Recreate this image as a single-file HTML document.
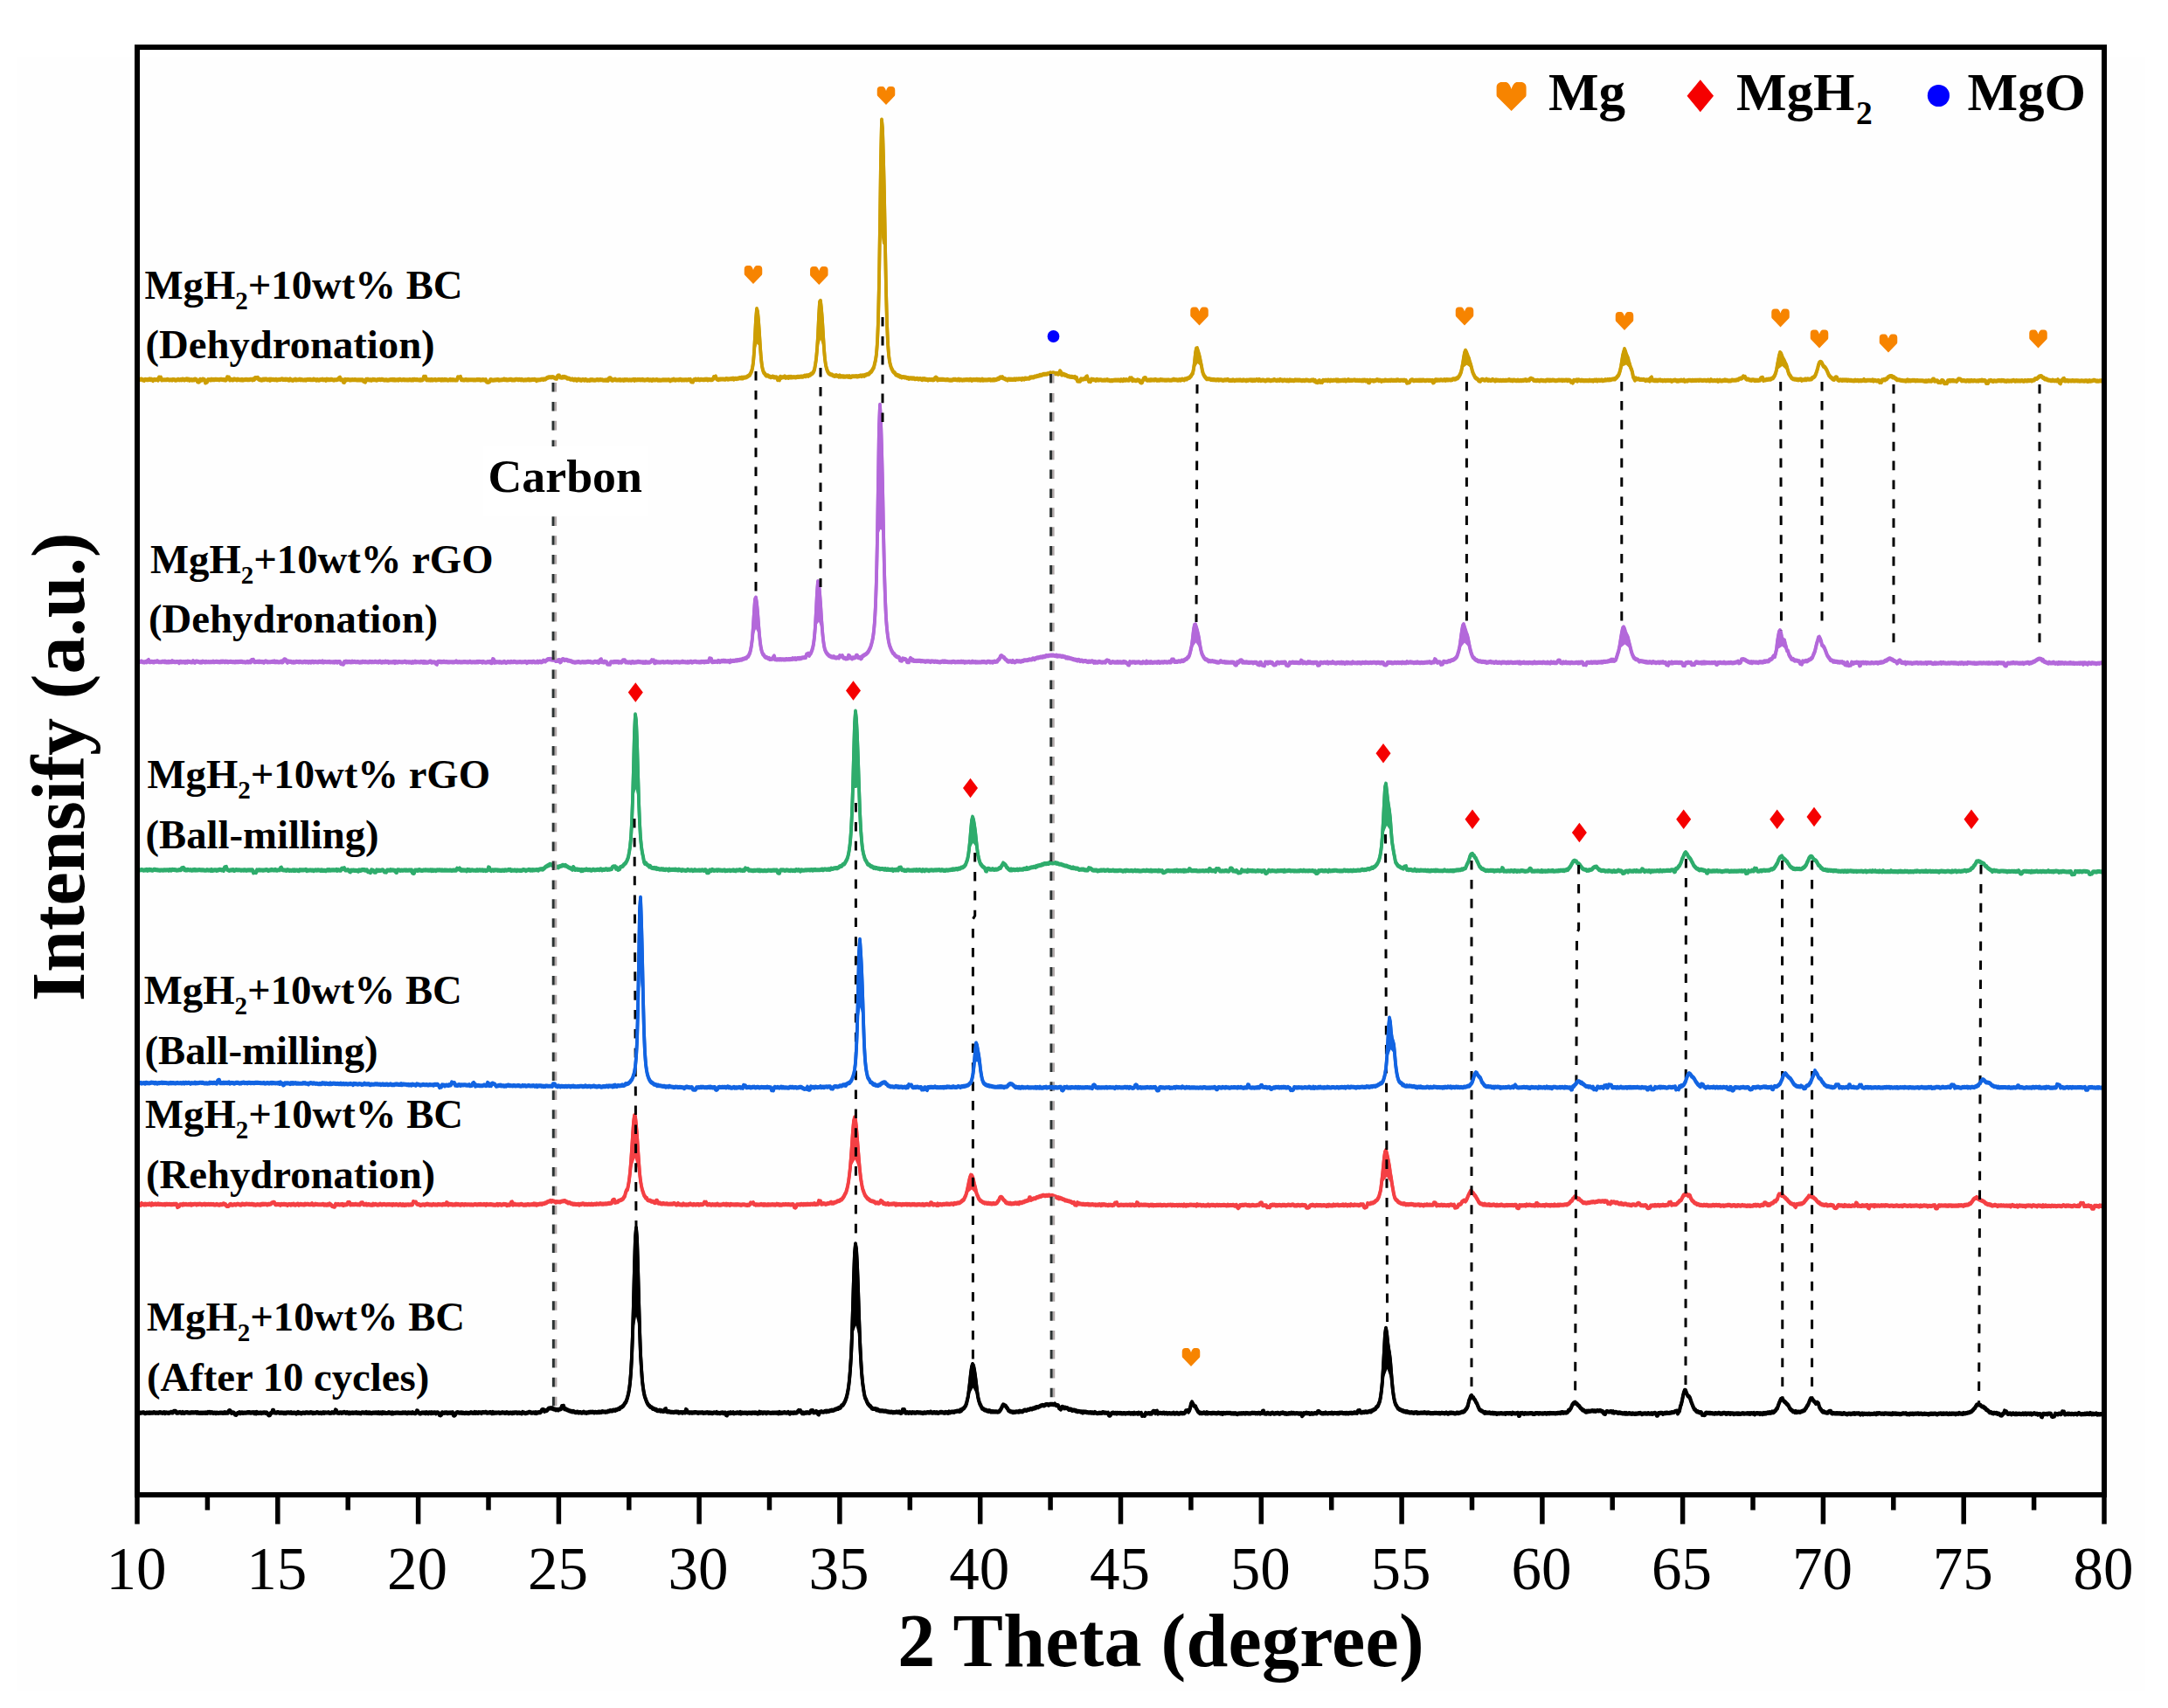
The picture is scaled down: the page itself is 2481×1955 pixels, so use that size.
<!DOCTYPE html>
<html lang="en"><head><meta charset="utf-8"><title>XRD patterns</title>
<style>html,body{margin:0;padding:0;background:#fff}body{width:2481px;height:1955px;overflow:hidden}svg{display:block}text{font-family:"Liberation Serif",serif;fill:#000}.b{font-weight:bold}.lab{font-weight:bold;font-size:46.7px}.tick{font-size:69px;text-anchor:middle}.leg{font-weight:bold;font-size:61px}</style></head><body>
<svg width="2481" height="1955" viewBox="0 0 2481 1955">
<rect x="0" y="0" width="2481" height="1955" fill="#ffffff"/>
<rect x="19" y="65" width="2436" height="1870" fill="#fefefe"/>
<g id="curves">
<path d="M157,433.4l1 .5 1-.5 1 .4 1-.4 1 0 1 .9 1-.2 1 .5 1-.9 1 .1 1 .1 1 0 1 .1 1-.8 1 .8 1-.7 1 .5 1 1.1 1-1.1 1-.1 1 .3 1-.2 1-.3 1 .9 1-3.1 1 .5 1-.4 1 2.8 1-.2 1 .1 1-.1 1 0 1 0 1-.1 1-.3 1 .4 1 .3 1-.2 1-.1 1 .4 1-.7 1 .2 1 .2 1 .5 1-.2 1-.5 1-.4 1 .7 1-.1 1-.5 1 .5 1-.8 1 .2 1 .8 1-.8 1 .3 1-.7 1 1.1 1-.7 1 1.1 1-.6 1-.2 1 .6 1-.3 1 .2 1-1 1 .3 1 .4 1 2.1 1 .3 1-.1 1-2.7 1 .6 1 .3 1-1.2 1 .4 1 .1 1 3.5 1-.4 1-.6 1-2.4 1 .1 1-.1 1 .4 1-.8 1 .6 1-.4 1 .4 1-.5 1-.1 1 .2 1 .1 1 0 1 .4 1-.7 1 .1 1 .1 1 .2 1-.1 1 .1 1 .5 1-.3 1-3 1 .2 1 .1 1 2.9 1-.7 1 .1 1 .6 1-.2 1-.9 1 .4 1 .1 1 .5 1-.9 1 .5 1 .3 1-.1 1 .2 1-.6 1 .8 1-.4 1-.1 1-.1 1-.3 1 .6 1-.2 1 .1 1-.3 1-.1 1 0 1 .6 1-1.1 1 .6 1-1.8 1-.1 1 .4 1-.5 1 1.8 1 .4 1-.3 1 .9 1-.2 1-.8 1 .5 1-.7 1 .3 1-.2 1 .6 1 .1 1-.6 1 1.1 1-1.2 1 .6 1-.4 1 .2 1 .2 1-.1 1-.4 1 .9 1-.3 1-.2 1-.2 1 .1 1-.5 1-.2 1 .8 1-.3 1 .3 1-.6 1 .5 1-.3 1 .8 1 .1 1-1.2 1 .8 1 .3 1 .4 1-.6 1-.1 1-.5 1 .8 1-.2 1 0 1-.3 1-.4 1 .8 1-.4 1 .3 1 .2 1 0 1-.3 1 .4 1-.6 1 0 1-.1 1 .2 1-.3 1 .5 1-.1 1 .1 1-.8 1 .5 1 .2 1 .5 1-.7 1 .4 1 .4 1-.7 1 0 1-.2 1-.3 1 .8 1-.3 1 0 1 .8 1-1.2 1 .5 1-.4 1 .5 1-.1 1-.5 1 .4 1 .2 1 .4 1-.5 1 0 1 0 1-.3 1-.1 1-1.5 1-.7 1 2.7 1-.1 1 .1 1 2.5 1 .2 1-3.1 1 .7 1-.5 1-.1 1 0 1 .5 1-.2 1 .1 1-.3 1 .2 1-.1 1-.1 1 0 1 .3 1 .1 1-.2 1 .1 1 0 1 0 1-.1 1-.1 1 1.6 1 .3 1 .5 1-2.8 1 .6 1-.7 1 .6 1 .2 1-.4 1 .7 1-.7 1-.3 1 .5 1-.3 1 .5 1 .1 1-.6 1 .2 1-.4 1 .3 1 0 1-.4 1 .2 1 .4 1 .4 1-.4 1-.1 1 .5 1 .1 1-.3 1-.2 1-.2 1 .2 1-.5 1 .6 1-.6 1 .8 1-.4 1 .2 1-.3 1 .5 1-.8 1 .1 1 .3 1 .2 1-.3 1-.1 1 .4 1-.2 1 0 1 .3 1-.2 1 .1 1-.4 1 .4 1 .2 1-.8 1 .7 1-.8 1 .4 1 .2 1-.3 1 .1 1 .3 1 .2 1-.6 1 .6 1-.2 1-.5 1-3 1 .1 1-.2 1 3.4 1 .2 1-.3 1 .4 1-.4 1 .5 1-.7 1 .7 1-.4 1 0 1-.4 1 .9 1-.4 1-.1 1-.3 1 .2 1 0 1 .5 1-.8 1 .6 1 .1 1-.6 1 .5 1-.3 1 .4 1 .2 1-.4 1-.5 1 .7 1-.5 1 .5 1-.4 1 .3 1 .2 1-.2 1 .1 1-3.2 1 .5 1-.5 1-.4 1 3.3 1-.3 1 .5 1 .2 1-.4 1-.2 1 .4 1-.2 1 .2 1-.1 1 0 1 0 1-.1 1 .1 1 .2 1-.2 1 .2 1-.2 1-.3 1 0 1 .3 1-.3 1 .6 1-.3 1 .1 1-.4 1 .5 1 .2 1-.5 1 2.4 1 .3 1-.1 1-.4 1-2.1 1-.2 1 .5 1 0 1 .1 1-.3 1 0 1-.2 1-.2 1 0 1 .7 1-.2 1 0 1-.2 1 0 1-.4 1-.4 1 .8 1-.4 1 .6 1-.1 1-.1 1-.3 1-.2 1-.1 1 .8 1-.3 1 .2 1 .1 1-.7 1-.1 1 0 1 .6 1-.5 1 .3 1 .3 1-.6 1 .5 1 .3 1-.1 1-.2 1 .1 1-.2 1-.1 1-.4 1 .8 1-.1 1-.3 1 0 1-.2 1 .2 1-.3 1 .4 1 .9 1-.9 1 .2 1-.2 1 .1 1-.4 1-.3 1 .1 1 .2 1-.5 1 .2 1-.7 1-.9 1-.2 1-.5 1-.1 1 .1 1 .1 1-.3 1 .1 1 .4 1 .7 1 .4 1 .1 1-2.6 1-.8 1 .2 1 1.9 1-.1 1 .4 1-1 1 .7 1-.6 1 .5 1 .1 1 1.1 1 0 1 .1 1 .5 1 .6 1-.1 1-.3 1 .7 1 .4 1-.9 1 .4 1 .8 1-.9 1-.3 1 .9 1-.4 1 .8 1-.5 1-.4 1 .4 1 .4 1-1 1 .5 1 .6 1-.1 1-.1 1 .2 1-.9 1 .5 1-.4 1 .4 1 .2 1-.1 1-.1 1-.5 1 .1 1 .4 1-.2 1-.2 1 .2 1-.1 1 .4 1 .1 1 .1 1-.3 1 .4 1-.8 1 .8 1-2.5 1-.2 1 .5 1 1.9 1 .3 1-.9 1 .1 1-.5 1 .8 1 .2 1-.2 1 .1 1-.5 1 .7 1-.3 1 .2 1-.3 1 .5 1-.8 1 .5 1-.4 1 .1 1 .4 1-.1 1-.2 1 .4 1-.3 1-.1 1-.5 1 1 1-.9 1 .3 1 .2 1-.4 1 .2 1-.2 1 .4 1-.2 1-.4 1 .7 1-.1 1 .3 1-.4 1 0 1-.5 1 .3 1 .6 1-.3 1-.1 1 .6 1-.9 1 .2 1 .3 1 0 1-.5 1 .1 1 .7 1-.2 1 0 1 .1 1-.1 1-.2 1 0 1-.1 1 .2 1-.2 1 .2 1-.1 1-.3 1 .4 1 .8 1-.8 1-.2 1 .2 1-.9 1 .9 1 .2 1-.5 1 0 1 0 1 .3 1-.6 1-.1 1 .8 1-.3 1 .2 1-.2 1 .1 1-.3 1 .4 1-.2 1-.3 1 .1 1-.2 1 2.3 1 .2 1 .2 1-2.3 1-.2 1-.5 1 .6 1-.2 1-.5 1 .8 1 .1 1-.7 1 .2 1 .2 1 0 1 .2 1-.7 1 .4 1-.5 1 .9 1-.6 1 .2 1 .2 1-.1 1 .1 1-.8 1-2.4 1 .4 1-.9 1 2.6 1 .7 1 .4 1-.6 1 .1 1-.3 1 .2 1-.2 1 .2 1 .2 1-.1 1-.7 1 .2 1 .5 1-.3 1-.2 1 .1 1-.4 1 .3 1-.5 1 .9 1-.7 1-.1 1 .4 1-.5 1 .1 1-.7 1 .2 1 .2 1-.8 1 .8 1-.9 1 0 1-.1 1-.3 1-.6 1-.5 1-.7 1-.6 1-2 1-2.1 1-3.6 1-6.4 1-12.1 1-18 1-19.7 1-11.8 1 3.1 1 10.2 1 14.2 1 16.4 1 13 1 8.5 1 4.7 1 2.7 1 1 1 1.7 1 1 1-.4 1 .3 1 .9 1 .2 1 .7 1-.3 1-.5 1 .2 1 .8 1-.1 1-.2 1 .2 1 2.8 1-.5 1 .6 1-3.5 1 1.1 1-.5 1-.1 1 0 1-.9 1 1.4 1-.4 1-.3 1 .7 1-.9 1 .6 1-.7 1 .7 1-.2 1 0 1-.2 1 .3 1 0 1-.4 1-.2 1 .2 1-.3 1 .1 1-.3 1 .1 1 0 1-.4 1-.6 1 .6 1-.9 1 .1 1 .4 1-1.1 1 .1 1-1.3 1-.1 1-.9 1-1.4 1-2.3 1-5.6 1-6.6 1-10.9 1-15.2 1-22.5 1-16.8 1-1.3 1 9.2 1 12.6 1 16.7 1 16.4 1 11.8 1 7 1 4 1 2.8 1 1.8 1 1 1 .7 1 .4 1 0 1 .9 1 .2 1 .5 1-.2 1-.6 1 .7 1 .1 1 .8 1-1.2 1 1.2 1-.4 1-.1 1 .5 1-.3 1 .3 1-.2 1-.1 1 0 1 .5 1-.7 1 .9 1-.1 1-.6 1-.1 1-.1 1 0 1 0 1-.1 1 .4 1-.3 1-.1 1-.3 1-.4 1 .8 1-.8 1 0 1 .4 1-1.1 1 0 1-.5 1-.4 1 0 1-1.1 1-1.1 1-.6 1-1.5 1-1.8 1-1.7 1-4.3 1-4.1 1-7.2 1-13 1-24.7 1-44.7 1-66 1-75 1-44.5 1 10.8 1 34 1 41.6 1 55.8 1 52.6 1 37.6 1 23.3 1 13.4 1 7.6 1 4.4 1 3.1 1 1.9 1 2 1 1.1 1 .8 1 1.5 1 .8 1-.1 1 1 1-.1 1 1.1 1-.2 1 1 1-.5 1 0 1 .5 1-.2 1 .4 1 .5 1-.2 1 .8 1-.5 1 .3 1-.3 1 .5 1-.4 1 .2 1 .6 1-.1 1-.2 1 0 1 .7 1-.3 1-.3 1 .4 1 .8 1-1 1 .5 1-.6 1 .8 1-.2 1 .1 1 .8 1-.7 1 .1 1 0 1 .2 1-.4 1 .6 1-.3 1-1.9 1-.6 1 .6 1 2.3 1-.6 1-.1 1 .1 1-.2 1 .3 1-.3 1 .2 1 .2 1 .1 1 0 1-.4 1 .5 1 .2 1 .1 1 0 1 0 1-.1 1-.6 1 .1 1-.3 1 .4 1 .1 1 .2 1-.8 1 1 1-.5 1 .1 1 .4 1-.1 1-.2 1 .1 1-.3 1 0 1 0 1 .2 1 .2 1-.6 1-.1 1 1.1 1-.6 1-.3 1 .2 1-.2 1 .1 1-.4 1 .8 1-.1 1-.4 1 .8 1-.2 1-1 1 1.1 1-.2 1-.2 1 .2 1-.1 1 .1 1-.5 1 .3 1-.3 1 .7 1-.4 1 .3 1-.7 1 .6 1-.4 1-.1 1-.4 1-.9 1 .4 1-1.3 1-.6 1 .6 1-.7 1 1.2 1 .4 1 .3 1 .7 1 0 1 .8 1-1 1 .1 1 .4 1-.4 1 .4 1-.1 1 0 1-.5 1 .8 1-.8 1 .1 1 0 1-.3 1 .1 1-.1 1 .6 1-.9 1 .3 1 .4 1-1.1 1 .4 1-.2 1 0 1 .1 1 0 1-1.4 1 .2 1-.4 1 .2 1 .1 1-.9 1-.1 1-.1 1-.7 1 .2 1-.3 1-.9 1 .4 1-.3 1-.5 1-.4 1 .1 1-.3 1 0 1-.1 1-.4 1-.1 1-.2 1-.6 1 .3 1 .4 1-.7 1 .3 1 .2 1 .5 1-.3 1 0 1 .7 1-.6 1-2.8 1 1.1 1 3 1 0 1-.8 1 .7 1 .7 1-.2 1 .8 1 .5 1 .1 1 .5 1 .1 1 .1 1-.1 1 .4 1 0 1-.3 1 1.5 1-.6 1 3.7 1 .1 1 0 1 .1 1-2.3 1 .1 1 .3 1-.4 1-.5 1 .3 1-2.4 1-.4 1 3.2 1 2.3 1-.5 1 .8 1-2.5 1 .3 1-.1 1 .4 1 0 1 .6 1-1 1 .1 1 .6 1-.2 1-.1 1-.1 1 .6 1-.1 1 .1 1-.3 1 .1 1-.1 1-.5 1 .7 1 0 1 .5 1 .1 1-.4 1 .4 1-.6 1 0 1-.1 1-.1 1 .2 1-.2 1 .1 1 0 1 .6 1-1 1 .7 1 .3 1-1.3 1 .9 1 0 1-.8 1 .5 1 .1 1 .1 1-2.3 1 .6 1-.6 1 2.7 1-.9 1 .5 1 .2 1 .4 1-.7 1-.3 1 .6 1 .2 1 1.8 1 .5 1-.2 1-2.5 1-2.1 1-.5 1 .2 1 2.1 1 .3 1 .1 1-.6 1 .6 1-.7 1 .5 1-.2 1-.1 1 .4 1-.8 1 .3 1 .7 1-.3 1 0 1 0 1-.6 1 .4 1-.1 1 .2 1 0 1 .2 1-.1 1 .2 1-.2 1-.2 1 .2 1 .1 1 0 1-.1 1-.3 1-.6 1 .7 1-.3 1 .3 1-.1 1 .5 1-.5 1-.2 1 .6 1-.5 1-.7 1 .5 1 .4 1-1 1 0 1 .1 1-1 1-.3 1-.4 1-.9 1-1.1 1-1.8 1-1.4 1-5.1 1-7.3 1-10.4 1-5.3 1-.3 1 3.3 1 3.2 1 4.1 1 5 1 4.7 1 5.8 1 3.3 1 1.8 1 1.5 1 1.3 1 1 1-.1 1 .1 1 0 1 .5 1 .4 1-.4 1 .6 1-.5 1 .5 1 .1 1-.2 1 .2 1-.4 1 .6 1-.3 1 0 1 .1 1 .3 1 .2 1-.4 1-.2 1 .2 1-.2 1-.5 1 .9 1 .2 1-.2 1 .2 1 0 1-.6 1 .6 1 .3 1-.4 1-.2 1 .1 1-.1 1 .1 1-.4 1 .5 1 .1 1 0 1-.5 1 .3 1 0 1 .6 1-.8 1 .5 1-.5 1 0 1-.1 1 .5 1-.6 1 .9 1-.8 1 .6 1-.4 1-.6 1 .4 1 .6 1-1.1 1 .7 1 .5 1-.3 1-.2 1 0 1 .4 1 .5 1-.4 1-.8 1 .4 1-.4 1 .5 1 .5 1-.3 1-.2 1-.1 1-.7 1 .4 1 .4 1 .4 1-.7 1 .2 1 .2 1-1 1 .7 1-.1 1 .8 1-.6 1-.3 1 .4 1 .3 1-.6 1 .7 1 .2 1-1.1 1 .6 1 0 1-.1 1 .4 1-.1 1-.8 1 .5 1-.2 1 0 1 .3 1-.4 1 .2 1 .2 1 .4 1-.6 1 .4 1 .2 1-.7 1 .2 1-.2 1 .3 1 .3 1 .1 1-.3 1-.5 1 .2 1-.4 1 1.3 1-.6 1 1.8 1 .2 1 .1 1-1.7 1-.3 1 1.8 1-.4 1 .5 1-2.1 1 .1 1 0 1-.2 1-.1 1 .6 1-.8 1 .4 1 .6 1-1 1 .5 1 0 1-.3 1 .1 1 0 1-.4 1 1 1-1 1 1 1-.5 1 .4 1-.4 1 .1 1-.5 1 .6 1-.7 1 1.1 1-.2 1-.8 1-.5 1 1.2 1-.4 1 .1 1 0 1-.2 1-.1 1-.2 1 .5 1 0 1-.2 1 .1 1 .4 1-.5 1 .4 1 .3 1-.8 1 .7 1-.8 1 0 1 1 1-.7 1 0 1 2.5 1 0 1-2.6 1 .3 1 .2 1-.4 1 .8 1-.6 1 .1 1-.5 1-.5 1 .4 1 .7 1-.6 1 .3 1 .9 1-.7 1 .1 1 0 1-.7 1 .4 1 0 1 .2 1-.1 1-.2 1 .3 1-.6 1 .4 1-.1 1 .1 1 .1 1-.2 1 .2 1-.7 1 .2 1 .4 1 .2 1-.3 1-.1 1 .1 1 .2 1-.4 1 .5 1-.1 1 2.6 1-.1 1-.2 1-.3 1-1.8 1-.5 1-.5 1 .5 1 .7 1-.3 1-.3 1 .1 1-.2 1 .4 1-.5 1 .6 1-.6 1 .5 1-.6 1 0 1 .6 1 .2 1-.3 1-.3 1 0 1 .4 1-.3 1 .2 1 .4 1-.6 1 2.6 1-.4 1-2.2 1-.7 1 .9 1-.6 1 .4 1-.3 1 .1 1-.4 1 .3 1 .2 1-.2 1-.5 1 .8 1-.5 1-.2 1 .4 1-.3 1 0 1 .2 1 0 1-.4 1-.8 1 0 1 .5 1-.4 1-1 1 .1 1-1.3 1-1.3 1-1.9 1-2.5 1-4.6 1-5.3 1-6.4 1-5.7 1-2.6 1 1.6 1 2.6 1 2.6 1 2.3 1 3.9 1 2.8 1 3.8 1 4.2 1 2.6 1 2 1 2 1 1.1 1 .7 1 .5 1 1.5 1 .6 1 .2 1-1.5 1-.6 1 .3 1 .4 1 .4 1-.3 1-.9 1 .6 1 .8 1-.7 1 .4 1 .3 1-.2 1-.9 1 .6 1 .3 1 .7 1-1.1 1 .6 1-.5 1 .5 1 .1 1-.3 1 .3 1-.1 1-.2 1 .1 1 .2 1-.4 1 .2 1-.2 1 0 1-.7 1 .8 1 .2 1-.4 1 .8 1-.8 1-.1 1 .5 1 .1 1 .1 1-.6 1 .6 1 .1 1-.6 1 .6 1-.4 1 .1 1-.4 1 .1 1-.5 1 .9 1-.4 1-.2 1 .2 1-1.6 1-.4 1 .4 1 .3 1 1.3 1 .3 1 0 1 .2 1-.3 1-.1 1 .4 1 .2 1-.6 1 0 1 .2 1 .1 1 .1 1 0 1 .2 1-.8 1-.1 1 .1 1 .6 1-.7 1 .5 1-.2 1-.2 1 .2 1 0 1 .5 1-.1 1-.3 1-.2 1-.2 1 .3 1-.1 1-.1 1 .5 1-.5 1 .3 1-.2 1-.1 1-.1 1 .7 1-.6 1 .1 1 .4 1 1.7 1-.1 1 .8 1-2.8 1 .2 1 .2 1-.7 1 1.2 1-1.3 1 .2 1 .4 1 .4 1-.7 1 .5 1-.1 1 .4 1-.3 1-.1 1 .2 1-.1 1 .3 1-.8 1 .5 1 .1 1-.3 1 .7 1-.9 1-.1 1 .5 1-.7 1 1 1-.6 1-.2 1 .4 1-.2 1-.4 1 .9 1-.2 1-.3 1-.7 1 .5 1-.2 1-.4 1 .5 1-.6 1 .4 1-.4 1-.3 1-.2 1-.2 1 .2 1-1 1-.7 1-1.3 1-1.1 1-2.2 1-3.5 1-4.3 1-6.4 1-6.3 1-4 1-3.5 1 2.5 1 3.3 1 2.2 1 2.3 1 4.1 1 3.1 1 3.5 1 2.2 1 3.1 1 5.7 1 1.5 1 2 1-2.2 1 1 1 0 1-.3 1 .6 1 .3 1-.1 1 .1 1 0 1-.1 1 .5 1 .7 1-.9 1 .3 1 .4 1-.9 1 1.5 1-3.1 1-.9 1 3.2 1-.1 1 .5 1-.6 1 .7 1-.6 1 .7 1-.7 1 .1 1-.3 1 .7 1-.2 1 .5 1-.3 1-.4 1 .7 1-.4 1-.1 1 .1 1-.1 1 .2 1-.3 1 1.1 1-.6 1-.4 1-.2 1-.2 1 .7 1 .5 1-.7 1 .6 1-.7 1 .3 1-.6 1 .4 1 .2 1-.7 1 1.3 1-.4 1-.2 1 .4 1-.8 1-.1 1 .1 1 .2 1 .2 1-.5 1 .4 1-.2 1 0 1 .1 1-.3 1 .1 1 .2 1-.4 1 .2 1 0 1 .3 1-.2 1-.2 1 .1 1 .2 1 .3 1-.6 1-.2 1 .9 1 0 1-1.3 1 .8 1 .4 1 0 1-.6 1 .6 1 0 1-.6 1 1.1 1-.5 1-.7 1 .6 1 .2 1 0 1-.4 1-.1 1-.6 1 .8 1-.4 1 .4 1 .4 1-.1 1 0 1-.2 1-.6 1 .2 1 0 1-.1 1 .1 1-.2 1-.4 1 .1 1-1.1 1-.3 1-.4 1 .1 1-.8 1-1.5 1 1 1-.4 1 2.1 1 .6 1 0 1 0 1 .8 1 .1 1 .4 1-.6 1 .1 1 0 1 .8 1-.6 1 .4 1-.3 1 .3 1-.3 1 .1 1-2.3 1-.6 1-.2 1 3.3 1-.8 1 .3 1-.3 1-.5 1 .3 1-.5 1 .1 1 .1 1-.6 1-.6 1-.3 1-1.4 1-1.7 1-2.4 1-3.9 1-5.7 1-5.3 1-5.2 1-3.6 1 1 1 2.5 1 2.6 1 1.8 1 1.8 1 2.5 1 1.7 1 2.9 1 4 1 3.2 1 1.7 1 1.4 1 1.7 1 .8 1 .7 1 .1 1 .3 1-.1 1 .4 1-.2 1 .6 1-.7 1 .2 1-.4 1 1.4 1-.7 1 .1 1 0 1-1 1 .9 1-.7 1-.1 1 .3 1 0 1-.3 1 0 1-1.4 1-.4 1-.8 1-.9 1-2.2 1-2.9 1-3.3 1-4.1 1-2.7 1-1 1 .2 1 1.2 1 2.3 1 1.5 1 .6 1 1.1 1 1.7 1 2 1 2.5 1 2.2 1 1.2 1 1.2 1 .5 1 1.2 1 .7 1 .1 1-1.9 1-.7 1 .2 1 2.5 1 .7 1 .2 1-.7 1 .2 1 .6 1-.7 1 .4 1-.3 1 .3 1-.4 1 .8 1-.5 1 .2 1 .2 1-.2 1 .3 1 .1 1 0 1 .2 1-.8 1 .5 1-.1 1-.1 1 .6 1-.5 1 0 1 .4 1-.3 1-.2 1-.9 1 1.1 1 .1 1-.1 1-.4 1 0 1 0 1 .1 1 .2 1 0 1-.7 1 1.2 1-.7 1 .2 1 .3 1 .2 1-.4 1-.1 1 2 1-1.1 1 1 1-2.5 1 .2 1-.8 1 .5 1-.9 1 0 1-1.2 1-1.2 1-.5 1-.4 1 .2 1-.2 1 1.4 1-.4 1 .6 1 1 1 .3 1 1.3 1-.1 1 .1 1 .2 1 .2 1 .3 1 0 1 .2 1 .1 1 .1 1 .3 1-.7 1-.6 1 1 1-.5 1 .5 1-.2 1-.2 1-.1 1 .1 1-.1 1 .5 1-.1 1-.4 1 .3 1 0 1 .1 1 0 1 0 1-.1 1 .2 1 .3 1 .2 1-.6 1 .7 1-.6 1-.3 1 .5 1-.2 1 .4 1-.8 1-1.4 1-.1 1 2.3 1-.2 1-.3 1-.1 1 1.8 1-.1 1-.2 1 .5 1-2.1 1 0 1 .5 1 2.5 1 .1 1-.5 1 .4 1-2.8 1 .5 1-1 1 .8 1-.5 1 .3 1-.6 1 .6 1 .1 1 0 1 .5 1-1.1 1-1.4 1-.1 1 .2 1 .5 1 1.3 1-.3 1-.1 1 .1 1 .4 1 .2 1-.6 1 0 1 .5 1-.6 1 .6 1-.7 1 .5 1 .1 1-.4 1 0 1 .3 1 .2 1-.3 1 .3 1-.6 1 0 1 .2 1-.7 1 .7 1-.1 1-.1 1 .2 1 2.7 1-.2 1 .3 1-2.6 1 .1 1-.6 1 .2 1 .7 1 .2 1-.8 1 .2 1 .3 1 0 1-.5 1-.2 1 .1 1 .2 1 .2 1-.7 1 .5 1-.2 1 .6 1-.2 1 .5 1-.8 1 0 1 .6 1-.3 1 0 1 .2 1-.5 1-.4 1 .3 1 .7 1-.5 1-.2 1 .4 1-.1 1-.1 1 .3 1-.4 1-.1 1 .5 1 .3 1-.9 1 .3 1 .1 1 .1 1-.6 1 .4 1-.2 1-.2 1 .6 1-.5 1-.4 1-.2 1-1.4 1 0 1-.1 1-1 1-.6 1-1.1 1 .1 1-.3 1 .9 1 1 1 .2 1 1.3 1-.1 1 .1 1 .9 1 .2 1 .3 1-.1 1 .6 1-.1 1-.7 1 .6 1 .3 1-.3 1 .2 1 .2 1-1.3 1 1.4 1 2 1 .7 1-3.2 1 .2 1-2.1 1-.3 1 2.6 1-.1 1-.5 1 .2 1 .6 1-.5 1 0 1 .2 1 0 1-.4 1 .5 1-.3 1 .2 1-.3 1 .3 1-.1 1 .2 1 .1 1-.1 1-.1 1 0 1 .2 1 .2 1-.5 1 .1 1-.2 1 .8 1-.1 1-.8 1 .5 1 0 1-.2 1-.3 1-.3 1-.1 1 .6 1 .4 1-.3 1 .3 1-.1 1-.2 1-.1 1 .1 1-.3 1 .7 1 0" fill="none" stroke="#cd9e03" stroke-width="3.7" stroke-linejoin="round"/>
<path d="M157,434.8l1 .5 1-.5 1 .4 1-.4 1 0 1 .9 1-.2 1 .5 1-.9 1 .1 1 .1 1 0 1 .1 1-.8 1 .8 1-.7 1 .5 1 1.1 1-1.1 1-.1 1 .3 1-.2 1-.3 1 .9 1-3.1 1 .5 1-.4 1 2.8 1-.2 1 .1 1-.1 1 0 1 0 1-.1 1-.3 1 .4 1 .3 1-.2 1-.1 1 .4 1-.7 1 .2 1 .2 1 .5 1-.2 1-.5 1-.4 1 .7 1-.1 1-.5 1 .5 1-.8 1 .2 1 .8 1-.8 1 .3 1-.7 1 1.1 1-.7 1 1.1 1-.6 1-.2 1 .6 1-.3 1 .2 1-1 1 .3 1 .4 1 2.1 1 .3 1-.1 1-2.7 1 .6 1 .3 1-1.2 1 .4 1 .1 1 3.5 1-.4 1-.6 1-2.4 1 .1 1-.1 1 .4 1-.8 1 .6 1-.4 1 .4 1-.5 1-.1 1 .2 1 .1 1 0 1 .4 1-.7 1 .1 1 .1 1 .2 1-.1 1 .1 1 .5 1-.3 1-3 1 .2 1 .1 1 2.9 1-.7 1 .1 1 .6 1-.2 1-.9 1 .4 1 .1 1 .5 1-.9 1 .5 1 .3 1-.1 1 .2 1-.6 1 .8 1-.4 1-.1 1-.1 1-.3 1 .6 1-.2 1 .1 1-.3 1-.1 1 0 1 .6 1-1.1 1 .6 1-1.8 1-.1 1 .4 1-.5 1 1.8 1 .4 1-.3 1 .9 1-.2 1-.8 1 .5 1-.7 1 .3 1-.2 1 .6 1 .1 1-.6 1 1.1 1-1.2 1 .6 1-.4 1 .2 1 .2 1-.1 1-.4 1 .9 1-.3 1-.2 1-.2 1 .1 1-.5 1-.2 1 .8 1-.3 1 .3 1-.6 1 .5 1-.3 1 .8 1 .1 1-1.2 1 .8 1 .3 1 .4 1-.6 1-.1 1-.5 1 .8 1-.2 1 0 1-.3 1-.4 1 .8 1-.4 1 .3 1 .2 1 0 1-.3 1 .4 1-.6 1 0 1-.1 1 .2 1-.3 1 .5 1-.1 1 .1 1-.8 1 .5 1 .2 1 .5 1-.7 1 .4 1 .4 1-.7 1 0 1-.2 1-.3 1 .8 1-.3 1 0 1 .8 1-1.2 1 .5 1-.4 1 .5 1-.1 1-.5 1 .4 1 .2 1 .4 1-.5 1 0 1 0 1-.3 1-.1 1-1.5 1-.7 1 2.7 1-.1 1 .1 1 2.5 1 .2 1-3.1 1 .7 1-.5 1-.1 1 0 1 .5 1-.2 1 .1 1-.3 1 .2 1-.1 1-.1 1 0 1 .3 1 .1 1-.2 1 .1 1 0 1 0 1-.1 1-.1 1 1.6 1 .3 1 .5 1-2.8 1 .6 1-.7 1 .6 1 .2 1-.4 1 .7 1-.7 1-.3 1 .5 1-.3 1 .5 1 .1 1-.6 1 .2 1-.4 1 .3 1 0 1-.4 1 .2 1 .4 1 .4 1-.4 1-.1 1 .5 1 .1 1-.3 1-.2 1-.2 1 .2 1-.5 1 .6 1-.6 1 .8 1-.4 1 .2 1-.3 1 .5 1-.8 1 .1 1 .3 1 .2 1-.3 1-.1 1 .4 1-.2 1 0 1 .3 1-.2 1 .1 1-.4 1 .4 1 .2 1-.8 1 .7 1-.8 1 .4 1 .2 1-.3 1 .1 1 .3 1 .2 1-.6 1 .6 1-.2 1-.5 1-3 1 .1 1-.2 1 3.4 1 .2 1-.3 1 .4 1-.4 1 .5 1-.7 1 .7 1-.4 1 0 1-.4 1 .9 1-.4 1-.1 1-.3 1 .2 1 0 1 .5 1-.8 1 .6 1 .1 1-.6 1 .5 1-.3 1 .4 1 .2 1-.4 1-.5 1 .7 1-.5 1 .5 1-.4 1 .3 1 .2 1-.2 1 .1 1-3.2 1 .5 1-.5 1-.4 1 3.3 1-.3 1 .5 1 .2 1-.4 1-.2 1 .4 1-.2 1 .2 1-.1 1 0 1 0 1-.1 1 .1 1 .2 1-.2 1 .2 1-.2 1-.3 1 0 1 .3 1-.3 1 .6 1-.3 1 .1 1-.4 1 .5 1 .2 1-.5 1 2.4 1 .3 1-.1 1-.4 1-2.1 1-.2 1 .5 1 0 1 .1 1-.3 1 0 1-.2 1-.2 1 0 1 .7 1-.2 1 0 1-.2 1 0 1-.4 1-.4 1 .8 1-.4 1 .6 1-.1 1-.1 1-.3 1-.2 1-.1 1 .8 1-.3 1 .2 1 .1 1-.7 1-.1 1 0 1 .6 1-.5 1 .3 1 .3 1-.6 1 .5 1 .3 1-.1 1-.2 1 .1 1-.2 1-.1 1-.4 1 .8 1-.1 1-.3 1 0 1-.2 1 .2 1-.3 1 .4 1 .9 1-.9 1 .2 1-.2 1 .1 1-.4 1-.3 1 .1 1 .2 1-.5 1 .2 1-.7 1-.9 1-.2 1-.5 1-.1 1 .1 1 .1 1-.3 1 .1 1 .4 1 .7 1 .4 1 .1 1-2.6 1-.8 1 .2 1 1.9 1-.1 1 .4 1-1 1 .7 1-.6 1 .5 1 .1 1 1.1 1 0 1 .1 1 .5 1 .6 1-.1 1-.3 1 .7 1 .4 1-.9 1 .4 1 .8 1-.9 1-.3 1 .9 1-.4 1 .8 1-.5 1-.4 1 .4 1 .4 1-1 1 .5 1 .6 1-.1 1-.1 1 .2 1-.9 1 .5 1-.4 1 .4 1 .2 1-.1 1-.1 1-.5 1 .1 1 .4 1-.2 1-.2 1 .2 1-.1 1 .4 1 .1 1 .1 1-.3 1 .4 1-.8 1 .8 1-2.5 1-.2 1 .5 1 1.9 1 .3 1-.9 1 .1 1-.5 1 .8 1 .2 1-.2 1 .1 1-.5 1 .7 1-.3 1 .2 1-.3 1 .5 1-.8 1 .5 1-.4 1 .1 1 .4 1-.1 1-.2 1 .4 1-.3 1-.1 1-.5 1 1 1-.9 1 .3 1 .2 1-.4 1 .2 1-.2 1 .4 1-.2 1-.4 1 .7 1-.1 1 .3 1-.4 1 0 1-.5 1 .3 1 .6 1-.3 1-.1 1 .6 1-.9 1 .2 1 .3 1 0 1-.5 1 .1 1 .7 1-.2 1 0 1 .1 1-.1 1-.2 1 0 1-.1 1 .2 1-.2 1 .2 1-.1 1-.3 1 .4 1 .8 1-.8 1-.2 1 .2 1-.9 1 .9 1 .2 1-.5 1 0 1 0 1 .3 1-.6 1-.1 1 .8 1-.3 1 .2 1-.2 1 .1 1-.3 1 .4 1-.2 1-.3 1 .1 1-.2 1 2.3 1 .2 1 .2 1-2.3 1-.2 1-.5 1 .6 1-.2 1-.5 1 .8 1 .1 1-.7 1 .2 1 .2 1 0 1 .2 1-.7 1 .4 1-.5 1 .9 1-.6 1 .2 1 .2 1-.1 1 .1 1-.8 1-2.4 1 .4 1-.9 1 2.6 1 .7 1 .4 1-.6 1 .1 1-.3 1 .2 1-.2 1 .2 1 .2 1-.1 1-.7 1 .2 1 .5 1-.3 1-.2 1 .1 1-.4 1 .3 1-.5 1 .9 1-.7 1-.1 1 .4 1-.5 1 .1 1-.7 1 .2 1 .2 1-.8 1 .8 1-.9 1 0 1-.1 1-.3 1-.6 1-.5 1-.7 1-.6 1-2 1-2.1 1-3.6 1-6.4 1-12.1 1-18 1-19.7 1-11.8 1 3.1 1 10.2 1 14.2 1 16.4 1 13 1 8.5 1 4.7 1 2.7 1 1 1 1.7 1 1 1-.4 1 .3 1 .9 1 .2 1 .7 1-.3 1-.5 1 .2 1 .8 1-.1 1-.2 1 .2 1 2.8 1-.5 1 .6 1-3.5 1 1.1 1-.5 1-.1 1 0 1-.9 1 1.4 1-.4 1-.3 1 .7 1-.9 1 .6 1-.7 1 .7 1-.2 1 0 1-.2 1 .3 1 0 1-.4 1-.2 1 .2 1-.3 1 .1 1-.3 1 .1 1 0 1-.4 1-.6 1 .6 1-.9 1 .1 1 .4 1-1.1 1 .1 1-1.3 1-.1 1-.9 1-1.4 1-2.3 1-5.6 1-6.6 1-10.9 1-15.2 1-22.5 1-16.8 1-1.3 1 9.2 1 12.6 1 16.7 1 16.4 1 11.8 1 7 1 4 1 2.8 1 1.8 1 1 1 .7 1 .4 1 0 1 .9 1 .2 1 .5 1-.2 1-.6 1 .7 1 .1 1 .8 1-1.2 1 1.2 1-.4 1-.1 1 .5 1-.3 1 .3 1-.2 1-.1 1 0 1 .5 1-.7 1 .9 1-.1 1-.6 1-.1 1-.1 1 0 1 0 1-.1 1 .4 1-.3 1-.1 1-.3 1-.4 1 .8 1-.8 1 0 1 .4 1-1.1 1 0 1-.5 1-.4 1 0 1-1.1 1-1.1 1-.6 1-1.5 1-1.8 1-1.7 1-4.3 1-4.1 1-7.2 1-13 1-24.7 1-44.7 1-66 1-75 1-44.5 1 10.8 1 34 1 41.6 1 55.8 1 52.6 1 37.6 1 23.3 1 13.4 1 7.6 1 4.4 1 3.1 1 1.9 1 2 1 1.1 1 .8 1 1.5 1 .8 1-.1 1 1 1-.1 1 1.1 1-.2 1 1 1-.5 1 0 1 .5 1-.2 1 .4 1 .5 1-.2 1 .8 1-.5 1 .3 1-.3 1 .5 1-.4 1 .2 1 .6 1-.1 1-.2 1 0 1 .7 1-.3 1-.3 1 .4 1 .8 1-1 1 .5 1-.6 1 .8 1-.2 1 .1 1 .8 1-.7 1 .1 1 0 1 .2 1-.4 1 .6 1-.3 1-1.9 1-.6 1 .6 1 2.3 1-.6 1-.1 1 .1 1-.2 1 .3 1-.3 1 .2 1 .2 1 .1 1 0 1-.4 1 .5 1 .2 1 .1 1 0 1 0 1-.1 1-.6 1 .1 1-.3 1 .4 1 .1 1 .2 1-.8 1 1 1-.5 1 .1 1 .4 1-.1 1-.2 1 .1 1-.3 1 0 1 0 1 .2 1 .2 1-.6 1-.1 1 1.1 1-.6 1-.3 1 .2 1-.2 1 .1 1-.4 1 .8 1-.1 1-.4 1 .8 1-.2 1-1 1 1.1 1-.2 1-.2 1 .2 1-.1 1 .1 1-.5 1 .3 1-.3 1 .7 1-.4 1 .3 1-.7 1 .6 1-.4 1-.1 1-.4 1-.9 1 .4 1-1.3 1-.6 1 .6 1-.7 1 1.2 1 .4 1 .3 1 .7 1 0 1 .8 1-1 1 .1 1 .4 1-.4 1 .4 1-.1 1 0 1-.5 1 .8 1-.8 1 .1 1 0 1-.3 1 .1 1-.1 1 .6 1-.9 1 .3 1 .4 1-1.1 1 .4 1-.2 1 0 1 .1 1 0 1-1.4 1 .2 1-.4 1 .2 1 .1 1-.9 1-.1 1-.1 1-.7 1 .2 1-.3 1-.9 1 .4 1-.3 1-.5 1-.4 1 .1 1-.3 1 0 1-.1 1-.4 1-.1 1-.2 1-.6 1 .3 1 .4 1-.7 1 .3 1 .2 1 .5 1-.3 1 0 1 .7 1-.6 1-2.8 1 1.1 1 3 1 0 1-.8 1 .7 1 .7 1-.2 1 .8 1 .5 1 .1 1 .5 1 .1 1 .1 1-.1 1 .4 1 0 1-.3 1 1.5 1-.6 1 3.7 1 .1 1 0 1 .1 1-2.3 1 .1 1 .3 1-.4 1-.5 1 .3 1-2.4 1-.4 1 3.2 1 2.3 1-.5 1 .8 1-2.5 1 .3 1-.1 1 .4 1 0 1 .6 1-1 1 .1 1 .6 1-.2 1-.1 1-.1 1 .6 1-.1 1 .1 1-.3 1 .1 1-.1 1-.5 1 .7 1 0 1 .5 1 .1 1-.4 1 .4 1-.6 1 0 1-.1 1-.1 1 .2 1-.2 1 .1 1 0 1 .6 1-1 1 .7 1 .3 1-1.3 1 .9 1 0 1-.8 1 .5 1 .1 1 .1 1-2.3 1 .6 1-.6 1 2.7 1-.9 1 .5 1 .2 1 .4 1-.7 1-.3 1 .6 1 .2 1 1.8 1 .5 1-.2 1-2.5 1-2.1 1-.5 1 .2 1 2.1 1 .3 1 .1 1-.6 1 .6 1-.7 1 .5 1-.2 1-.1 1 .4 1-.8 1 .3 1 .7 1-.3 1 0 1 0 1-.6 1 .4 1-.1 1 .2 1 0 1 .2 1-.1 1 .2 1-.2 1-.2 1 .2 1 .1 1 0 1-.1 1-.3 1-.6 1 .7 1-.3 1 .3 1-.1 1 .5 1-.5 1-.2 1 .6 1-.5 1-.7 1 .5 1 .4 1-1 1 0 1 .1 1-1 1-.3 1-.4 1-.9 1-1.1 1-1.8 1-1.4 1-5.1 1-7.3 1-10.4 1-5.3 1-.3 1 3.3 1 3.2 1 4.1 1 5 1 4.7 1 5.8 1 3.3 1 1.8 1 1.5 1 1.3 1 1 1-.1 1 .1 1 0 1 .5 1 .4 1-.4 1 .6 1-.5 1 .5 1 .1 1-.2 1 .2 1-.4 1 .6 1-.3 1 0 1 .1 1 .3 1 .2 1-.4 1-.2 1 .2 1-.2 1-.5 1 .9 1 .2 1-.2 1 .2 1 0 1-.6 1 .6 1 .3 1-.4 1-.2 1 .1 1-.1 1 .1 1-.4 1 .5 1 .1 1 0 1-.5 1 .3 1 0 1 .6 1-.8 1 .5 1-.5 1 0 1-.1 1 .5 1-.6 1 .9 1-.8 1 .6 1-.4 1-.6 1 .4 1 .6 1-1.1 1 .7 1 .5 1-.3 1-.2 1 0 1 .4 1 .5 1-.4 1-.8 1 .4 1-.4 1 .5 1 .5 1-.3 1-.2 1-.1 1-.7 1 .4 1 .4 1 .4 1-.7 1 .2 1 .2 1-1 1 .7 1-.1 1 .8 1-.6 1-.3 1 .4 1 .3 1-.6 1 .7 1 .2 1-1.1 1 .6 1 0 1-.1 1 .4 1-.1 1-.8 1 .5 1-.2 1 0 1 .3 1-.4 1 .2 1 .2 1 .4 1-.6 1 .4 1 .2 1-.7 1 .2 1-.2 1 .3 1 .3 1 .1 1-.3 1-.5 1 .2 1-.4 1 1.3 1-.6 1 1.8 1 .2 1 .1 1-1.7 1-.3 1 1.8 1-.4 1 .5 1-2.1 1 .1 1 0 1-.2 1-.1 1 .6 1-.8 1 .4 1 .6 1-1 1 .5 1 0 1-.3 1 .1 1 0 1-.4 1 1 1-1 1 1 1-.5 1 .4 1-.4 1 .1 1-.5 1 .6 1-.7 1 1.1 1-.2 1-.8 1-.5 1 1.2 1-.4 1 .1 1 0 1-.2 1-.1 1-.2 1 .5 1 0 1-.2 1 .1 1 .4 1-.5 1 .4 1 .3 1-.8 1 .7 1-.8 1 0 1 1 1-.7 1 0 1 2.5 1 0 1-2.6 1 .3 1 .2 1-.4 1 .8 1-.6 1 .1 1-.5 1-.5 1 .4 1 .7 1-.6 1 .3 1 .9 1-.7 1 .1 1 0 1-.7 1 .4 1 0 1 .2 1-.1 1-.2 1 .3 1-.6 1 .4 1-.1 1 .1 1 .1 1-.2 1 .2 1-.7 1 .2 1 .4 1 .2 1-.3 1-.1 1 .1 1 .2 1-.4 1 .5 1-.1 1 2.6 1-.1 1-.2 1-.3 1-1.8 1-.5 1-.5 1 .5 1 .7 1-.3 1-.3 1 .1 1-.2 1 .4 1-.5 1 .6 1-.6 1 .5 1-.6 1 0 1 .6 1 .2 1-.3 1-.3 1 0 1 .4 1-.3 1 .2 1 .4 1-.6 1 2.6 1-.4 1-2.2 1-.7 1 .9 1-.6 1 .4 1-.3 1 .1 1-.4 1 .3 1 .2 1-.2 1-.5 1 .8 1-.5 1-.2 1 .4 1-.3 1 0 1 .2 1 0 1-.4 1-.8 1 0 1 .5 1-.4 1-1 1 .1 1-1.3 1-1.3 1-1.9 1-2.5 1-4.6 1-5.3 1-6.4 1-5.7 1-2.6 1 1.6 1 2.6 1 2.6 1 2.3 1 3.9 1 2.8 1 3.8 1 4.2 1 2.6 1 2 1 2 1 1.1 1 .7 1 .5 1 1.5 1 .6 1 .2 1-1.5 1-.6 1 .3 1 .4 1 .4 1-.3 1-.9 1 .6 1 .8 1-.7 1 .4 1 .3 1-.2 1-.9 1 .6 1 .3 1 .7 1-1.1 1 .6 1-.5 1 .5 1 .1 1-.3 1 .3 1-.1 1-.2 1 .1 1 .2 1-.4 1 .2 1-.2 1 0 1-.7 1 .8 1 .2 1-.4 1 .8 1-.8 1-.1 1 .5 1 .1 1 .1 1-.6 1 .6 1 .1 1-.6 1 .6 1-.4 1 .1 1-.4 1 .1 1-.5 1 .9 1-.4 1-.2 1 .2 1-1.6 1-.4 1 .4 1 .3 1 1.3 1 .3 1 0 1 .2 1-.3 1-.1 1 .4 1 .2 1-.6 1 0 1 .2 1 .1 1 .1 1 0 1 .2 1-.8 1-.1 1 .1 1 .6 1-.7 1 .5 1-.2 1-.2 1 .2 1 0 1 .5 1-.1 1-.3 1-.2 1-.2 1 .3 1-.1 1-.1 1 .5 1-.5 1 .3 1-.2 1-.1 1-.1 1 .7 1-.6 1 .1 1 .4 1 1.7 1-.1 1 .8 1-2.8 1 .2 1 .2 1-.7 1 1.2 1-1.3 1 .2 1 .4 1 .4 1-.7 1 .5 1-.1 1 .4 1-.3 1-.1 1 .2 1-.1 1 .3 1-.8 1 .5 1 .1 1-.3 1 .7 1-.9 1-.1 1 .5 1-.7 1 1 1-.6 1-.2 1 .4 1-.2 1-.4 1 .9 1-.2 1-.3 1-.7 1 .5 1-.2 1-.4 1 .5 1-.6 1 .4 1-.4 1-.3 1-.2 1-.2 1 .2 1-1 1-.7 1-1.3 1-1.1 1-2.2 1-3.5 1-4.3 1-6.4 1-6.3 1-4 1-3.5 1 2.5 1 3.3 1 2.2 1 2.3 1 4.1 1 3.1 1 3.5 1 2.2 1 3.1 1 5.7 1 1.5 1 2 1-2.2 1 1 1 0 1-.3 1 .6 1 .3 1-.1 1 .1 1 0 1-.1 1 .5 1 .7 1-.9 1 .3 1 .4 1-.9 1 1.5 1-3.1 1-.9 1 3.2 1-.1 1 .5 1-.6 1 .7 1-.6 1 .7 1-.7 1 .1 1-.3 1 .7 1-.2 1 .5 1-.3 1-.4 1 .7 1-.4 1-.1 1 .1 1-.1 1 .2 1-.3 1 1.1 1-.6 1-.4 1-.2 1-.2 1 .7 1 .5 1-.7 1 .6 1-.7 1 .3 1-.6 1 .4 1 .2 1-.7 1 1.3 1-.4 1-.2 1 .4 1-.8 1-.1 1 .1 1 .2 1 .2 1-.5 1 .4 1-.2 1 0 1 .1 1-.3 1 .1 1 .2 1-.4 1 .2 1 0 1 .3 1-.2 1-.2 1 .1 1 .2 1 .3 1-.6 1-.2 1 .9 1 0 1-1.3 1 .8 1 .4 1 0 1-.6 1 .6 1 0 1-.6 1 1.1 1-.5 1-.7 1 .6 1 .2 1 0 1-.4 1-.1 1-.6 1 .8 1-.4 1 .4 1 .4 1-.1 1 0 1-.2 1-.6 1 .2 1 0 1-.1 1 .1 1-.2 1-.4 1 .1 1-1.1 1-.3 1-.4 1 .1 1-.8 1-1.5 1 1 1-.4 1 2.1 1 .6 1 0 1 0 1 .8 1 .1 1 .4 1-.6 1 .1 1 0 1 .8 1-.6 1 .4 1-.3 1 .3 1-.3 1 .1 1-2.3 1-.6 1-.2 1 3.3 1-.8 1 .3 1-.3 1-.5 1 .3 1-.5 1 .1 1 .1 1-.6 1-.6 1-.3 1-1.4 1-1.7 1-2.4 1-3.9 1-5.7 1-5.3 1-5.2 1-3.6 1 1 1 2.5 1 2.6 1 1.8 1 1.8 1 2.5 1 1.7 1 2.9 1 4 1 3.2 1 1.7 1 1.4 1 1.7 1 .8 1 .7 1 .1 1 .3 1-.1 1 .4 1-.2 1 .6 1-.7 1 .2 1-.4 1 1.4 1-.7 1 .1 1 0 1-1 1 .9 1-.7 1-.1 1 .3 1 0 1-.3 1 0 1-1.4 1-.4 1-.8 1-.9 1-2.2 1-2.9 1-3.3 1-4.1 1-2.7 1-1 1 .2 1 1.2 1 2.3 1 1.5 1 .6 1 1.1 1 1.7 1 2 1 2.5 1 2.2 1 1.2 1 1.2 1 .5 1 1.2 1 .7 1 .1 1-1.9 1-.7 1 .2 1 2.5 1 .7 1 .2 1-.7 1 .2 1 .6 1-.7 1 .4 1-.3 1 .3 1-.4 1 .8 1-.5 1 .2 1 .2 1-.2 1 .3 1 .1 1 0 1 .2 1-.8 1 .5 1-.1 1-.1 1 .6 1-.5 1 0 1 .4 1-.3 1-.2 1-.9 1 1.1 1 .1 1-.1 1-.4 1 0 1 0 1 .1 1 .2 1 0 1-.7 1 1.2 1-.7 1 .2 1 .3 1 .2 1-.4 1-.1 1 2 1-1.1 1 1 1-2.5 1 .2 1-.8 1 .5 1-.9 1 0 1-1.2 1-1.2 1-.5 1-.4 1 .2 1-.2 1 1.4 1-.4 1 .6 1 1 1 .3 1 1.3 1-.1 1 .1 1 .2 1 .2 1 .3 1 0 1 .2 1 .1 1 .1 1 .3 1-.7 1-.6 1 1 1-.5 1 .5 1-.2 1-.2 1-.1 1 .1 1-.1 1 .5 1-.1 1-.4 1 .3 1 0 1 .1 1 0 1 0 1-.1 1 .2 1 .3 1 .2 1-.6 1 .7 1-.6 1-.3 1 .5 1-.2 1 .4 1-.8 1-1.4 1-.1 1 2.3 1-.2 1-.3 1-.1 1 1.8 1-.1 1-.2 1 .5 1-2.1 1 0 1 .5 1 2.5 1 .1 1-.5 1 .4 1-2.8 1 .5 1-1 1 .8 1-.5 1 .3 1-.6 1 .6 1 .1 1 0 1 .5 1-1.1 1-1.4 1-.1 1 .2 1 .5 1 1.3 1-.3 1-.1 1 .1 1 .4 1 .2 1-.6 1 0 1 .5 1-.6 1 .6 1-.7 1 .5 1 .1 1-.4 1 0 1 .3 1 .2 1-.3 1 .3 1-.6 1 0 1 .2 1-.7 1 .7 1-.1 1-.1 1 .2 1 2.7 1-.2 1 .3 1-2.6 1 .1 1-.6 1 .2 1 .7 1 .2 1-.8 1 .2 1 .3 1 0 1-.5 1-.2 1 .1 1 .2 1 .2 1-.7 1 .5 1-.2 1 .6 1-.2 1 .5 1-.8 1 0 1 .6 1-.3 1 0 1 .2 1-.5 1-.4 1 .3 1 .7 1-.5 1-.2 1 .4 1-.1 1-.1 1 .3 1-.4 1-.1 1 .5 1 .3 1-.9 1 .3 1 .1 1 .1 1-.6 1 .4 1-.2 1-.2 1 .6 1-.5 1-.4 1-.2 1-1.4 1 0 1-.1 1-1 1-.6 1-1.1 1 .1 1-.3 1 .9 1 1 1 .2 1 1.3 1-.1 1 .1 1 .9 1 .2 1 .3 1-.1 1 .6 1-.1 1-.7 1 .6 1 .3 1-.3 1 .2 1 .2 1-1.3 1 1.4 1 2 1 .7 1-3.2 1 .2 1-2.1 1-.3 1 2.6 1-.1 1-.5 1 .2 1 .6 1-.5 1 0 1 .2 1 0 1-.4 1 .5 1-.3 1 .2 1-.3 1 .3 1-.1 1 .2 1 .1 1-.1 1-.1 1 0 1 .2 1 .2 1-.5 1 .1 1-.2 1 .8 1-.1 1-.8 1 .5 1 0 1-.2 1-.3 1-.3 1-.1 1 .6 1 .4 1-.3 1 .3 1-.1 1-.2 1-.1 1 .1 1-.3 1 .7 1 0" fill="none" stroke="#cd9e03" stroke-width="3.7" stroke-linejoin="round"/>
<path d="M863.0,403.8 L863.0,402.4 L864.0,384.4 L865.0,364.7 L866.0,352.9 L867.0,356.0 L868.0,366.2 L869.0,380.4 L870.0,396.8 L870.0,398.2 L866.5,393.4 Z" fill="#cd9e03"/>
<path d="M935.0,400.9 L935.0,399.5 L936.0,384.3 L937.0,361.8 L938.0,345.0 L939.0,343.7 L940.0,352.9 L941.0,365.5 L942.0,382.2 L943.0,398.6 L943.0,400.0 L939.0,388.7 Z" fill="#cd9e03"/>
<path d="M1007.0,257.2 L1007.0,255.8 L1008.0,180.8 L1009.0,136.3 L1010.0,147.1 L1011.0,181.1 L1012.0,222.7 L1013.0,278.5 L1013.0,279.9 L1010.0,279.6 Z" fill="#cd9e03"/>
<path d="M1366.0,422.7 L1366.0,421.3 L1367.0,414.0 L1368.0,403.6 L1369.0,398.3 L1370.0,398.0 L1371.0,401.3 L1372.0,404.5 L1373.0,408.6 L1374.0,413.6 L1375.0,418.3 L1375.0,419.7 L1370.5,416.1 Z" fill="#cd9e03"/>
<path d="M1673.0,422.0 L1673.0,420.6 L1674.0,415.3 L1675.0,408.9 L1676.0,403.2 L1677.0,400.6 L1678.0,402.2 L1679.0,404.8 L1680.0,407.4 L1681.0,409.7 L1682.0,413.6 L1683.0,416.4 L1684.0,420.2 L1684.0,421.6 L1678.5,417.8 Z" fill="#cd9e03"/>
<path d="M1855.0,420.5 L1855.0,419.1 L1856.0,412.7 L1857.0,406.4 L1858.0,402.4 L1859.0,398.9 L1860.0,401.4 L1861.0,404.7 L1862.0,406.9 L1863.0,409.2 L1864.0,413.3 L1865.0,416.4 L1866.0,419.9 L1867.0,422.1 L1867.0,423.5 L1861.0,417.4 Z" fill="#cd9e03"/>
<path d="M2033.0,424.0 L2033.0,422.6 L2034.0,416.9 L2035.0,411.6 L2036.0,406.4 L2037.0,402.8 L2038.0,403.8 L2039.0,406.3 L2040.0,408.9 L2041.0,410.7 L2042.0,412.5 L2043.0,415.0 L2044.0,416.7 L2045.0,419.6 L2046.0,423.6 L2046.0,425.0 L2039.5,419.1 Z" fill="#cd9e03"/>
<path d="M157,756.3l1 .6 1 .2 1-.3 1-.2 1-.2 1 .6 1 .1 1 .3 1-.4 1-.4 1 .5 1-1.4 1-.9 1 2.3 1-.1 1-.3 1 0 1 .4 1 .2 1-.8 1 .1 1 .1 1-.7 1 .6 1 .5 1-.1 1 0 1 0 1-.5 1 0 1 .5 1-.6 1 .8 1-.2 1 .3 1-.7 1 .6 1-.3 1 .2 1-1.1 1 .9 1-.2 1 .3 1 .1 1-.3 1 0 1 .1 1 1.1 1-1.3 1-.1 1 .7 1-.4 1 .3 1-.4 1 .8 1-.9 1 .8 1-1.1 1 .4 1 0 1 .3 1 .2 1 0 1-1.3 1 1.2 1 .4 1-1.1 1-.2 1 .2 1 .2 1 .4 1 .3 1-.5 1 .5 1-1 1 .3 1 .3 1 .3 1-.6 1 .4 1 0 1-.2 1 .3 1-.3 1 .1 1-.1 1-.5 1 .8 1-.3 1-.2 1-.1 1 .3 1 0 1 .1 1 .2 1-.8 1 .5 1-.5 1 .1 1 .7 1-.8 1 .5 1-.3 1 .7 1-.5 1 0 1-.2 1 .2 1 .2 1-.1 1 .1 1 .3 1-.6 1 .4 1-.4 1 .4 1-.6 1 .2 1 0 1-.1 1 .5 1-.1 1 .1 1 .4 1-.4 1-.5 1 .7 1 0 1-.9 1 .8 1-2.3 1-.1 1-.2 1 2.4 1 .1 1-.3 1 0 1-.3 1 .5 1-.6 1 .5 1-.2 1 .4 1-.3 1 .8 1-1 1-.4 1 .3 1 .7 1-.2 1 0 1 0 1-.1 1-.2 1-.2 1 .4 1-.8 1 1.1 1-.4 1-.2 1 .5 1 .2 1-.2 1-.1 1-.8 1 1.1 1-.6 1-2.2 1-.5 1 .6 1 2 1 1 1-1.4 1 .4 1 .1 1-.1 1 .6 1 .2 1-.6 1 .6 1-.2 1-.7 1 .3 1 0 1 .4 1-.6 1 .3 1 .1 1 .2 1 0 1-.4 1-.2 1 .6 1-.3 1-.1 1 .6 1-.5 1-.1 1 .7 1-.8 1-.1 1 .7 1-.4 1-.2 1 .3 1 0 1 .3 1-.6 1-.1 1 .3 1 .1 1-.7 1 1.2 1-.4 1-.4 1 .2 1 .1 1-.1 1 .2 1-.4 1 .5 1-.1 1 0 1 .2 1-.5 1 .6 1-.7 1 .2 1 .5 1-.6 1 0 1 0 1 2.1 1 .2 1 .2 1 .2 1-2.7 1 .6 1-1 1 .8 1-.5 1 .4 1-.5 1 .4 1 .3 1-.9 1 .5 1-.1 1-.1 1 .4 1 0 1-.2 1 0 1 .4 1 .2 1-.5 1 .3 1-.8 1 .3 1 .2 1-.3 1 .3 1 .1 1 .2 1-.1 1-.6 1 .2 1 .4 1-.4 1 .3 1-.1 1-.3 1-.1 1 .5 1-.1 1 .2 1-.6 1-.2 1 .9 1 .3 1-.8 1 .3 1 .1 1-.9 1 .8 1-.3 1-.1 1 .9 1-.6 1 .2 1 .1 1-.2 1 .2 1-.7 1 1.3 1-1.2 1 .4 1 .3 1-.6 1 0 1 .2 1 .1 1 .1 1 0 1-.3 1-.3 1 .1 1 .7 1-.4 1 0 1 .4 1-.4 1 .2 1 .5 1-.9 1 .8 1-.4 1-.7 1 .8 1-.2 1-.1 1 0 1 .2 1 .1 1-.6 1 .2 1 .7 1-1 1 1.1 1-.7 1 .7 1-.3 1 0 1-.4 1-.6 1 0 1 1.1 1-.2 1-.1 1-.2 1 .6 1 1.4 1 .6 1-2.8 1-.3 1 .4 1-.3 1 .6 1-.3 1 .1 1-.5 1 .5 1 0 1-.2 1 .4 1-.1 1 .1 1-.1 1 0 1-.1 1 .3 1-.2 1 .1 1-.3 1-.7 1 .9 1 .1 1-.2 1-.1 1 .4 1-.1 1 0 1-.1 1-.2 1 .2 1-.2 1 .3 1 0 1 0 1-.2 1-.5 1 .7 1 .2 1-.3 1-.1 1 .2 1-.1 1 .1 1-.5 1 .6 1-.6 1 .1 1 0 1 0 1 .7 1-.9 1 .4 1 .3 1 .2 1-.2 1-.4 1-.1 1 .5 1-.7 1 1.3 1 0 1-4 1 .4 1 3.3 1-.9 1 .5 1-.1 1 0 1 .3 1-.6 1 .5 1 .4 1-.4 1 0 1-.7 1 .7 1 .5 1-.4 1-.5 1 0 1 .3 1 .1 1-.6 1 .4 1 0 1-.5 1 .2 1 .1 1 .4 1 0 1-.3 1 0 1-.1 1 .2 1 .2 1-.2 1 0 1-.1 1-.4 1 .4 1 .9 1-.8 1-.3 1 .1 1 .2 1-.2 1 .4 1-.6 1 0 1 .6 1 0 1-.1 1-.8 1 1 1-.4 1-.6 1 .8 1-.1 1-.8 1-.9 1 .7 1 .2 1-1.1 1-.3 1-1 1 0 1 0 1-.3 1 .8 1-.5 1 .8 1-.4 1 .4 1 1 1-.2 1 .2 1-.6 1-.3 1 2.4 1-.5 1-2.2 1-.6 1 .2 1 .9 1-.5 1 0 1 .3 1 .6 1 0 1 .3 1 .3 1 .1 1 .8 1 .1 1 .2 1 .4 1-.3 1-.1 1-.3 1-.1 1 .3 1 .4 1-.2 1-.3 1-.1 1 .4 1-.2 1 .2 1-.4 1 .1 1-.5 1 .4 1-.2 1 .6 1-.1 1 .3 1 0 1-.7 1-.2 1 .3 1 .3 1-.7 1 1.3 1-.5 1-2.9 1-.3 1 3 1-.1 1 .4 1-.9 1 .7 1-.1 1 2.3 1 .2 1-.2 1 .2 1-2.5 1 0 1 0 1 .1 1-.5 1 .4 1-.5 1 .5 1-.5 1 1 1-.2 1-.4 1 .4 1-.6 1-1.8 1 .2 1-.1 1 2.1 1-.1 1 .1 1 .3 1-.2 1-.1 1 .8 1-.9 1-.3 1 .8 1-.2 1 0 1-.3 1 .1 1-.7 1 .5 1-.2 1 .3 1 .2 1-.2 1 .6 1-.5 1 .5 1-.9 1 .6 1 .1 1-.1 1 .1 1-.3 1-.6 1-1.6 1 .6 1-.4 1 2.7 1 0 1-1.4 1 .8 1 0 1-.1 1 .2 1-.1 1-.3 1 0 1-.1 1 .5 1-.2 1-.2 1 .1 1-.4 1 .6 1 0 1-.2 1 .1 1 .5 1-.4 1-.4 1 .2 1 .1 1-.3 1 .2 1 .1 1 0 1 .3 1-.4 1 0 1-.7 1 .7 1-.2 1 .3 1 0 1 .2 1-.6 1 .6 1-.2 1-.7 1 .1 1 .9 1-.5 1-.3 1-.2 1 0 1 .5 1 .1 1 0 1 .1 1-.2 1 .2 1-.6 1 .4 1-.4 1 .6 1-.6 1 .3 1-.4 1 .3 1-.1 1-3.5 1 .1 1 .2 1 3.6 1-.1 1-.4 1 .1 1-.2 1 0 1 .4 1-1.2 1 .3 1 .9 1-.8 1-.5 1 .6 1-.7 1 .8 1-.7 1 .6 1 .1 1-.4 1 .2 1 .9 1-1.6 1 .8 1-.3 1-.4 1 .3 1-.2 1-.6 1 .4 1-.6 1 .3 1-.3 1-.4 1 .1 1-.2 1-.7 1 0 1-.6 1-.2 1-.2 1-1.3 1-.5 1-1.7 1-2.1 1-3.6 1-5.7 1-8 1-14.1 1-16.4 1-13.8 1-2 1 6.1 1 10.6 1 13.4 1 12.4 1 9.5 1 6.4 1 3.8 1 2.4 1 1.1 1 1.4 1 1 1 .3 1 .4 1 .7 1-.2 1 1.1 1-.1 1-.2 1 0 1-2 1-1.2 1 3.8 1-.1 1 .2 1 0 1-.3 1 .4 1-.5 1 .5 1-.3 1 0 1 .2 1 .1 1-.1 1-.4 1 .2 1 .1 1-.3 1 .2 1-.3 1 .2 1-.9 1 .5 1 0 1-.6 1 .9 1-.6 1-.4 1 .4 1-.6 1 .5 1-.5 1-.3 1-.2 1-.1 1-.3 1 .1 1-3.4 1 0 1-1 1 2.2 1-1.5 1-1.4 1-2.5 1-3 1-4.8 1-8.1 1-12.3 1-18.4 1-20.1 1-12.7 1 3.7 1 8.8 1 13.1 1 16.3 1 14 1 10.5 1 7.2 1 4.5 1 2.2 1 1.7 1 1.3 1 1 1 1 1 .2 1 .6 1 .5 1 .2 1-.7 1 1 1 .1 1 .4 1-.4 1-.2 1 .5 1-2.3 1 .5 1 0 1-.5 1 2.2 1 .4 1 .1 1 .5 1-.1 1-.1 1-3.3 1 .3 1 2.3 1-.3 1 1.2 1-1.1 1 .3 1-.3 1-.4 1-2 1 0 1 2.2 1 0 1-.2 1 1.4 1-.4 1-2.4 1-.4 1-.9 1-.4 1-.7 1-.8 1-1 1-1.5 1-2.1 1-1.8 1-3.1 1-3.9 1-4.5 1-7.8 1-11.4 1-18.8 1-30.2 1-47 1-63.5 1-63.4 1-24.5 1 18.2 1 31.5 1 41.7 1 52.9 1 45.2 1 32.4 1 22.4 1 12.5 1 8.4 1 6 1 4.3 1 2.5 1 2.7 1 1.8 1 1.8 1 .7 1 1.5 1 .8 1 .9 1 .4 1 .3 1 .4 1 3.1 1 .4 1 .2 1-2.4 1 .2 1 .4 1 .1 1 .6 1 2.5 1 0 1 .1 1-2.6 1-1.7 1 .9 1 1.6 1-.7 1 1.2 1 0 1-.2 1 .3 1-.3 1 .1 1-.1 1 .1 1 .5 1-.4 1 .2 1 0 1 .3 1 .4 1-.5 1 .1 1-.3 1 .3 1 .1 1 .5 1-.7 1 .1 1 0 1 .5 1-.4 1 .2 1 .1 1 0 1 .4 1-.1 1 .3 1-.5 1-.3 1-.3 1 .7 1-.7 1 .6 1-.1 1 .1 1 .2 1 .1 1 0 1-.1 1 .2 1-.5 1-.2 1 .2 1 .5 1-.1 1 0 1-.2 1-.1 1 .3 1 0 1-.7 1 .7 1-.5 1 .2 1 .8 1-.7 1 .3 1-.2 1-.1 1-.2 1 .7 1-.2 1 .1 1-.8 1 .6 1 .1 1-.3 1 .6 1-.4 1 .3 1-.2 1 .1 1 0 1-.1 1-.4 1 .2 1-.3 1 .3 1 .3 1 .2 1-1 1 .1 1-.1 1 .8 1-.1 1-.3 1 .5 1-.6 1-.5 1 .5 1-.2 1-.1 1-1.5 1-.8 1-1.3 1-2.6 1-.5 1 .9 1 .7 1 .5 1 1.3 1 1 1 .8 1 1.2 1 .4 1-.5 1-.1 1 .5 1 .4 1-1.1 1 .9 1 .5 1-.2 1-.9 1-.3 1 .5 1-.1 1 0 1 .4 1-.5 1-.2 1-.1 1-.7 1 0 1-.1 1 0 1-.1 1-.3 1-.4 1 .1 1 0 1-.3 1-1 1 .4 1 .5 1-1.1 1-.1 1-.5 1 .1 1-.4 1-.2 1-.4 1 0 1 .3 1-.8 1 .3 1-.3 1-1 1 .4 1-.3 1 .1 1-.5 1 0 1-.2 1 .3 1-.3 1 .3 1 .2 1 .2 1-.5 1 .9 1-.5 1 .4 1-.2 1 .3 1 .4 1-.4 1 .4 1 .2 1 .3 1 1 1-.5 1 .8 1-.2 1 .2 1 .4 1 .1 1 .4 1 .3 1 .4 1 .1 1 .4 1-.1 1 .8 1-.8 1 .2 1 1.1 1-.4 1-.2 1 .7 1 .3 1-.5 1 0 1 .3 1 .5 1 .3 1-.6 1 .4 1-.2 1-.1 1-.4 1 .7 1 .9 1-1 1 1 1-.6 1 .6 1-.7 1-.3 1 .5 1 .2 1 .1 1 0 1-.2 1-.2 1 .4 1-1.7 1-.5 1 .3 1 .2 1 1.9 1 .2 1-.3 1-.6 1 .2 1 .2 1 .3 1-.3 1 .2 1-.7 1 .6 1 .1 1-.5 1 .7 1-.3 1 .2 1-.9 1 .7 1-.4 1 .9 1 .7 1 1.5 1 .2 1-3.3 1 .5 1 .1 1-.5 1 .2 1-.1 1 .6 1-.4 1 0 1-.1 1-.2 1 .2 1 .8 1-.2 1 .2 1-1.1 1 .4 1 .1 1 .5 1-1.6 1 1.3 1-.2 1-.3 1 .5 1-.9 1 .7 1 .3 1-.2 1-.2 1-.1 1 0 1 .4 1-.6 1-.3 1 1 1-.2 1-.4 1-.2 1 .6 1-.5 1-.2 1 .3 1 0 1 .3 1-.4 1-.4 1 .7 1-.2 1-2.9 1 0 1 .1 1 2.4 1 0 1-.2 1 .2 1-.4 1-.3 1 .2 1 .1 1-.8 1-.3 1 .6 1-.4 1-1.2 1-.5 1-.4 1-1.4 1-.5 1-2 1-3.5 1-4 1-5.1 1-8.1 1-9.2 1-5 1-.4 1 3.2 1 3.3 1 4.2 1 4.7 1 6.8 1 5.6 1 4.3 1 2.5 1 1.9 1 1.5 1 1.4 1 .5 1 .2 1 .8 1 1 1-.5 1 .4 1 .2 1-.3 1 .2 1 .4 1-.1 1 .3 1 .5 1-.1 1 .5 1-.3 1-.4 1-1 1 .7 1 .4 1 0 1-.1 1 .6 1-.4 1 .5 1-.3 1 .2 1 0 1 .1 1-.3 1 0 1 .4 1-.2 1 2.2 1 .7 1-.2 1-3.1 1 .8 1-.7 1-1.7 1-.4 1 .2 1 2.2 1-.7 1 .8 1 0 1-.5 1 .2 1 .4 1 0 1 0 1-.2 1 0 1 .1 1 .6 1-.6 1 .1 1 0 1 0 1 1.8 1 .2 1 .4 1-2.6 1 .1 1 2.6 1 .4 1 .2 1 .3 1-3.8 1 .9 1-.8 1 1.1 1-1.1 1 .3 1-.4 1 .7 1-.1 1 1.7 1 .7 1-.1 1-.3 1-2 1-.5 1 .4 1 .6 1-.7 1-.2 1 .5 1-.5 1 .5 1-.7 1 .3 1 2.8 1 0 1 .7 1-.7 1-2.7 1 .4 1-.3 1-.5 1 .4 1 0 1 .1 1-.2 1 0 1 .4 1-.2 1 .2 1-.1 1-2.5 1 .7 1 2.1 1-.6 1-.2 1 .6 1 .3 1-.3 1-1.1 1 1 1-.8 1 .7 1 .3 1-.4 1 .6 1-.7 1 .3 1-.4 1 .1 1 2.9 1-.1 1-.1 1-2.8 1 .1 1 .4 1 .1 1-.6 1 0 1 .4 1 .2 1-.9 1 1.2 1-.6 1 0 1 .1 1 0 1-.9 1 .8 1 .1 1 .4 1 .1 1-.5 1 0 1-.2 1 .5 1 .1 1-.9 1 1 1-.7 1 .5 1 .5 1-.6 1-.6 1 .8 1-.6 1 .3 1 .2 1-.1 1 .4 1-1.3 1 .5 1 .3 1 0 1 .1 1 .1 1-.6 1 .5 1-.4 1 .7 1-.1 1-.7 1 .2 1 0 1 .3 1-.8 1 .5 1 0 1 .3 1-.1 1-.4 1 .2 1 .2 1-.4 1 0 1-.1 1 .2 1 .5 1-.5 1-.1 1 .1 1 .5 1 .1 1-.7 1 .7 1-.3 1 1.9 1 .3 1 .1 1-.5 1-2.3 1 .2 1 0 1 .1 1-.1 1 .6 1-.1 1-.1 1-.6 1 .4 1 .2 1-.3 1-.3 1 .6 1-.2 1-.2 1 .5 1-.9 1 .5 1 .2 1-.2 1 .2 1-1.1 1 .6 1 .2 1-.3 1-.3 1 .5 1-.2 1 .3 1 .4 1-.2 1-.4 1 .4 1-.7 1 .5 1 .2 1 0 1 0 1-.3 1 .4 1-.2 1 0 1-.3 1 0 1-.1 1 0 1-.2 1-.3 1 .9 1 .1 1-.5 1-.4 1 .3 1-3.4 1 .8 1 1.8 1 1.1 1-.4 1 0 1 .1 1 2.4 1-.3 1-.1 1-2.8 1 .1 1 .4 1 0 1 0 1-.5 1-.6 1 .3 1-.5 1-.6 1-.2 1-.3 1-.6 1-.8 1-.9 1-1.1 1-2.6 1-3.3 1-3.6 1-5.9 1-7.9 1-7.1 1-5.5 1-1.3 1 3.4 1 3.2 1 3.3 1 2.4 1 3.8 1 5.4 1 4.9 1 4.2 1 3.4 1 2.4 1 1.6 1 .6 1 1.3 1 .8 1 .2 1 .9 1 .4 1-.2 1 .1 1 .5 1 .3 1-.4 1 .2 1 .3 1-.2 1 .9 1-.2 1-.1 1-.4 1-.1 1-.3 1 .8 1-.2 1 .2 1 .4 1-.4 1-.5 1 .8 1-.1 1 .2 1-.5 1 .5 1 .5 1-.9 1-.1 1 .1 1 .2 1 .1 1 .4 1-.5 1-.3 1 .6 1-.4 1-.2 1 .3 1 .3 1-.1 1 0 1-.3 1 .2 1-.3 1-.1 1 .8 1-.9 1 1.2 1-.6 1 .1 1-.2 1-.4 1 .8 1 0 1-.2 1-.1 1 .4 1-.5 1 .1 1 .1 1 .1 1 .3 1-.7 1-.5 1 1 1-.2 1 .2 1-.6 1 .2 1-.1 1 .2 1-.1 1 .3 1-.7 1 .3 1 .3 1 .1 1 0 1-.7 1 .6 1 .1 1 .4 1-1.2 1 .6 1 0 1-.5 1 .6 1 0 1 .2 1-.8 1-1.7 1-.2 1 .2 1 2.2 1 .3 1 .2 1-1.1 1 .7 1-.1 1-.7 1 1 1-.1 1-.3 1 .3 1 .3 1-.7 1 .1 1 .3 1 0 1 .1 1-.2 1-.3 1-.1 1 .8 1-.8 1 .6 1-.7 1-.1 1 .2 1 2.4 1-.4 1 .4 1 .3 1-2.5 1-.1 1 0 1 .2 1-.3 1-.4 1 .8 1-.4 1-.3 1 .4 1-.4 1 .5 1 0 1-.6 1 .4 1-.4 1 .4 1-.6 1 .6 1-.8 1 0 1 .1 1-.3 1 .1 1-.5 1 .1 1-.8 1 .3 1-1.2 1 1.1 1-1.1 1 1.3 1-.6 1-.7 1-2.8 1-3.3 1-3.2 1-3.9 1-5.7 1-6.5 1-6 1-4.8 1-1.1 1 1.9 1 3.5 1 2.4 1 2 1 2.2 1 4.6 1 3.7 1 4 1 4.1 1 2.8 1 2.3 1 1.8 1 .5 1 1 1 .1 1 .3 1 .9 1 1.1 1-.3 1-.2 1 .3 1 .1 1 .4 1 0 1 .5 1-.4 1 .7 1-.2 1 .3 1-.7 1 .3 1 .7 1-.9 1-.1 1 .5 1 .1 1 .5 1-.3 1-.3 1 0 1 .6 1-.6 1 0 1 .2 1-.6 1 .7 1 .2 1-.2 1 2.2 1 .1 1 .6 1-2.9 1 .6 1 0 1-1 1 1 1-.4 1-.2 1 0 1-.1 1 .1 1-.2 1 .6 1-.6 1 .5 1-.3 1 .5 1 2.6 1-.7 1 .7 1-2.8 1-.2 1 .2 1-.6 1 .3 1 .3 1-.3 1 2.3 1-.1 1-.4 1 .4 1-1.9 1-.8 1 .6 1-.4 1 .7 1 0 1-.4 1 .8 1-1.1 1 .9 1-1 1 1 1-.8 1 .6 1-.4 1 .2 1-.1 1 .3 1 0 1-.4 1 .3 1-.2 1-.2 1 0 1 2 1 .2 1-2 1 .4 1-.6 1-.1 1 .6 1-.1 1-.1 1-.6 1 .9 1 0 1-.1 1 0 1-.2 1-.1 1 .1 1-.3 1 .5 1 .2 1-.5 1 .1 1-.3 1-.3 1-.3 1-.5 1 1.6 1-.3 1-.4 1-3.3 1-.1 1-.1 1 .5 1 .2 1 .7 1 .6 1 .4 1 .7 1 .1 1 .6 1-.7 1 1 1-1 1 .3 1 0 1 .1 1-.1 1 .3 1 .3 1-.6 1-.4 1 .4 1-.3 1 .5 1-.4 1-.9 1 .5 1-.6 1 .1 1 0 1-.1 1-1.7 1 .1 1-.9 1-.5 1-1.9 1-1.2 1 .9 1-4.1 1-4.2 1-9.1 1-6 1-5.2 1-1.3 1 2.1 1 5.8 1 2.2 1 2.1 1-1.1 1 4.6 1 3.4 1 3.9 1 .2 1 3.8 1 2.1 1 1.3 1 2.1 1 .6 1-.5 1 1.2 1 .7 1-.3 1 .2 1 .1 1 .6 1 .1 1 2.5 1 .2 1 .5 1-3.2 1 .4 1-.2 1-.5 1-.3 1 .6 1-.8 1-.8 1-.3 1-.5 1-1.2 1-.5 1-2.8 1-2.2 1-2.6 1-4.4 1-4.3 1-3.1 1-3.8 1-.4 1 2 1 2.6 1 4.6 1 .7 1 1.1 1 1.9 1 2.5 1 2.7 1 2.7 1 1.5 1 1.4 1 1.3 1 1.5 1 .1 1 .4 1 1.1 1-.4 1 .6 1-.2 1 0 1 .7 1-.3 1 .5 1-.3 1 0 1-.3 1 1.1 1-.4 1 2 1 .5 1 .3 1-2.8 1 3.1 1 .3 1-.4 1-.1 1-3 1 .3 1 .9 1-.9 1 .2 1-.4 1-.2 1 .5 1-.2 1 3.4 1-.3 1-3.1 1 .4 1-.6 1 .8 1-.4 1-.4 1 1 1-.7 1 .2 1 .2 1 .2 1-.2 1-.6 1 .4 1 .2 1-.2 1-.1 1-.2 1 .2 1 .6 1-.6 1-.4 1 .3 1-.6 1 .3 1-.4 1-.4 1-.8 1-.6 1 .2 1-1.2 1-.4 1-.9 1 .1 1 .5 1 .9 1-.1 1 1.1 1 .3 1 .5 1 .5 1 1.5 1-.7 1-1.9 1-.5 1 .8 1 1.8 1-.3 1 .5 1-.3 1-.3 1 1.7 1-1 1-.3 1 .2 1 .3 1-.1 1 0 1 .6 1-.3 1-.4 1 .2 1-.2 1-.2 1-.1 1 .8 1-.4 1 .1 1-.4 1 .6 1-.2 1 0 1 .2 1-.4 1-.2 1 1 1-1 1 0 1 .1 1-.1 1 0 1 .7 1 .3 1-.1 1-.6 1 .6 1-.4 1 .2 1-.1 1-.2 1 0 1-.6 1 .9 1-.6 1-.3 1 .7 1-.2 1 .4 1-.1 1-.1 1-.3 1 .5 1-.2 1-.5 1 .3 1-.2 1 .5 1-.5 1 .5 1-.1 1 .2 1 .3 1-.6 1-.1 1 .5 1-.8 1 .4 1 .6 1-.6 1 .3 1-.3 1 .5 1-1.1 1 .2 1 .1 1 .1 1 .2 1 0 1 .2 1-.4 1 .7 1-.4 1 .4 1-.4 1 .2 1-.6 1 .2 1-.2 1 .6 1-.2 1-.4 1 .3 1 0 1 .1 1-.4 1 .7 1-.8 1 .6 1-.1 1-.2 1-.2 1 .6 1 0 1-.3 1 .2 1-.6 1 .9 1-1 1 .3 1 0 1 .2 1-.3 1 .6 1-.5 1 2.5 1 .7 1-.1 1-2.5 1-.4 1 .2 1 .1 1-.3 1-.2 1 .1 1-.5 1 .4 1 .3 1-.3 1 0 1 .2 1 .1 1 .3 1-.4 1 .1 1 0 1-.4 1 1 1-.8 1-.2 1 .1 1-.6 1 .1 1 1.1 1-.9 1 .4 1-.5 1-.1 1-1 1-.1 1-.6 1-.7 1-.6 1-.7 1-.4 1-.1 1 .1 1 .2 1 1.5 1-.5 1 1.7 1 .4 1 .4 1 .5 1 .3 1 .5 1-1.1 1 .8 1 0 1-.2 1 .2 1-.8 1 1 1 .3 1-.5 1-.2 1 .9 1-1.1 1 .8 1-.8 1 .7 1-.6 1 .4 1 .4 1-.6 1 0 1 .5 1-.1 1-.2 1 .1 1-.6 1 .8 1-.3 1 .4 1-.5 1 .7 1-.4 1 .1 1 .1 1-.1 1-.2 1 .4 1-.6 1 .4 1-.5 1 1.5 1-1.4 1-.1 1 .6 1-.2 1 1 1-1.5 1 .1 1 .4 1 .3 1-.8 1 .3 1 .1 1 .1 1 .1 1 .5 1-.4 1-.3 1 .3 1-.1 1-.6 1 .1 1 .3 1 .3 1-.2" fill="none" stroke="#b368da" stroke-width="3.7" stroke-linejoin="round"/>
<path d="M157,757.7l1 .6 1 .2 1-.3 1-.2 1-.2 1 .6 1 .1 1 .3 1-.4 1-.4 1 .5 1-1.4 1-.9 1 2.3 1-.1 1-.3 1 0 1 .4 1 .2 1-.8 1 .1 1 .1 1-.7 1 .6 1 .5 1-.1 1 0 1 0 1-.5 1 0 1 .5 1-.6 1 .8 1-.2 1 .3 1-.7 1 .6 1-.3 1 .2 1-1.1 1 .9 1-.2 1 .3 1 .1 1-.3 1 0 1 .1 1 1.1 1-1.3 1-.1 1 .7 1-.4 1 .3 1-.4 1 .8 1-.9 1 .8 1-1.1 1 .4 1 0 1 .3 1 .2 1 0 1-1.3 1 1.2 1 .4 1-1.1 1-.2 1 .2 1 .2 1 .4 1 .3 1-.5 1 .5 1-1 1 .3 1 .3 1 .3 1-.6 1 .4 1 0 1-.2 1 .3 1-.3 1 .1 1-.1 1-.5 1 .8 1-.3 1-.2 1-.1 1 .3 1 0 1 .1 1 .2 1-.8 1 .5 1-.5 1 .1 1 .7 1-.8 1 .5 1-.3 1 .7 1-.5 1 0 1-.2 1 .2 1 .2 1-.1 1 .1 1 .3 1-.6 1 .4 1-.4 1 .4 1-.6 1 .2 1 0 1-.1 1 .5 1-.1 1 .1 1 .4 1-.4 1-.5 1 .7 1 0 1-.9 1 .8 1-2.3 1-.1 1-.2 1 2.4 1 .1 1-.3 1 0 1-.3 1 .5 1-.6 1 .5 1-.2 1 .4 1-.3 1 .8 1-1 1-.4 1 .3 1 .7 1-.2 1 0 1 0 1-.1 1-.2 1-.2 1 .4 1-.8 1 1.1 1-.4 1-.2 1 .5 1 .2 1-.2 1-.1 1-.8 1 1.1 1-.6 1-2.2 1-.5 1 .6 1 2 1 1 1-1.4 1 .4 1 .1 1-.1 1 .6 1 .2 1-.6 1 .6 1-.2 1-.7 1 .3 1 0 1 .4 1-.6 1 .3 1 .1 1 .2 1 0 1-.4 1-.2 1 .6 1-.3 1-.1 1 .6 1-.5 1-.1 1 .7 1-.8 1-.1 1 .7 1-.4 1-.2 1 .3 1 0 1 .3 1-.6 1-.1 1 .3 1 .1 1-.7 1 1.2 1-.4 1-.4 1 .2 1 .1 1-.1 1 .2 1-.4 1 .5 1-.1 1 0 1 .2 1-.5 1 .6 1-.7 1 .2 1 .5 1-.6 1 0 1 0 1 2.1 1 .2 1 .2 1 .2 1-2.7 1 .6 1-1 1 .8 1-.5 1 .4 1-.5 1 .4 1 .3 1-.9 1 .5 1-.1 1-.1 1 .4 1 0 1-.2 1 0 1 .4 1 .2 1-.5 1 .3 1-.8 1 .3 1 .2 1-.3 1 .3 1 .1 1 .2 1-.1 1-.6 1 .2 1 .4 1-.4 1 .3 1-.1 1-.3 1-.1 1 .5 1-.1 1 .2 1-.6 1-.2 1 .9 1 .3 1-.8 1 .3 1 .1 1-.9 1 .8 1-.3 1-.1 1 .9 1-.6 1 .2 1 .1 1-.2 1 .2 1-.7 1 1.3 1-1.2 1 .4 1 .3 1-.6 1 0 1 .2 1 .1 1 .1 1 0 1-.3 1-.3 1 .1 1 .7 1-.4 1 0 1 .4 1-.4 1 .2 1 .5 1-.9 1 .8 1-.4 1-.7 1 .8 1-.2 1-.1 1 0 1 .2 1 .1 1-.6 1 .2 1 .7 1-1 1 1.1 1-.7 1 .7 1-.3 1 0 1-.4 1-.6 1 0 1 1.1 1-.2 1-.1 1-.2 1 .6 1 1.4 1 .6 1-2.8 1-.3 1 .4 1-.3 1 .6 1-.3 1 .1 1-.5 1 .5 1 0 1-.2 1 .4 1-.1 1 .1 1-.1 1 0 1-.1 1 .3 1-.2 1 .1 1-.3 1-.7 1 .9 1 .1 1-.2 1-.1 1 .4 1-.1 1 0 1-.1 1-.2 1 .2 1-.2 1 .3 1 0 1 0 1-.2 1-.5 1 .7 1 .2 1-.3 1-.1 1 .2 1-.1 1 .1 1-.5 1 .6 1-.6 1 .1 1 0 1 0 1 .7 1-.9 1 .4 1 .3 1 .2 1-.2 1-.4 1-.1 1 .5 1-.7 1 1.3 1 0 1-4 1 .4 1 3.3 1-.9 1 .5 1-.1 1 0 1 .3 1-.6 1 .5 1 .4 1-.4 1 0 1-.7 1 .7 1 .5 1-.4 1-.5 1 0 1 .3 1 .1 1-.6 1 .4 1 0 1-.5 1 .2 1 .1 1 .4 1 0 1-.3 1 0 1-.1 1 .2 1 .2 1-.2 1 0 1-.1 1-.4 1 .4 1 .9 1-.8 1-.3 1 .1 1 .2 1-.2 1 .4 1-.6 1 0 1 .6 1 0 1-.1 1-.8 1 1 1-.4 1-.6 1 .8 1-.1 1-.8 1-.9 1 .7 1 .2 1-1.1 1-.3 1-1 1 0 1 0 1-.3 1 .8 1-.5 1 .8 1-.4 1 .4 1 1 1-.2 1 .2 1-.6 1-.3 1 2.4 1-.5 1-2.2 1-.6 1 .2 1 .9 1-.5 1 0 1 .3 1 .6 1 0 1 .3 1 .3 1 .1 1 .8 1 .1 1 .2 1 .4 1-.3 1-.1 1-.3 1-.1 1 .3 1 .4 1-.2 1-.3 1-.1 1 .4 1-.2 1 .2 1-.4 1 .1 1-.5 1 .4 1-.2 1 .6 1-.1 1 .3 1 0 1-.7 1-.2 1 .3 1 .3 1-.7 1 1.3 1-.5 1-2.9 1-.3 1 3 1-.1 1 .4 1-.9 1 .7 1-.1 1 2.3 1 .2 1-.2 1 .2 1-2.5 1 0 1 0 1 .1 1-.5 1 .4 1-.5 1 .5 1-.5 1 1 1-.2 1-.4 1 .4 1-.6 1-1.8 1 .2 1-.1 1 2.1 1-.1 1 .1 1 .3 1-.2 1-.1 1 .8 1-.9 1-.3 1 .8 1-.2 1 0 1-.3 1 .1 1-.7 1 .5 1-.2 1 .3 1 .2 1-.2 1 .6 1-.5 1 .5 1-.9 1 .6 1 .1 1-.1 1 .1 1-.3 1-.6 1-1.6 1 .6 1-.4 1 2.7 1 0 1-1.4 1 .8 1 0 1-.1 1 .2 1-.1 1-.3 1 0 1-.1 1 .5 1-.2 1-.2 1 .1 1-.4 1 .6 1 0 1-.2 1 .1 1 .5 1-.4 1-.4 1 .2 1 .1 1-.3 1 .2 1 .1 1 0 1 .3 1-.4 1 0 1-.7 1 .7 1-.2 1 .3 1 0 1 .2 1-.6 1 .6 1-.2 1-.7 1 .1 1 .9 1-.5 1-.3 1-.2 1 0 1 .5 1 .1 1 0 1 .1 1-.2 1 .2 1-.6 1 .4 1-.4 1 .6 1-.6 1 .3 1-.4 1 .3 1-.1 1-3.5 1 .1 1 .2 1 3.6 1-.1 1-.4 1 .1 1-.2 1 0 1 .4 1-1.2 1 .3 1 .9 1-.8 1-.5 1 .6 1-.7 1 .8 1-.7 1 .6 1 .1 1-.4 1 .2 1 .9 1-1.6 1 .8 1-.3 1-.4 1 .3 1-.2 1-.6 1 .4 1-.6 1 .3 1-.3 1-.4 1 .1 1-.2 1-.7 1 0 1-.6 1-.2 1-.2 1-1.3 1-.5 1-1.7 1-2.1 1-3.6 1-5.7 1-8 1-14.1 1-16.4 1-13.8 1-2 1 6.1 1 10.6 1 13.4 1 12.4 1 9.5 1 6.4 1 3.8 1 2.4 1 1.1 1 1.4 1 1 1 .3 1 .4 1 .7 1-.2 1 1.1 1-.1 1-.2 1 0 1-2 1-1.2 1 3.8 1-.1 1 .2 1 0 1-.3 1 .4 1-.5 1 .5 1-.3 1 0 1 .2 1 .1 1-.1 1-.4 1 .2 1 .1 1-.3 1 .2 1-.3 1 .2 1-.9 1 .5 1 0 1-.6 1 .9 1-.6 1-.4 1 .4 1-.6 1 .5 1-.5 1-.3 1-.2 1-.1 1-.3 1 .1 1-3.4 1 0 1-1 1 2.2 1-1.5 1-1.4 1-2.5 1-3 1-4.8 1-8.1 1-12.3 1-18.4 1-20.1 1-12.7 1 3.7 1 8.8 1 13.1 1 16.3 1 14 1 10.5 1 7.2 1 4.5 1 2.2 1 1.7 1 1.3 1 1 1 1 1 .2 1 .6 1 .5 1 .2 1-.7 1 1 1 .1 1 .4 1-.4 1-.2 1 .5 1-2.3 1 .5 1 0 1-.5 1 2.2 1 .4 1 .1 1 .5 1-.1 1-.1 1-3.3 1 .3 1 2.3 1-.3 1 1.2 1-1.1 1 .3 1-.3 1-.4 1-2 1 0 1 2.2 1 0 1-.2 1 1.4 1-.4 1-2.4 1-.4 1-.9 1-.4 1-.7 1-.8 1-1 1-1.5 1-2.1 1-1.8 1-3.1 1-3.9 1-4.5 1-7.8 1-11.4 1-18.8 1-30.2 1-47 1-63.5 1-63.4 1-24.5 1 18.2 1 31.5 1 41.7 1 52.9 1 45.2 1 32.4 1 22.4 1 12.5 1 8.4 1 6 1 4.3 1 2.5 1 2.7 1 1.8 1 1.8 1 .7 1 1.5 1 .8 1 .9 1 .4 1 .3 1 .4 1 3.1 1 .4 1 .2 1-2.4 1 .2 1 .4 1 .1 1 .6 1 2.5 1 0 1 .1 1-2.6 1-1.7 1 .9 1 1.6 1-.7 1 1.2 1 0 1-.2 1 .3 1-.3 1 .1 1-.1 1 .1 1 .5 1-.4 1 .2 1 0 1 .3 1 .4 1-.5 1 .1 1-.3 1 .3 1 .1 1 .5 1-.7 1 .1 1 0 1 .5 1-.4 1 .2 1 .1 1 0 1 .4 1-.1 1 .3 1-.5 1-.3 1-.3 1 .7 1-.7 1 .6 1-.1 1 .1 1 .2 1 .1 1 0 1-.1 1 .2 1-.5 1-.2 1 .2 1 .5 1-.1 1 0 1-.2 1-.1 1 .3 1 0 1-.7 1 .7 1-.5 1 .2 1 .8 1-.7 1 .3 1-.2 1-.1 1-.2 1 .7 1-.2 1 .1 1-.8 1 .6 1 .1 1-.3 1 .6 1-.4 1 .3 1-.2 1 .1 1 0 1-.1 1-.4 1 .2 1-.3 1 .3 1 .3 1 .2 1-1 1 .1 1-.1 1 .8 1-.1 1-.3 1 .5 1-.6 1-.5 1 .5 1-.2 1-.1 1-1.5 1-.8 1-1.3 1-2.6 1-.5 1 .9 1 .7 1 .5 1 1.3 1 1 1 .8 1 1.2 1 .4 1-.5 1-.1 1 .5 1 .4 1-1.1 1 .9 1 .5 1-.2 1-.9 1-.3 1 .5 1-.1 1 0 1 .4 1-.5 1-.2 1-.1 1-.7 1 0 1-.1 1 0 1-.1 1-.3 1-.4 1 .1 1 0 1-.3 1-1 1 .4 1 .5 1-1.1 1-.1 1-.5 1 .1 1-.4 1-.2 1-.4 1 0 1 .3 1-.8 1 .3 1-.3 1-1 1 .4 1-.3 1 .1 1-.5 1 0 1-.2 1 .3 1-.3 1 .3 1 .2 1 .2 1-.5 1 .9 1-.5 1 .4 1-.2 1 .3 1 .4 1-.4 1 .4 1 .2 1 .3 1 1 1-.5 1 .8 1-.2 1 .2 1 .4 1 .1 1 .4 1 .3 1 .4 1 .1 1 .4 1-.1 1 .8 1-.8 1 .2 1 1.1 1-.4 1-.2 1 .7 1 .3 1-.5 1 0 1 .3 1 .5 1 .3 1-.6 1 .4 1-.2 1-.1 1-.4 1 .7 1 .9 1-1 1 1 1-.6 1 .6 1-.7 1-.3 1 .5 1 .2 1 .1 1 0 1-.2 1-.2 1 .4 1-1.7 1-.5 1 .3 1 .2 1 1.9 1 .2 1-.3 1-.6 1 .2 1 .2 1 .3 1-.3 1 .2 1-.7 1 .6 1 .1 1-.5 1 .7 1-.3 1 .2 1-.9 1 .7 1-.4 1 .9 1 .7 1 1.5 1 .2 1-3.3 1 .5 1 .1 1-.5 1 .2 1-.1 1 .6 1-.4 1 0 1-.1 1-.2 1 .2 1 .8 1-.2 1 .2 1-1.1 1 .4 1 .1 1 .5 1-1.6 1 1.3 1-.2 1-.3 1 .5 1-.9 1 .7 1 .3 1-.2 1-.2 1-.1 1 0 1 .4 1-.6 1-.3 1 1 1-.2 1-.4 1-.2 1 .6 1-.5 1-.2 1 .3 1 0 1 .3 1-.4 1-.4 1 .7 1-.2 1-2.9 1 0 1 .1 1 2.4 1 0 1-.2 1 .2 1-.4 1-.3 1 .2 1 .1 1-.8 1-.3 1 .6 1-.4 1-1.2 1-.5 1-.4 1-1.4 1-.5 1-2 1-3.5 1-4 1-5.1 1-8.1 1-9.2 1-5 1-.4 1 3.2 1 3.3 1 4.2 1 4.7 1 6.8 1 5.6 1 4.3 1 2.5 1 1.9 1 1.5 1 1.4 1 .5 1 .2 1 .8 1 1 1-.5 1 .4 1 .2 1-.3 1 .2 1 .4 1-.1 1 .3 1 .5 1-.1 1 .5 1-.3 1-.4 1-1 1 .7 1 .4 1 0 1-.1 1 .6 1-.4 1 .5 1-.3 1 .2 1 0 1 .1 1-.3 1 0 1 .4 1-.2 1 2.2 1 .7 1-.2 1-3.1 1 .8 1-.7 1-1.7 1-.4 1 .2 1 2.2 1-.7 1 .8 1 0 1-.5 1 .2 1 .4 1 0 1 0 1-.2 1 0 1 .1 1 .6 1-.6 1 .1 1 0 1 0 1 1.8 1 .2 1 .4 1-2.6 1 .1 1 2.6 1 .4 1 .2 1 .3 1-3.8 1 .9 1-.8 1 1.1 1-1.1 1 .3 1-.4 1 .7 1-.1 1 1.7 1 .7 1-.1 1-.3 1-2 1-.5 1 .4 1 .6 1-.7 1-.2 1 .5 1-.5 1 .5 1-.7 1 .3 1 2.8 1 0 1 .7 1-.7 1-2.7 1 .4 1-.3 1-.5 1 .4 1 0 1 .1 1-.2 1 0 1 .4 1-.2 1 .2 1-.1 1-2.5 1 .7 1 2.1 1-.6 1-.2 1 .6 1 .3 1-.3 1-1.1 1 1 1-.8 1 .7 1 .3 1-.4 1 .6 1-.7 1 .3 1-.4 1 .1 1 2.9 1-.1 1-.1 1-2.8 1 .1 1 .4 1 .1 1-.6 1 0 1 .4 1 .2 1-.9 1 1.2 1-.6 1 0 1 .1 1 0 1-.9 1 .8 1 .1 1 .4 1 .1 1-.5 1 0 1-.2 1 .5 1 .1 1-.9 1 1 1-.7 1 .5 1 .5 1-.6 1-.6 1 .8 1-.6 1 .3 1 .2 1-.1 1 .4 1-1.3 1 .5 1 .3 1 0 1 .1 1 .1 1-.6 1 .5 1-.4 1 .7 1-.1 1-.7 1 .2 1 0 1 .3 1-.8 1 .5 1 0 1 .3 1-.1 1-.4 1 .2 1 .2 1-.4 1 0 1-.1 1 .2 1 .5 1-.5 1-.1 1 .1 1 .5 1 .1 1-.7 1 .7 1-.3 1 1.9 1 .3 1 .1 1-.5 1-2.3 1 .2 1 0 1 .1 1-.1 1 .6 1-.1 1-.1 1-.6 1 .4 1 .2 1-.3 1-.3 1 .6 1-.2 1-.2 1 .5 1-.9 1 .5 1 .2 1-.2 1 .2 1-1.1 1 .6 1 .2 1-.3 1-.3 1 .5 1-.2 1 .3 1 .4 1-.2 1-.4 1 .4 1-.7 1 .5 1 .2 1 0 1 0 1-.3 1 .4 1-.2 1 0 1-.3 1 0 1-.1 1 0 1-.2 1-.3 1 .9 1 .1 1-.5 1-.4 1 .3 1-3.4 1 .8 1 1.8 1 1.1 1-.4 1 0 1 .1 1 2.4 1-.3 1-.1 1-2.8 1 .1 1 .4 1 0 1 0 1-.5 1-.6 1 .3 1-.5 1-.6 1-.2 1-.3 1-.6 1-.8 1-.9 1-1.1 1-2.6 1-3.3 1-3.6 1-5.9 1-7.9 1-7.1 1-5.5 1-1.3 1 3.4 1 3.2 1 3.3 1 2.4 1 3.8 1 5.4 1 4.9 1 4.2 1 3.4 1 2.4 1 1.6 1 .6 1 1.3 1 .8 1 .2 1 .9 1 .4 1-.2 1 .1 1 .5 1 .3 1-.4 1 .2 1 .3 1-.2 1 .9 1-.2 1-.1 1-.4 1-.1 1-.3 1 .8 1-.2 1 .2 1 .4 1-.4 1-.5 1 .8 1-.1 1 .2 1-.5 1 .5 1 .5 1-.9 1-.1 1 .1 1 .2 1 .1 1 .4 1-.5 1-.3 1 .6 1-.4 1-.2 1 .3 1 .3 1-.1 1 0 1-.3 1 .2 1-.3 1-.1 1 .8 1-.9 1 1.2 1-.6 1 .1 1-.2 1-.4 1 .8 1 0 1-.2 1-.1 1 .4 1-.5 1 .1 1 .1 1 .1 1 .3 1-.7 1-.5 1 1 1-.2 1 .2 1-.6 1 .2 1-.1 1 .2 1-.1 1 .3 1-.7 1 .3 1 .3 1 .1 1 0 1-.7 1 .6 1 .1 1 .4 1-1.2 1 .6 1 0 1-.5 1 .6 1 0 1 .2 1-.8 1-1.7 1-.2 1 .2 1 2.2 1 .3 1 .2 1-1.1 1 .7 1-.1 1-.7 1 1 1-.1 1-.3 1 .3 1 .3 1-.7 1 .1 1 .3 1 0 1 .1 1-.2 1-.3 1-.1 1 .8 1-.8 1 .6 1-.7 1-.1 1 .2 1 2.4 1-.4 1 .4 1 .3 1-2.5 1-.1 1 0 1 .2 1-.3 1-.4 1 .8 1-.4 1-.3 1 .4 1-.4 1 .5 1 0 1-.6 1 .4 1-.4 1 .4 1-.6 1 .6 1-.8 1 0 1 .1 1-.3 1 .1 1-.5 1 .1 1-.8 1 .3 1-1.2 1 1.1 1-1.1 1 1.3 1-.6 1-.7 1-2.8 1-3.3 1-3.2 1-3.9 1-5.7 1-6.5 1-6 1-4.8 1-1.1 1 1.9 1 3.5 1 2.4 1 2 1 2.2 1 4.6 1 3.7 1 4 1 4.1 1 2.8 1 2.3 1 1.8 1 .5 1 1 1 .1 1 .3 1 .9 1 1.1 1-.3 1-.2 1 .3 1 .1 1 .4 1 0 1 .5 1-.4 1 .7 1-.2 1 .3 1-.7 1 .3 1 .7 1-.9 1-.1 1 .5 1 .1 1 .5 1-.3 1-.3 1 0 1 .6 1-.6 1 0 1 .2 1-.6 1 .7 1 .2 1-.2 1 2.2 1 .1 1 .6 1-2.9 1 .6 1 0 1-1 1 1 1-.4 1-.2 1 0 1-.1 1 .1 1-.2 1 .6 1-.6 1 .5 1-.3 1 .5 1 2.6 1-.7 1 .7 1-2.8 1-.2 1 .2 1-.6 1 .3 1 .3 1-.3 1 2.3 1-.1 1-.4 1 .4 1-1.9 1-.8 1 .6 1-.4 1 .7 1 0 1-.4 1 .8 1-1.1 1 .9 1-1 1 1 1-.8 1 .6 1-.4 1 .2 1-.1 1 .3 1 0 1-.4 1 .3 1-.2 1-.2 1 0 1 2 1 .2 1-2 1 .4 1-.6 1-.1 1 .6 1-.1 1-.1 1-.6 1 .9 1 0 1-.1 1 0 1-.2 1-.1 1 .1 1-.3 1 .5 1 .2 1-.5 1 .1 1-.3 1-.3 1-.3 1-.5 1 1.6 1-.3 1-.4 1-3.3 1-.1 1-.1 1 .5 1 .2 1 .7 1 .6 1 .4 1 .7 1 .1 1 .6 1-.7 1 1 1-1 1 .3 1 0 1 .1 1-.1 1 .3 1 .3 1-.6 1-.4 1 .4 1-.3 1 .5 1-.4 1-.9 1 .5 1-.6 1 .1 1 0 1-.1 1-1.7 1 .1 1-.9 1-.5 1-1.9 1-1.2 1 .9 1-4.1 1-4.2 1-9.1 1-6 1-5.2 1-1.3 1 2.1 1 5.8 1 2.2 1 2.1 1-1.1 1 4.6 1 3.4 1 3.9 1 .2 1 3.8 1 2.1 1 1.3 1 2.1 1 .6 1-.5 1 1.2 1 .7 1-.3 1 .2 1 .1 1 .6 1 .1 1 2.5 1 .2 1 .5 1-3.2 1 .4 1-.2 1-.5 1-.3 1 .6 1-.8 1-.8 1-.3 1-.5 1-1.2 1-.5 1-2.8 1-2.2 1-2.6 1-4.4 1-4.3 1-3.1 1-3.8 1-.4 1 2 1 2.6 1 4.6 1 .7 1 1.1 1 1.9 1 2.5 1 2.7 1 2.7 1 1.5 1 1.4 1 1.3 1 1.5 1 .1 1 .4 1 1.1 1-.4 1 .6 1-.2 1 0 1 .7 1-.3 1 .5 1-.3 1 0 1-.3 1 1.1 1-.4 1 2 1 .5 1 .3 1-2.8 1 3.1 1 .3 1-.4 1-.1 1-3 1 .3 1 .9 1-.9 1 .2 1-.4 1-.2 1 .5 1-.2 1 3.4 1-.3 1-3.1 1 .4 1-.6 1 .8 1-.4 1-.4 1 1 1-.7 1 .2 1 .2 1 .2 1-.2 1-.6 1 .4 1 .2 1-.2 1-.1 1-.2 1 .2 1 .6 1-.6 1-.4 1 .3 1-.6 1 .3 1-.4 1-.4 1-.8 1-.6 1 .2 1-1.2 1-.4 1-.9 1 .1 1 .5 1 .9 1-.1 1 1.1 1 .3 1 .5 1 .5 1 1.5 1-.7 1-1.9 1-.5 1 .8 1 1.8 1-.3 1 .5 1-.3 1-.3 1 1.7 1-1 1-.3 1 .2 1 .3 1-.1 1 0 1 .6 1-.3 1-.4 1 .2 1-.2 1-.2 1-.1 1 .8 1-.4 1 .1 1-.4 1 .6 1-.2 1 0 1 .2 1-.4 1-.2 1 1 1-1 1 0 1 .1 1-.1 1 0 1 .7 1 .3 1-.1 1-.6 1 .6 1-.4 1 .2 1-.1 1-.2 1 0 1-.6 1 .9 1-.6 1-.3 1 .7 1-.2 1 .4 1-.1 1-.1 1-.3 1 .5 1-.2 1-.5 1 .3 1-.2 1 .5 1-.5 1 .5 1-.1 1 .2 1 .3 1-.6 1-.1 1 .5 1-.8 1 .4 1 .6 1-.6 1 .3 1-.3 1 .5 1-1.1 1 .2 1 .1 1 .1 1 .2 1 0 1 .2 1-.4 1 .7 1-.4 1 .4 1-.4 1 .2 1-.6 1 .2 1-.2 1 .6 1-.2 1-.4 1 .3 1 0 1 .1 1-.4 1 .7 1-.8 1 .6 1-.1 1-.2 1-.2 1 .6 1 0 1-.3 1 .2 1-.6 1 .9 1-1 1 .3 1 0 1 .2 1-.3 1 .6 1-.5 1 2.5 1 .7 1-.1 1-2.5 1-.4 1 .2 1 .1 1-.3 1-.2 1 .1 1-.5 1 .4 1 .3 1-.3 1 0 1 .2 1 .1 1 .3 1-.4 1 .1 1 0 1-.4 1 1 1-.8 1-.2 1 .1 1-.6 1 .1 1 1.1 1-.9 1 .4 1-.5 1-.1 1-1 1-.1 1-.6 1-.7 1-.6 1-.7 1-.4 1-.1 1 .1 1 .2 1 1.5 1-.5 1 1.7 1 .4 1 .4 1 .5 1 .3 1 .5 1-1.1 1 .8 1 0 1-.2 1 .2 1-.8 1 1 1 .3 1-.5 1-.2 1 .9 1-1.1 1 .8 1-.8 1 .7 1-.6 1 .4 1 .4 1-.6 1 0 1 .5 1-.1 1-.2 1 .1 1-.6 1 .8 1-.3 1 .4 1-.5 1 .7 1-.4 1 .1 1 .1 1-.1 1-.2 1 .4 1-.6 1 .4 1-.5 1 1.5 1-1.4 1-.1 1 .6 1-.2 1 1 1-1.5 1 .1 1 .4 1 .3 1-.8 1 .3 1 .1 1 .1 1 .1 1 .5 1-.4 1-.3 1 .3 1-.1 1-.6 1 .1 1 .3 1 .3 1-.2" fill="none" stroke="#b368da" stroke-width="3.7" stroke-linejoin="round"/>
<path d="M861.0,731.1 L861.0,729.7 L862.0,715.6 L863.0,699.2 L864.0,685.4 L865.0,683.4 L866.0,689.5 L867.0,700.1 L868.0,713.5 L869.0,725.9 L869.0,727.3 L865.0,720.1 Z" fill="#b368da"/>
<path d="M933.0,717.4 L933.0,716.0 L934.0,697.6 L935.0,677.5 L936.0,664.8 L937.0,668.5 L938.0,677.3 L939.0,690.4 L940.0,706.7 L941.0,720.7 L941.0,722.1 L937.0,711.8 Z" fill="#b368da"/>
<path d="M1004.0,615.4 L1004.0,614.0 L1005.0,550.5 L1006.0,487.1 L1007.0,462.6 L1008.0,480.8 L1009.0,512.3 L1010.0,554.0 L1011.0,606.9 L1011.0,608.3 L1007.5,605.8 Z" fill="#b368da"/>
<path d="M1363.0,743.4 L1363.0,742.0 L1364.0,736.9 L1365.0,728.8 L1366.0,719.6 L1367.0,714.6 L1368.0,714.2 L1369.0,717.4 L1370.0,720.7 L1371.0,724.9 L1372.0,729.6 L1373.0,736.4 L1374.0,742.0 L1374.0,743.4 L1368.5,735.5 Z" fill="#b368da"/>
<path d="M1670.0,743.1 L1670.0,741.7 L1671.0,735.8 L1672.0,727.9 L1673.0,720.8 L1674.0,715.3 L1675.0,714.0 L1676.0,717.4 L1677.0,720.6 L1678.0,723.9 L1679.0,726.3 L1680.0,730.1 L1681.0,735.5 L1682.0,740.4 L1682.0,741.8 L1676.0,735.8 Z" fill="#b368da"/>
<path d="M1853.0,742.7 L1853.0,741.3 L1854.0,735.6 L1855.0,729.1 L1856.0,723.1 L1857.0,718.3 L1858.0,717.2 L1859.0,719.1 L1860.0,722.6 L1861.0,725.0 L1862.0,727.0 L1863.0,729.2 L1864.0,733.8 L1865.0,737.5 L1866.0,741.5 L1866.0,742.9 L1859.5,737.5 Z" fill="#b368da"/>
<path d="M2033.0,744.0 L2033.0,742.6 L2034.0,733.5 L2035.0,727.5 L2036.0,722.3 L2037.0,721.0 L2038.0,723.1 L2039.0,728.9 L2040.0,731.1 L2041.0,733.2 L2042.0,732.1 L2043.0,736.7 L2044.0,740.1 L2045.0,744.0 L2046.0,744.2 L2046.0,745.6 L2039.5,739.7 Z" fill="#b368da"/>
<path d="M157,995.1l1 .5 1-.4 1 .1 1-.2 1-.2 1 .1 1 .4 1 0 1-.3 1 .2 1-.7 1 1 1-.7 1-.3 1 .6 1-.3 1 .5 1 0 1-.8 1 0 1 .3 1 0 1 .3 1-.1 1 .4 1-.1 1 0 1-.2 1 .2 1 0 1-.4 1 .3 1-.1 1-.2 1 0 1 .6 1-.8 1 0 1 .7 1-.8 1 .1 1 0 1 .1 1 .1 1 .4 1-.1 1 0 1-.5 1 .2 1 .1 1-2.1 1 .2 1-.6 1 2.3 1-.5 1 1 1-.2 1-.6 1 .4 1 .2 1-.3 1 .5 1 0 1-.5 1 .4 1-.6 1 .7 1-.4 1 .2 1-.2 1-.1 1 .2 1 .1 1 0 1 0 1-.2 1 .6 1-.1 1-.1 1-.5 1 .4 1 .1 1-.2 1 .5 1-.9 1 1 1-.2 1-.4 1-.1 1 .1 1 .5 1-.6 1 .1 1-.6 1 .1 1 .3 1 .3 1-.6 1 1 1-3.4 1-.4 1-.2 1 3.1 1 .2 1 .7 1-.2 1-.3 1 0 1 0 1-.4 1 1 1-.4 1-.5 1 0 1 .3 1-.2 1 .1 1 .2 1 .3 1-.3 1 0 1 .2 1-.5 1 .3 1 .4 1-.4 1-.1 1 .1 1-.2 1 .3 1-.3 1 .1 1 3 1-.7 1 .1 1 .4 1-2.8 1 .3 1-.3 1-.1 1 .3 1-.2 1 .2 1-.1 1 .1 1-.2 1-.1 1-.2 1 .1 1 .8 1-.3 1-.4 1 .2 1-.6 1 .3 1 .3 1-.1 1-.6 1 .7 1 .3 1-.4 1-.3 1 .3 1-2.2 1-.5 1 2.5 1 0 1 .3 1 0 1 .2 1 .2 1-.8 1 .4 1 .5 1-.4 1 .3 1-.2 1-.3 1 .6 1-.7 1 .7 1-.5 1 0 1 .6 1 .2 1-1.3 1 .5 1-.2 1 .1 1 .1 1-.2 1 0 1-.4 1 1.3 1-.7 1 .2 1 0 1-.4 1 .4 1-.1 1 0 1 .6 1-.5 1-.4 1 .3 1 0 1-.4 1 .2 1 .2 1 .4 1-.7 1 .7 1-.1 1-.1 1 .1 1 .4 1-.7 1-.6 1 .7 1-.6 1 .6 1-.2 1-.3 1 .2 1-.1 1 .2 1 0 1-.6 1 1 1-.8 1 .5 1 .2 1-.1 1-2 1-.1 1 .4 1-.8 1 2.2 1 .1 1 0 1-.4 1 .5 1 1.4 1 .3 1-1.8 1 .5 1-.5 1 .4 1-.2 1 .1 1 .4 1-.4 1 .9 1-1.4 1 .5 1 .2 1-.9 1 .2 1-.3 1 0 1 .8 1-.2 1-.3 1 2 1-.2 1 .5 1 .5 1-2.8 1 .3 1 .1 1 1.6 1 .5 1-.1 1-2.3 1 .2 1 .5 1-.5 1 .4 1-.2 1-.3 1-.3 1 .7 1 1.5 1-.2 1 .4 1-2 1-.1 1 .2 1 0 1-.7 1 .6 1-.2 1 .1 1 .4 1-.2 1 2 1 .3 1-2.7 1-.1 1 .2 1 .5 1-.1 1-.2 1 .3 1-.3 1-.2 1 .3 1-.3 1 .3 1 .1 1-.2 1-.2 1 .7 1-.8 1 3.2 1 .5 1-.3 1-3.1 1 .1 1-.2 1 .5 1-.8 1-.2 1 .7 1 0 1 .3 1-.2 1-.4 1 .2 1-.4 1 .4 1-.2 1 .3 1-.2 1 .1 1-.4 1 .9 1-.8 1 .6 1-.2 1-.2 1 .6 1-.8 1 .2 1-.1 1-.2 1 .4 1 .2 1-.5 1 .4 1 .1 1-.4 1 .4 1-.2 1 .2 1-.1 1 .1 1-.2 1 .2 1 .1 1-.1 1-.3 1 .1 1 0 1 .1 1-2 1 .4 1 .3 1-1 1 2 1 .5 1-.7 1 .6 1-.5 1 .4 1-.2 1 .8 1-1.3 1 .7 1-.5 1 .8 1-.2 1-.5 1 .3 1 .2 1 0 1-.1 1 .2 1-.7 1 .7 1-.4 1-.3 1 .4 1 0 1-.3 1 .6 1-.2 1-.1 1 .5 1-.2 1-.3 1-3.2 1 .3 1 2.7 1 .7 1-.6 1-.1 1 .5 1-.5 1 0 1 .1 1-.1 1 .5 1-.4 1 .5 1-.3 1 .3 1-.4 1 0 1 .4 1-.7 1 .3 1 .1 1-.4 1-.4 1 .4 1-.5 1 1.2 1-.4 1 .1 1 .1 1-.4 1 .3 1 .5 1-.7 1 .2 1 .1 1 .1 1-.1 1 .1 1-.5 1-.4 1 .2 1 .3 1 .6 1-.7 1-.2 1-.3 1 .1 1 .7 1-.5 1 .5 1-.7 1 .5 1-.2 1 0 1-.2 1 0 1 .5 1-.9 1-.3 1 .1 1-.4 1 .5 1-.5 1-1 1-.9 1-.9 1-.2 1-1.1 1 .1 1-1.3 1 .1 1 .6 1 .2 1 .7 1 .2 1 .1 1 .8 1 .5 1-.4 1 .8 1-1.2 1-.1 1-.3 1-.3 1-.8 1 .4 1 .3 1-.5 1 .9 1 .4 1 .7 1 .7 1 .2 1 .7 1 .3 1 1 1-2.8 1 1.2 1 1.8 1-.4 1-.2 1 .5 1 0 1 0 1 .2 1 1.1 1-1.2 1 1 1-1 1 .3 1 0 1-.9 1 .9 1-.2 1 .1 1-.4 1 .9 1-.1 1-.6 1-.3 1 .5 1 .2 1-.3 1-.1 1-.2 1 .2 1 .2 1-1 1 .3 1 .9 1-.6 1 .2 1-.1 1-.5 1 0 1 .5 1-.2 1-.1 1 0 1-.3 1-.3 1-2.2 1-.4 1 .1 1-.1 1 2.3 1-1 1 2.2 1-.2 1-.5 1-2.3 1-.3 1-.4 1-.7 1-1.3 1-.9 1-1.1 1-1.6 1-2.1 1-2.9 1-5.4 1-6.3 1-10.2 1-17.6 1-27.1 1-35.9 1-39.8 1-21.1 1 6.9 1 24 1 34.5 1 33.1 1 25.2 1 17.6 1 10.1 1 7 1 4.4 1 5.9 1 2 1-.6 1 1.5 1 .9 1 .4 1 1.4 1-.6 1 1.3 1 .7 1 .1 1 .3 1-.4 1 .7 1-.6 1 1.1 1-.2 1 .3 1 .4 1-.1 1-.4 1 .7 1-.5 1 .6 1 .2 1-.5 1 .1 1 .1 1 .8 1-1.3 1 .8 1-.1 1-.1 1 .1 1-.2 1 .3 1-.5 1 .5 1 0 1 .4 1-.8 1 .6 1 .1 1 .6 1-.9 1 .3 1 .2 1 .1 1 .3 1-.2 1-.9 1 .4 1 .4 1 .1 1-.6 1 .3 1 .6 1-.3 1-.7 1 .6 1 0 1 0 1 .1 1-.3 1 .4 1-.3 1 0 1-.3 1 .4 1 .3 1-.9 1 .3 1 2.9 1-.1 1-.1 1-2.6 1 0 1 .6 1-1.2 1 .5 1 .5 1-.2 1 0 1-.4 1 .6 1-.6 1 .1 1 .3 1-.1 1 .3 1-.2 1 0 1-.4 1 1 1-.4 1 .2 1-.4 1 0 1-.1 1 .6 1-.4 1-.1 1-.3 1 .6 1-.3 1 .6 1-.9 1 .2 1-.1 1-.1 1-.4 1 .9 1-.3 1 .4 1-.7 1 .5 1-2.5 1 1 1-.1 1-.1 1 1.6 1-.2 1 .3 1 .1 1-.1 1 .5 1-.7 1 .4 1-.2 1-.1 1-.3 1 .8 1-.9 1 1.1 1-.7 1 .3 1 .2 1 0 1-.5 1 .5 1 0 1-.2 1-.4 1 .2 1 0 1 .1 1 0 1-.1 1-.2 1-.1 1 .1 1 .3 1-.4 1 2.7 1 .6 1-.1 1-3.2 1-.1 1 .1 1-.1 1 .1 1 .5 1-.2 1-.4 1 .1 1 .3 1 .1 1 .2 1-.6 1 .2 1 .4 1-.4 1 .3 1 .2 1-1.2 1 .4 1 .3 1-.6 1 .6 1 .9 1-1.3 1 .3 1 .2 1-.1 1-.2 1-.2 1 .2 1-.2 1-.1 1 0 1 .3 1-.4 1 0 1 .5 1-.5 1 .2 1-.4 1 .4 1-.1 1 .1 1-.1 1 0 1-.2 1-.3 1-.2 1 .8 1-.6 1-.3 1 .2 1 .3 1-.1 1-.5 1 .6 1-.1 1-1.3 1 .4 1 .1 1-.5 1-.2 1 0 1-.3 1 .4 1-.7 1-.3 1-1.2 1-.2 1 0 1-1.3 1-1 1-.2 1-1.2 1-1.9 1-1.8 1-2.5 1-3.9 1-5.9 1-8.3 1-12.9 1-20.5 1-28.8 1-37.7 1-35.2 1-14.3 1 9.2 1 19.4 1 26.7 1 30.7 1 28.1 1 20.2 1 13.5 1 9.6 1 5.3 1 3.8 1 3.2 1 1.4 1 1.9 1 2.1 1 .3 1 .7 1 .9 1 .9 1-.1 1 .9 1 .6 1-.4 1 .6 1-.1 1 .4 1 .3 1-.2 1 .9 1-.4 1 0 1 0 1 .4 1 .3 1-.7 1 .7 1 .3 1-.6 1 .6 1 0 1-.1 1 .3 1-.5 1 1.3 1-1 1 0 1 .5 1-.8 1 .5 1 .3 1-2.8 1 0 1-.2 1 2.6 1 .1 1 0 1 .8 1-.2 1 .4 1-.8 1-.1 1 .1 1 .3 1 0 1 0 1-.1 1 .3 1-.7 1 .2 1 .3 1-.7 1 .6 1 0 1-.6 1 .3 1 .6 1 .4 1-1.2 1 .6 1 .6 1-1.1 1 .1 1 .1 1 .3 1 .5 1-.7 1 0 1-.1 1 .1 1 .2 1-.2 1-.1 1-.2 1 .3 1-.2 1-.1 1-.1 1 .5 1 0 1-.5 1 .3 1 .5 1-.2 1 .2 1-.5 1 .1 1 .2 1-.4 1-.1 1-.2 1-.3 1 .3 1-.7 1 .4 1-.2 1-.5 1 .1 1 .4 1-.9 1 .2 1-.3 1-.9 1-.1 1-.3 1-.8 1-1 1-1.2 1-2.9 1-2.6 1-4.6 1-7.7 1-9.1 1-12.3 1-11.2 1-4.1 1 3 1 6 1 6.9 1 9.6 1 9.1 1 7.6 1 4.7 1 4.1 1 2.4 1 1.3 1 1.4 1 .9 1 .6 1 1 1 2.9 1 .3 1-2.5 1-.3 1 .3 1 .6 1 .1 1-.1 1-.5 1 .7 1 .2 1-.5 1 .1 1 .1 1-.4 1-.6 1-1 1 .2 1-1.9 1-1.7 1-1.8 1 .9 1 .6 1 1.1 1 2 1 .9 1 1.1 1 .8 1 .6 1-1 1 1 1-.6 1-.1 1 .5 1-.2 1-.1 1-.5 1 .8 1-.4 1-.4 1 .2 1 0 1-.1 1 .1 1-.9 1 .2 1 .1 1-1.2 1 1.1 1-.5 1-.1 1-.7 1-.2 1-.2 1 0 1-.6 1 .1 1 .3 1-1.3 1 .4 1-.8 1-.1 1-.2 1-.4 1-.1 1-.9 1 .3 1-.9 1-.1 1 .3 1-.3 1-.3 1 .3 1-1.1 1 .3 1-.1 1 .3 1 .1 1-.5 1 .3 1-.2 1 .8 1-.4 1 .6 1 .4 1 .3 1-.1 1 .5 1 .4 1 .2 1 .4 1 .3 1 .1 1 .2 1 .6 1 .3 1 .1 1 .5 1 .5 1 .4 1-.9 1 1 1-.1 1 .5 1-.1 1-.1 1 .8 1 .6 1-.1 1 0 1-.3 1 .1 1-.1 1 .8 1 .1 1-.1 1 .3 1-.2 1-2.2 1 .6 1-.2 1 .6 1 1.1 1 .4 1-.1 1 .2 1-.2 1-.1 1 1 1-.2 1-.3 1-.1 1-.4 1 .4 1-.3 1-.2 1 .6 1-.1 1-.1 1-.2 1-.3 1 .9 1-.3 1 .1 1 0 1-.2 1-.2 1 .5 1-.1 1 .3 1-.3 1 .3 1-.4 1-.2 1 .1 1 .2 1 .2 1 .6 1-.4 1-.5 1 .7 1-1 1 .3 1 .1 1 .2 1 .1 1-.2 1-.2 1 .5 1 0 1-.3 1-.5 1 .8 1-.3 1-.1 1 .4 1-.2 1 .4 1-.2 1-.1 1-.3 1-.2 1 .4 1 .1 1-.7 1 .2 1 .4 1-.2 1 .5 1-.9 1 1 1-.5 1 .1 1-.1 1-.1 1 .1 1 .1 1 .4 1-.9 1 .8 1-.5 1 .5 1-.3 1 2.1 1-.1 1-.5 1-.3 1-1.2 1-.1 1-.1 1 .3 1 .1 1-.2 1 .1 1 .1 1 0 1-.6 1 .7 1-.7 1-.3 1 1.1 1-.5 1 .3 1-.6 1 .6 1 0 1-.8 1 1.3 1-1.2 1 .9 1-.3 1-.2 1 .2 1-2.2 1 .4 1 1.3 1 .5 1-.3 1 .3 1-.6 1 .6 1-.4 1 .5 1 .2 1-.2 1 0 1-.2 1 .1 1 0 1-.2 1 .4 1-.2 1-.3 1 .1 1-.2 1 .8 1-2.6 1 .2 1 1.8 1 .3 1-.4 1 .1 1-.3 1 1.3 1-3.1 1 .8 1-.7 1 .2 1 2.1 1 .2 1-.1 1-.1 1 .1 1 0 1-.4 1-.2 1 .5 1 .1 1 .1 1-.6 1-2.5 1 0 1 .4 1 2.6 1-.2 1 .2 1 .4 1-.9 1 .9 1 1.5 1-.2 1 .1 1-.3 1-2.8 1 1.3 1-.3 1 .2 1-.2 1 .2 1 .6 1-1.6 1 1.2 1-.7 1 .1 1 .4 1-.6 1 .7 1-.1 1 0 1 .4 1-.3 1-.6 1 .5 1-.2 1 .1 1 0 1 .8 1-.9 1 .1 1-.3 1 2.8 1 .3 1-.7 1-1.4 1-1.3 1 .5 1 .4 1-.3 1-.3 1 .2 1 0 1 .3 1 .1 1 0 1-.6 1 .4 1-.2 1-.1 1 0 1 .2 1-.3 1 .8 1-1.1 1 1 1-.4 1-.1 1-.2 1-.1 1 0 1 .5 1-.1 1 0 1-.1 1 .4 1-.4 1 .2 1 .2 1-.2 1-.1 1 .1 1-.6 1 .3 1 .2 1 .1 1-.8 1 .7 1 .1 1-.1 1-.1 1 .3 1-.4 1 .2 1 0 1-.1 1-.2 1 .4 1 .8 1-.9 1 2.7 1 0 1-.4 1-2.5 1 .5 1-.5 1-.1 1-.2 1 .6 1 0 1 .1 1-.7 1 .4 1 .2 1 .5 1-1.3 1 .6 1 .2 1-.3 1 .1 1-.3 1 0 1-.1 1 0 1 .3 1 .1 1 0 1 .2 1-.1 1 .1 1 0 1-.2 1-.6 1 0 1 .5 1-.1 1-.2 1 .6 1-.3 1 .1 1-.5 1 .7 1-.1 1-.8 1 .5 1 0 1-.1 1-.2 1-.2 1 .3 1-.1 1 0 1-.8 1-.2 1 .4 1 .1 1-.3 1 .2 1-.4 1-.5 1-.1 1 .3 1-.6 1-.2 1-1 1 .3 1-1 1-.2 1-1 1-1.1 1-1.3 1-1.8 1-2.2 1-3.7 1-5 1-8 1-12 1-17 1-20.6 1-17.5 1-3.8 1 8.5 1 9.4 1 7 1 6 1 9.1 1 14.1 1 12.2 1 6.3 1 6.3 1 4.9 1 5.8 1 1.5 1 1.6 1 1.3 1 .4 1 .5 1 .9 1 .2 1 .6 1 .4 1-2 1-.3 1-.3 1 3.8 1-.3 1 .5 1 0 1-.2 1 .2 1 .4 1 .3 1-.1 1-1 1 1.1 1 .3 1-.5 1 .2 1 .1 1 0 1-.4 1 .2 1 0 1 0 1 .2 1-.3 1 .5 1 .2 1-.6 1 .7 1-.2 1 .3 1-.7 1 .3 1-.2 1-.2 1 .6 1-.8 1 .7 1-.5 1 .4 1 .1 1 .1 1 0 1 0 1 .1 1-.3 1-.8 1 .5 1 .4 1 .1 1-.2 1 .3 1-.3 1 0 1-.1 1 .4 1-.6 1 .6 1-.7 1 0 1-.3 1 .1 1-.1 1-.1 1 0 1-.4 1-.5 1 .3 1-.8 1-.3 1-.4 1-2.3 1-2.4 1-1.8 1-2.5 1-3.9 1-2.2 1-.9 1-.4 1 1.7 1 .4 1 2.2 1 1 1 2.4 1 1.9 1 2.2 1 2.3 1 1 1 1.4 1 .7 1 0 1 1.1 1 .2 1 .7 1 .1 1-.4 1 .2 1 .3 1-.4 1 .1 1-.1 1 .3 1-.4 1 1 1-.6 1 0 1 .1 1-.5 1 0 1 .8 1-.2 1-.3 1-2.8 1 .5 1 3 1-.4 1 .4 1-.2 1 .1 1-.3 1 .2 1 .2 1-.6 1-.1 1 .6 1 .3 1-1 1 .6 1-.3 1 .8 1-.7 1 .2 1 .3 1-.5 1-.2 1-.1 1 .2 1 .3 1 .4 1-.2 1-.1 1-.1 1-.2 1-1.7 1-.9 1 .4 1 2.6 1-.3 1 .3 1-.2 1 .1 1-.2 1 .2 1-.4 1 .4 1 .2 1 .1 1-.9 1 1.1 1-.7 1 .4 1-.4 1 .5 1-.3 1 .2 1-.8 1 .4 1 .1 1-.3 1 .3 1-.7 1 1 1 0 1-.2 1-.3 1 .1 1 .1 1-.7 1 .4 1-.5 1 .1 1 .2 1-.4 1 .5 1-.6 1 0 1-.7 1 .3 1-1.3 1-1.1 1-1.2 1-1.8 1-1.9 1-1.8 1-1.1 1-.3 1 .7 1 .2 1 1.8 1 .5 1 .7 1 1.1 1 1.5 1 1.2 1 1.3 1 .7 1 .3 1 .3 1 .2 1 .9 1-.5 1 .4 1-.8 1 .1 1-.4 1-.5 1-1.2 1-.8 1-.5 1 0 1-.2 1 1.4 1 .9 1 1.2 1 0 1 .9 1 .2 1-.4 1 .1 1 .2 1 .5 1 0 1-.2 1 .4 1-.8 1 .3 1 .4 1-.1 1 .6 1-.7 1-.5 1 1 1 0 1-.4 1 0 1-1 1 .6 1 .4 1-.4 1 .6 1 2.2 1-.1 1-.3 1-1.9 1 .1 1-.3 1 1.1 1-1.2 1-.3 1 .4 1 .2 1-.2 1 .4 1-.9 1 .2 1 .6 1-.9 1 .8 1 .1 1-.2 1 .1 1-.1 1-2.2 1 .1 1 1.4 1 1.2 1-.8 1-.1 1 .2 1 .3 1-.6 1 .2 1 1.2 1-1.1 1-.1 1 .5 1-.6 1 .3 1 0 1-.4 1 0 1 .4 1 .1 1-1 1 .8 1 .2 1-.5 1-.1 1 .2 1-.1 1-.2 1-.1 1 .1 1 0 1 .2 1-.5 1-.4 1 .2 1-.2 1 2.1 1-.3 1-3.3 1 .1 1-1 1-1.5 1-1.1 1-1.9 1-2.2 1-3.5 1-1.7 1-2.6 1-2.1 1-1.1 1 1.5 1 1 1 2.2 1 1.1 1 1.2 1 1.4 1 2.1 1 1.7 1 2.3 1 1.3 1 1.2 1 1 1 .6 1 .2 1 1 1 .6 1-.7 1 .1 1 .6 1-.2 1 .6 1 0 1 .4 1 2.3 1 .2 1-3 1 .5 1 .5 1-.2 1 .3 1-.7 1 .5 1-.5 1 .5 1-.4 1-.2 1 .6 1-.1 1-.2 1 .3 1 .3 1 .3 1-.6 1 0 1-.3 1 0 1-.1 1 .1 1 0 1 .7 1-.2 1-.4 1 .4 1-.3 1 .3 1-.4 1 .1 1 .3 1-.4 1 .2 1-.3 1 0 1 .2 1-.5 1 .7 1-.3 1-.3 1-.2 1 3 1-.4 1 .1 1-2.6 1 .7 1-.1 1-.1 1-1 1 .9 1 0 1-2.9 1 .5 1-.2 1 2.4 1 .5 1 0 1-.6 1-.4 1 .7 1-.8 1 0 1-.2 1 .5 1-.2 1-.1 1 .1 1-.2 1 0 1-.7 1-.5 1 .2 1-.9 1-.1 1-1.6 1-1.3 1-1.8 1-1.4 1-2.9 1-2.1 1-1.7 1-.7 1-.6 1 1.7 1 .9 1 .6 1 1 1 1.3 1 .5 1 2 1 1.1 1 1.9 1 1 1 1 1 .3 1 1.1 1-.2 1 .5 1 0 1-.3 1 .1 1 .1 1-.2 1 .4 1-.1 1-.3 1-.6 1-.8 1-.6 1-1.2 1-1.4 1-2.6 1-1.7 1-2.7 1-1.6 1-1 1 0 1 1.1 1 1.6 1 1.3 1 .2 1 .7 1 1.4 1 1.7 1 2.1 1 .6 1 .9 1 1.7 1 .3 1 1.2 1 .4 1 .2 1-.2 1 .8 1-.4 1 .7 1-.3 1-.1 1 .4 1-.2 1 .3 1 .4 1-.6 1 .4 1-.3 1 .4 1 .1 1 .4 1-.3 1 .3 1 0 1-.4 1 .1 1 .5 1-.8 1 .2 1 .6 1-.8 1 .6 1-.4 1 0 1-.3 1 .6 1-.3 1 .5 1-.4 1 .3 1-.3 1 .5 1-.3 1-.1 1 0 1 0 1-.1 1 .1 1 .5 1-.3 1-.3 1-.2 1 1 1-.4 1-.2 1 0 1-.4 1 .4 1 .3 1-1 1 .7 1 0 1-.6 1 .7 1 .2 1-.4 1 .6 1-.9 1 .7 1-.3 1 .5 1-1.1 1 .8 1 .3 1-.1 1 0 1-.1 1-.1 1 .2 1 .1 1-1.2 1 .9 1 .1 1 .2 1-.5 1 .5 1-.3 1 .2 1 .3 1-.7 1 .3 1-.6 1 .6 1-.1 1 .2 1 0 1-.7 1 .5 1-.1 1-.1 1 .6 1 0 1-.4 1 .4 1-.3 1 .1 1 .2 1-.7 1-.1 1 .4 1-.7 1 .5 1-.1 1 .6 1-.4 1-.3 1 .3 1 0 1 0 1 .1 1-.7 1 .7 1 .1 1-.4 1 .1 1-.2 1 .6 1-.4 1 0 1 .3 1-.2 1 0 1-.1 1 .3 1-.1 1 .6 1-.9 1 .2 1-.4 1 .4 1 0 1-.1 1 .5 1-.3 1-.3 1-.1 1 .2 1 .1 1 .4 1 .2 1-1.2 1 .8 1-.3 1-.4 1-.2 1 1.1 1-.4 1-.1 1-.2 1 .1 1 .3 1-.5 1 .2 1-.4 1-.4 1-.1 1 .8 1-.6 1-.1 1-.2 1-.4 1-.4 1-1.4 1-.4 1-.9 1-1.9 1-.8 1-1.9 1-2 1-.2 1-.3 1 .4 1 .2 1 1.3 1 0 1 .7 1 .3 1 1.2 1 1.5 1 .3 1 1.2 1 1 1 .7 1 .6 1 .9 1 .1 1 1.5 1-1 1-.4 1 .9 1-.4 1 .1 1 .5 1 0 1 .3 1-.3 1-.2 1 0 1 0 1 .2 1-.1 1 .3 1 0 1 .5 1-.5 1-.2 1 .3 1 0 1-.2 1 0 1 .2 1-.2 1 .1 1 .3 1-.5 1 .4 1-.9 1 .9 1 2.2 1 .2 1-.6 1-1.6 1-.5 1 0 1-.1 1 .3 1-.2 1 .4 1-.1 1-.1 1 .7 1-1 1 .8 1-.4 1 0 1 0 1-.3 1-.3 1 .7 1 0 1-.2 1-.3 1 .7 1-.5 1-.1 1 .1 1 .4 1-.2 1 .1 1-.3 1-.7 1 .8 1 .1 1-.2 1 .4 1-.5 1 .7 1-.7 1 .1 1-.4 1 .2 1 .1 1 1 1-.5 1-.2 1 .4 1-.7 1 .2 1-.3 1 .6 1-.1 1 .3 1 0 1-.3 1 .4 1-.6 1 .1 1 3.2 1-.2 1-.1 1-.1 1-3 1 .4 1-.2 1 0 1 .3 1-.6 1 .3 1 .1 1 .2 1-.7 1 .1 1 0 1 .3 1-.2 1 .3 1 .2 1 2.4 1 .2 1-.7 1 .2 1-2 1-.1 1 .1 1-.1 1 .2 1-.5 1 0 1-.2 1 .2 1 .3 1-.2 1-.2 1 .8 1-.7" fill="none" stroke="#2eac6c" stroke-width="3.7" stroke-linejoin="round"/>
<path d="M157,996.5l1 .5 1-.4 1 .1 1-.2 1-.2 1 .1 1 .4 1 0 1-.3 1 .2 1-.7 1 1 1-.7 1-.3 1 .6 1-.3 1 .5 1 0 1-.8 1 0 1 .3 1 0 1 .3 1-.1 1 .4 1-.1 1 0 1-.2 1 .2 1 0 1-.4 1 .3 1-.1 1-.2 1 0 1 .6 1-.8 1 0 1 .7 1-.8 1 .1 1 0 1 .1 1 .1 1 .4 1-.1 1 0 1-.5 1 .2 1 .1 1-2.1 1 .2 1-.6 1 2.3 1-.5 1 1 1-.2 1-.6 1 .4 1 .2 1-.3 1 .5 1 0 1-.5 1 .4 1-.6 1 .7 1-.4 1 .2 1-.2 1-.1 1 .2 1 .1 1 0 1 0 1-.2 1 .6 1-.1 1-.1 1-.5 1 .4 1 .1 1-.2 1 .5 1-.9 1 1 1-.2 1-.4 1-.1 1 .1 1 .5 1-.6 1 .1 1-.6 1 .1 1 .3 1 .3 1-.6 1 1 1-3.4 1-.4 1-.2 1 3.1 1 .2 1 .7 1-.2 1-.3 1 0 1 0 1-.4 1 1 1-.4 1-.5 1 0 1 .3 1-.2 1 .1 1 .2 1 .3 1-.3 1 0 1 .2 1-.5 1 .3 1 .4 1-.4 1-.1 1 .1 1-.2 1 .3 1-.3 1 .1 1 3 1-.7 1 .1 1 .4 1-2.8 1 .3 1-.3 1-.1 1 .3 1-.2 1 .2 1-.1 1 .1 1-.2 1-.1 1-.2 1 .1 1 .8 1-.3 1-.4 1 .2 1-.6 1 .3 1 .3 1-.1 1-.6 1 .7 1 .3 1-.4 1-.3 1 .3 1-2.2 1-.5 1 2.5 1 0 1 .3 1 0 1 .2 1 .2 1-.8 1 .4 1 .5 1-.4 1 .3 1-.2 1-.3 1 .6 1-.7 1 .7 1-.5 1 0 1 .6 1 .2 1-1.3 1 .5 1-.2 1 .1 1 .1 1-.2 1 0 1-.4 1 1.3 1-.7 1 .2 1 0 1-.4 1 .4 1-.1 1 0 1 .6 1-.5 1-.4 1 .3 1 0 1-.4 1 .2 1 .2 1 .4 1-.7 1 .7 1-.1 1-.1 1 .1 1 .4 1-.7 1-.6 1 .7 1-.6 1 .6 1-.2 1-.3 1 .2 1-.1 1 .2 1 0 1-.6 1 1 1-.8 1 .5 1 .2 1-.1 1-2 1-.1 1 .4 1-.8 1 2.2 1 .1 1 0 1-.4 1 .5 1 1.4 1 .3 1-1.8 1 .5 1-.5 1 .4 1-.2 1 .1 1 .4 1-.4 1 .9 1-1.4 1 .5 1 .2 1-.9 1 .2 1-.3 1 0 1 .8 1-.2 1-.3 1 2 1-.2 1 .5 1 .5 1-2.8 1 .3 1 .1 1 1.6 1 .5 1-.1 1-2.3 1 .2 1 .5 1-.5 1 .4 1-.2 1-.3 1-.3 1 .7 1 1.5 1-.2 1 .4 1-2 1-.1 1 .2 1 0 1-.7 1 .6 1-.2 1 .1 1 .4 1-.2 1 2 1 .3 1-2.7 1-.1 1 .2 1 .5 1-.1 1-.2 1 .3 1-.3 1-.2 1 .3 1-.3 1 .3 1 .1 1-.2 1-.2 1 .7 1-.8 1 3.2 1 .5 1-.3 1-3.1 1 .1 1-.2 1 .5 1-.8 1-.2 1 .7 1 0 1 .3 1-.2 1-.4 1 .2 1-.4 1 .4 1-.2 1 .3 1-.2 1 .1 1-.4 1 .9 1-.8 1 .6 1-.2 1-.2 1 .6 1-.8 1 .2 1-.1 1-.2 1 .4 1 .2 1-.5 1 .4 1 .1 1-.4 1 .4 1-.2 1 .2 1-.1 1 .1 1-.2 1 .2 1 .1 1-.1 1-.3 1 .1 1 0 1 .1 1-2 1 .4 1 .3 1-1 1 2 1 .5 1-.7 1 .6 1-.5 1 .4 1-.2 1 .8 1-1.3 1 .7 1-.5 1 .8 1-.2 1-.5 1 .3 1 .2 1 0 1-.1 1 .2 1-.7 1 .7 1-.4 1-.3 1 .4 1 0 1-.3 1 .6 1-.2 1-.1 1 .5 1-.2 1-.3 1-3.2 1 .3 1 2.7 1 .7 1-.6 1-.1 1 .5 1-.5 1 0 1 .1 1-.1 1 .5 1-.4 1 .5 1-.3 1 .3 1-.4 1 0 1 .4 1-.7 1 .3 1 .1 1-.4 1-.4 1 .4 1-.5 1 1.2 1-.4 1 .1 1 .1 1-.4 1 .3 1 .5 1-.7 1 .2 1 .1 1 .1 1-.1 1 .1 1-.5 1-.4 1 .2 1 .3 1 .6 1-.7 1-.2 1-.3 1 .1 1 .7 1-.5 1 .5 1-.7 1 .5 1-.2 1 0 1-.2 1 0 1 .5 1-.9 1-.3 1 .1 1-.4 1 .5 1-.5 1-1 1-.9 1-.9 1-.2 1-1.1 1 .1 1-1.3 1 .1 1 .6 1 .2 1 .7 1 .2 1 .1 1 .8 1 .5 1-.4 1 .8 1-1.2 1-.1 1-.3 1-.3 1-.8 1 .4 1 .3 1-.5 1 .9 1 .4 1 .7 1 .7 1 .2 1 .7 1 .3 1 1 1-2.8 1 1.2 1 1.8 1-.4 1-.2 1 .5 1 0 1 0 1 .2 1 1.1 1-1.2 1 1 1-1 1 .3 1 0 1-.9 1 .9 1-.2 1 .1 1-.4 1 .9 1-.1 1-.6 1-.3 1 .5 1 .2 1-.3 1-.1 1-.2 1 .2 1 .2 1-1 1 .3 1 .9 1-.6 1 .2 1-.1 1-.5 1 0 1 .5 1-.2 1-.1 1 0 1-.3 1-.3 1-2.2 1-.4 1 .1 1-.1 1 2.3 1-1 1 2.2 1-.2 1-.5 1-2.3 1-.3 1-.4 1-.7 1-1.3 1-.9 1-1.1 1-1.6 1-2.1 1-2.9 1-5.4 1-6.3 1-10.2 1-17.6 1-27.1 1-35.9 1-39.8 1-21.1 1 6.9 1 24 1 34.5 1 33.1 1 25.2 1 17.6 1 10.1 1 7 1 4.4 1 5.9 1 2 1-.6 1 1.5 1 .9 1 .4 1 1.4 1-.6 1 1.3 1 .7 1 .1 1 .3 1-.4 1 .7 1-.6 1 1.1 1-.2 1 .3 1 .4 1-.1 1-.4 1 .7 1-.5 1 .6 1 .2 1-.5 1 .1 1 .1 1 .8 1-1.3 1 .8 1-.1 1-.1 1 .1 1-.2 1 .3 1-.5 1 .5 1 0 1 .4 1-.8 1 .6 1 .1 1 .6 1-.9 1 .3 1 .2 1 .1 1 .3 1-.2 1-.9 1 .4 1 .4 1 .1 1-.6 1 .3 1 .6 1-.3 1-.7 1 .6 1 0 1 0 1 .1 1-.3 1 .4 1-.3 1 0 1-.3 1 .4 1 .3 1-.9 1 .3 1 2.9 1-.1 1-.1 1-2.6 1 0 1 .6 1-1.2 1 .5 1 .5 1-.2 1 0 1-.4 1 .6 1-.6 1 .1 1 .3 1-.1 1 .3 1-.2 1 0 1-.4 1 1 1-.4 1 .2 1-.4 1 0 1-.1 1 .6 1-.4 1-.1 1-.3 1 .6 1-.3 1 .6 1-.9 1 .2 1-.1 1-.1 1-.4 1 .9 1-.3 1 .4 1-.7 1 .5 1-2.5 1 1 1-.1 1-.1 1 1.6 1-.2 1 .3 1 .1 1-.1 1 .5 1-.7 1 .4 1-.2 1-.1 1-.3 1 .8 1-.9 1 1.1 1-.7 1 .3 1 .2 1 0 1-.5 1 .5 1 0 1-.2 1-.4 1 .2 1 0 1 .1 1 0 1-.1 1-.2 1-.1 1 .1 1 .3 1-.4 1 2.7 1 .6 1-.1 1-3.2 1-.1 1 .1 1-.1 1 .1 1 .5 1-.2 1-.4 1 .1 1 .3 1 .1 1 .2 1-.6 1 .2 1 .4 1-.4 1 .3 1 .2 1-1.2 1 .4 1 .3 1-.6 1 .6 1 .9 1-1.3 1 .3 1 .2 1-.1 1-.2 1-.2 1 .2 1-.2 1-.1 1 0 1 .3 1-.4 1 0 1 .5 1-.5 1 .2 1-.4 1 .4 1-.1 1 .1 1-.1 1 0 1-.2 1-.3 1-.2 1 .8 1-.6 1-.3 1 .2 1 .3 1-.1 1-.5 1 .6 1-.1 1-1.3 1 .4 1 .1 1-.5 1-.2 1 0 1-.3 1 .4 1-.7 1-.3 1-1.2 1-.2 1 0 1-1.3 1-1 1-.2 1-1.2 1-1.9 1-1.8 1-2.5 1-3.9 1-5.9 1-8.3 1-12.9 1-20.5 1-28.8 1-37.7 1-35.2 1-14.3 1 9.2 1 19.4 1 26.7 1 30.7 1 28.1 1 20.2 1 13.5 1 9.6 1 5.3 1 3.8 1 3.2 1 1.4 1 1.9 1 2.1 1 .3 1 .7 1 .9 1 .9 1-.1 1 .9 1 .6 1-.4 1 .6 1-.1 1 .4 1 .3 1-.2 1 .9 1-.4 1 0 1 0 1 .4 1 .3 1-.7 1 .7 1 .3 1-.6 1 .6 1 0 1-.1 1 .3 1-.5 1 1.3 1-1 1 0 1 .5 1-.8 1 .5 1 .3 1-2.8 1 0 1-.2 1 2.6 1 .1 1 0 1 .8 1-.2 1 .4 1-.8 1-.1 1 .1 1 .3 1 0 1 0 1-.1 1 .3 1-.7 1 .2 1 .3 1-.7 1 .6 1 0 1-.6 1 .3 1 .6 1 .4 1-1.2 1 .6 1 .6 1-1.1 1 .1 1 .1 1 .3 1 .5 1-.7 1 0 1-.1 1 .1 1 .2 1-.2 1-.1 1-.2 1 .3 1-.2 1-.1 1-.1 1 .5 1 0 1-.5 1 .3 1 .5 1-.2 1 .2 1-.5 1 .1 1 .2 1-.4 1-.1 1-.2 1-.3 1 .3 1-.7 1 .4 1-.2 1-.5 1 .1 1 .4 1-.9 1 .2 1-.3 1-.9 1-.1 1-.3 1-.8 1-1 1-1.2 1-2.9 1-2.6 1-4.6 1-7.7 1-9.1 1-12.3 1-11.2 1-4.1 1 3 1 6 1 6.9 1 9.6 1 9.1 1 7.6 1 4.7 1 4.1 1 2.4 1 1.3 1 1.4 1 .9 1 .6 1 1 1 2.9 1 .3 1-2.5 1-.3 1 .3 1 .6 1 .1 1-.1 1-.5 1 .7 1 .2 1-.5 1 .1 1 .1 1-.4 1-.6 1-1 1 .2 1-1.9 1-1.7 1-1.8 1 .9 1 .6 1 1.1 1 2 1 .9 1 1.1 1 .8 1 .6 1-1 1 1 1-.6 1-.1 1 .5 1-.2 1-.1 1-.5 1 .8 1-.4 1-.4 1 .2 1 0 1-.1 1 .1 1-.9 1 .2 1 .1 1-1.2 1 1.1 1-.5 1-.1 1-.7 1-.2 1-.2 1 0 1-.6 1 .1 1 .3 1-1.3 1 .4 1-.8 1-.1 1-.2 1-.4 1-.1 1-.9 1 .3 1-.9 1-.1 1 .3 1-.3 1-.3 1 .3 1-1.1 1 .3 1-.1 1 .3 1 .1 1-.5 1 .3 1-.2 1 .8 1-.4 1 .6 1 .4 1 .3 1-.1 1 .5 1 .4 1 .2 1 .4 1 .3 1 .1 1 .2 1 .6 1 .3 1 .1 1 .5 1 .5 1 .4 1-.9 1 1 1-.1 1 .5 1-.1 1-.1 1 .8 1 .6 1-.1 1 0 1-.3 1 .1 1-.1 1 .8 1 .1 1-.1 1 .3 1-.2 1-2.2 1 .6 1-.2 1 .6 1 1.1 1 .4 1-.1 1 .2 1-.2 1-.1 1 1 1-.2 1-.3 1-.1 1-.4 1 .4 1-.3 1-.2 1 .6 1-.1 1-.1 1-.2 1-.3 1 .9 1-.3 1 .1 1 0 1-.2 1-.2 1 .5 1-.1 1 .3 1-.3 1 .3 1-.4 1-.2 1 .1 1 .2 1 .2 1 .6 1-.4 1-.5 1 .7 1-1 1 .3 1 .1 1 .2 1 .1 1-.2 1-.2 1 .5 1 0 1-.3 1-.5 1 .8 1-.3 1-.1 1 .4 1-.2 1 .4 1-.2 1-.1 1-.3 1-.2 1 .4 1 .1 1-.7 1 .2 1 .4 1-.2 1 .5 1-.9 1 1 1-.5 1 .1 1-.1 1-.1 1 .1 1 .1 1 .4 1-.9 1 .8 1-.5 1 .5 1-.3 1 2.1 1-.1 1-.5 1-.3 1-1.2 1-.1 1-.1 1 .3 1 .1 1-.2 1 .1 1 .1 1 0 1-.6 1 .7 1-.7 1-.3 1 1.1 1-.5 1 .3 1-.6 1 .6 1 0 1-.8 1 1.3 1-1.2 1 .9 1-.3 1-.2 1 .2 1-2.2 1 .4 1 1.3 1 .5 1-.3 1 .3 1-.6 1 .6 1-.4 1 .5 1 .2 1-.2 1 0 1-.2 1 .1 1 0 1-.2 1 .4 1-.2 1-.3 1 .1 1-.2 1 .8 1-2.6 1 .2 1 1.8 1 .3 1-.4 1 .1 1-.3 1 1.3 1-3.1 1 .8 1-.7 1 .2 1 2.1 1 .2 1-.1 1-.1 1 .1 1 0 1-.4 1-.2 1 .5 1 .1 1 .1 1-.6 1-2.5 1 0 1 .4 1 2.6 1-.2 1 .2 1 .4 1-.9 1 .9 1 1.5 1-.2 1 .1 1-.3 1-2.8 1 1.3 1-.3 1 .2 1-.2 1 .2 1 .6 1-1.6 1 1.2 1-.7 1 .1 1 .4 1-.6 1 .7 1-.1 1 0 1 .4 1-.3 1-.6 1 .5 1-.2 1 .1 1 0 1 .8 1-.9 1 .1 1-.3 1 2.8 1 .3 1-.7 1-1.4 1-1.3 1 .5 1 .4 1-.3 1-.3 1 .2 1 0 1 .3 1 .1 1 0 1-.6 1 .4 1-.2 1-.1 1 0 1 .2 1-.3 1 .8 1-1.1 1 1 1-.4 1-.1 1-.2 1-.1 1 0 1 .5 1-.1 1 0 1-.1 1 .4 1-.4 1 .2 1 .2 1-.2 1-.1 1 .1 1-.6 1 .3 1 .2 1 .1 1-.8 1 .7 1 .1 1-.1 1-.1 1 .3 1-.4 1 .2 1 0 1-.1 1-.2 1 .4 1 .8 1-.9 1 2.7 1 0 1-.4 1-2.5 1 .5 1-.5 1-.1 1-.2 1 .6 1 0 1 .1 1-.7 1 .4 1 .2 1 .5 1-1.3 1 .6 1 .2 1-.3 1 .1 1-.3 1 0 1-.1 1 0 1 .3 1 .1 1 0 1 .2 1-.1 1 .1 1 0 1-.2 1-.6 1 0 1 .5 1-.1 1-.2 1 .6 1-.3 1 .1 1-.5 1 .7 1-.1 1-.8 1 .5 1 0 1-.1 1-.2 1-.2 1 .3 1-.1 1 0 1-.8 1-.2 1 .4 1 .1 1-.3 1 .2 1-.4 1-.5 1-.1 1 .3 1-.6 1-.2 1-1 1 .3 1-1 1-.2 1-1 1-1.1 1-1.3 1-1.8 1-2.2 1-3.7 1-5 1-8 1-12 1-17 1-20.6 1-17.5 1-3.8 1 8.5 1 9.4 1 7 1 6 1 9.1 1 14.1 1 12.2 1 6.3 1 6.3 1 4.9 1 5.8 1 1.5 1 1.6 1 1.3 1 .4 1 .5 1 .9 1 .2 1 .6 1 .4 1-2 1-.3 1-.3 1 3.8 1-.3 1 .5 1 0 1-.2 1 .2 1 .4 1 .3 1-.1 1-1 1 1.1 1 .3 1-.5 1 .2 1 .1 1 0 1-.4 1 .2 1 0 1 0 1 .2 1-.3 1 .5 1 .2 1-.6 1 .7 1-.2 1 .3 1-.7 1 .3 1-.2 1-.2 1 .6 1-.8 1 .7 1-.5 1 .4 1 .1 1 .1 1 0 1 0 1 .1 1-.3 1-.8 1 .5 1 .4 1 .1 1-.2 1 .3 1-.3 1 0 1-.1 1 .4 1-.6 1 .6 1-.7 1 0 1-.3 1 .1 1-.1 1-.1 1 0 1-.4 1-.5 1 .3 1-.8 1-.3 1-.4 1-2.3 1-2.4 1-1.8 1-2.5 1-3.9 1-2.2 1-.9 1-.4 1 1.7 1 .4 1 2.2 1 1 1 2.4 1 1.9 1 2.2 1 2.3 1 1 1 1.4 1 .7 1 0 1 1.1 1 .2 1 .7 1 .1 1-.4 1 .2 1 .3 1-.4 1 .1 1-.1 1 .3 1-.4 1 1 1-.6 1 0 1 .1 1-.5 1 0 1 .8 1-.2 1-.3 1-2.8 1 .5 1 3 1-.4 1 .4 1-.2 1 .1 1-.3 1 .2 1 .2 1-.6 1-.1 1 .6 1 .3 1-1 1 .6 1-.3 1 .8 1-.7 1 .2 1 .3 1-.5 1-.2 1-.1 1 .2 1 .3 1 .4 1-.2 1-.1 1-.1 1-.2 1-1.7 1-.9 1 .4 1 2.6 1-.3 1 .3 1-.2 1 .1 1-.2 1 .2 1-.4 1 .4 1 .2 1 .1 1-.9 1 1.1 1-.7 1 .4 1-.4 1 .5 1-.3 1 .2 1-.8 1 .4 1 .1 1-.3 1 .3 1-.7 1 1 1 0 1-.2 1-.3 1 .1 1 .1 1-.7 1 .4 1-.5 1 .1 1 .2 1-.4 1 .5 1-.6 1 0 1-.7 1 .3 1-1.3 1-1.1 1-1.2 1-1.8 1-1.9 1-1.8 1-1.1 1-.3 1 .7 1 .2 1 1.8 1 .5 1 .7 1 1.1 1 1.5 1 1.2 1 1.3 1 .7 1 .3 1 .3 1 .2 1 .9 1-.5 1 .4 1-.8 1 .1 1-.4 1-.5 1-1.2 1-.8 1-.5 1 0 1-.2 1 1.4 1 .9 1 1.2 1 0 1 .9 1 .2 1-.4 1 .1 1 .2 1 .5 1 0 1-.2 1 .4 1-.8 1 .3 1 .4 1-.1 1 .6 1-.7 1-.5 1 1 1 0 1-.4 1 0 1-1 1 .6 1 .4 1-.4 1 .6 1 2.2 1-.1 1-.3 1-1.9 1 .1 1-.3 1 1.1 1-1.2 1-.3 1 .4 1 .2 1-.2 1 .4 1-.9 1 .2 1 .6 1-.9 1 .8 1 .1 1-.2 1 .1 1-.1 1-2.2 1 .1 1 1.4 1 1.2 1-.8 1-.1 1 .2 1 .3 1-.6 1 .2 1 1.2 1-1.1 1-.1 1 .5 1-.6 1 .3 1 0 1-.4 1 0 1 .4 1 .1 1-1 1 .8 1 .2 1-.5 1-.1 1 .2 1-.1 1-.2 1-.1 1 .1 1 0 1 .2 1-.5 1-.4 1 .2 1-.2 1 2.1 1-.3 1-3.3 1 .1 1-1 1-1.5 1-1.1 1-1.9 1-2.2 1-3.5 1-1.7 1-2.6 1-2.1 1-1.1 1 1.5 1 1 1 2.2 1 1.1 1 1.2 1 1.4 1 2.1 1 1.7 1 2.3 1 1.3 1 1.2 1 1 1 .6 1 .2 1 1 1 .6 1-.7 1 .1 1 .6 1-.2 1 .6 1 0 1 .4 1 2.3 1 .2 1-3 1 .5 1 .5 1-.2 1 .3 1-.7 1 .5 1-.5 1 .5 1-.4 1-.2 1 .6 1-.1 1-.2 1 .3 1 .3 1 .3 1-.6 1 0 1-.3 1 0 1-.1 1 .1 1 0 1 .7 1-.2 1-.4 1 .4 1-.3 1 .3 1-.4 1 .1 1 .3 1-.4 1 .2 1-.3 1 0 1 .2 1-.5 1 .7 1-.3 1-.3 1-.2 1 3 1-.4 1 .1 1-2.6 1 .7 1-.1 1-.1 1-1 1 .9 1 0 1-2.9 1 .5 1-.2 1 2.4 1 .5 1 0 1-.6 1-.4 1 .7 1-.8 1 0 1-.2 1 .5 1-.2 1-.1 1 .1 1-.2 1 0 1-.7 1-.5 1 .2 1-.9 1-.1 1-1.6 1-1.3 1-1.8 1-1.4 1-2.9 1-2.1 1-1.7 1-.7 1-.6 1 1.7 1 .9 1 .6 1 1 1 1.3 1 .5 1 2 1 1.1 1 1.9 1 1 1 1 1 .3 1 1.1 1-.2 1 .5 1 0 1-.3 1 .1 1 .1 1-.2 1 .4 1-.1 1-.3 1-.6 1-.8 1-.6 1-1.2 1-1.4 1-2.6 1-1.7 1-2.7 1-1.6 1-1 1 0 1 1.1 1 1.6 1 1.3 1 .2 1 .7 1 1.4 1 1.7 1 2.1 1 .6 1 .9 1 1.7 1 .3 1 1.2 1 .4 1 .2 1-.2 1 .8 1-.4 1 .7 1-.3 1-.1 1 .4 1-.2 1 .3 1 .4 1-.6 1 .4 1-.3 1 .4 1 .1 1 .4 1-.3 1 .3 1 0 1-.4 1 .1 1 .5 1-.8 1 .2 1 .6 1-.8 1 .6 1-.4 1 0 1-.3 1 .6 1-.3 1 .5 1-.4 1 .3 1-.3 1 .5 1-.3 1-.1 1 0 1 0 1-.1 1 .1 1 .5 1-.3 1-.3 1-.2 1 1 1-.4 1-.2 1 0 1-.4 1 .4 1 .3 1-1 1 .7 1 0 1-.6 1 .7 1 .2 1-.4 1 .6 1-.9 1 .7 1-.3 1 .5 1-1.1 1 .8 1 .3 1-.1 1 0 1-.1 1-.1 1 .2 1 .1 1-1.2 1 .9 1 .1 1 .2 1-.5 1 .5 1-.3 1 .2 1 .3 1-.7 1 .3 1-.6 1 .6 1-.1 1 .2 1 0 1-.7 1 .5 1-.1 1-.1 1 .6 1 0 1-.4 1 .4 1-.3 1 .1 1 .2 1-.7 1-.1 1 .4 1-.7 1 .5 1-.1 1 .6 1-.4 1-.3 1 .3 1 0 1 0 1 .1 1-.7 1 .7 1 .1 1-.4 1 .1 1-.2 1 .6 1-.4 1 0 1 .3 1-.2 1 0 1-.1 1 .3 1-.1 1 .6 1-.9 1 .2 1-.4 1 .4 1 0 1-.1 1 .5 1-.3 1-.3 1-.1 1 .2 1 .1 1 .4 1 .2 1-1.2 1 .8 1-.3 1-.4 1-.2 1 1.1 1-.4 1-.1 1-.2 1 .1 1 .3 1-.5 1 .2 1-.4 1-.4 1-.1 1 .8 1-.6 1-.1 1-.2 1-.4 1-.4 1-1.4 1-.4 1-.9 1-1.9 1-.8 1-1.9 1-2 1-.2 1-.3 1 .4 1 .2 1 1.3 1 0 1 .7 1 .3 1 1.2 1 1.5 1 .3 1 1.2 1 1 1 .7 1 .6 1 .9 1 .1 1 1.5 1-1 1-.4 1 .9 1-.4 1 .1 1 .5 1 0 1 .3 1-.3 1-.2 1 0 1 0 1 .2 1-.1 1 .3 1 0 1 .5 1-.5 1-.2 1 .3 1 0 1-.2 1 0 1 .2 1-.2 1 .1 1 .3 1-.5 1 .4 1-.9 1 .9 1 2.2 1 .2 1-.6 1-1.6 1-.5 1 0 1-.1 1 .3 1-.2 1 .4 1-.1 1-.1 1 .7 1-1 1 .8 1-.4 1 0 1 0 1-.3 1-.3 1 .7 1 0 1-.2 1-.3 1 .7 1-.5 1-.1 1 .1 1 .4 1-.2 1 .1 1-.3 1-.7 1 .8 1 .1 1-.2 1 .4 1-.5 1 .7 1-.7 1 .1 1-.4 1 .2 1 .1 1 1 1-.5 1-.2 1 .4 1-.7 1 .2 1-.3 1 .6 1-.1 1 .3 1 0 1-.3 1 .4 1-.6 1 .1 1 3.2 1-.2 1-.1 1-.1 1-3 1 .4 1-.2 1 0 1 .3 1-.6 1 .3 1 .1 1 .2 1-.7 1 .1 1 0 1 .3 1-.2 1 .3 1 .2 1 2.4 1 .2 1-.7 1 .2 1-2 1-.1 1 .1 1-.1 1 .2 1-.5 1 0 1-.2 1 .2 1 .3 1-.2 1-.2 1 .8 1-.7" fill="none" stroke="#2eac6c" stroke-width="3.7" stroke-linejoin="round"/>
<path d="M724.0,915.2 L724.0,913.8 L725.0,877.9 L726.0,838.1 L727.0,817.0 L728.0,823.9 L729.0,847.9 L730.0,882.4 L731.0,915.5 L731.0,916.9 L727.5,903.2 Z" fill="#2eac6c"/>
<path d="M976.0,902.0 L976.0,900.6 L977.0,862.9 L978.0,827.7 L979.0,813.4 L980.0,822.6 L981.0,842.0 L982.0,868.7 L983.0,899.4 L983.0,900.8 L979.5,901.9 Z" fill="#2eac6c"/>
<path d="M1109.0,972.6 L1109.0,971.2 L1110.0,962.1 L1111.0,949.8 L1112.0,938.6 L1113.0,934.5 L1114.0,937.5 L1115.0,943.5 L1116.0,950.4 L1117.0,960.0 L1118.0,969.1 L1118.0,970.5 L1113.5,964.9 Z" fill="#2eac6c"/>
<path d="M1582.0,956.8 L1582.0,955.4 L1583.0,938.4 L1584.0,917.8 L1585.0,900.3 L1586.0,896.5 L1587.0,905.0 L1588.0,914.4 L1589.0,921.4 L1590.0,927.4 L1591.0,936.5 L1592.0,950.6 L1592.0,952.0 L1587.0,945.0 Z" fill="#2eac6c"/>
<path d="M157,1377.8l1 0 1 .1 1-.1 1 .8 1-1.8 1 .9 1-.1 1 .6 1-.9 1 .8 1-.5 1 .1 1 .2 1-.8 1 .4 1 1 1-1.5 1 1 1-.2 1-.2 1-.3 1 .6 1-.2 1-.5 1 .7 1-.3 1 .2 1 0 1 .3 1 0 1-.4 1 .6 1-.8 1 0 1 .3 1 0 1-.2 1 .4 1-.2 1 .1 1-.1 1-.3 1 .2 1 0 1-.1 1 3.3 1-.5 1-.4 1-1.8 1 0 1-.3 1 .5 1-1 1 .7 1-.3 1-.1 1 .4 1 0 1-.2 1 .2 1-.6 1 .9 1-.6 1 .2 1-.4 1-.1 1 .1 1 .6 1-.5 1 .1 1-.3 1-.1 1 .3 1 .6 1-.5 1 0 1-.4 1 .8 1-.5 1 .2 1-.1 1-.1 1 .3 1-.3 1 .1 1 .1 1-.2 1 .5 1 .2 1-.3 1-.4 1 .4 1 .2 1 .3 1-.7 1 .2 1-.1 1-.6 1-.3 1 .7 1 0 1 1.6 1 .4 1 0 1-.4 1-1.4 1-.4 1 .7 1 .3 1-.3 1-.5 1 .2 1 .4 1-.7 1-.3 1 .3 1 .3 1 .4 1 0 1-1.1 1 .3 1 .3 1 .2 1-.5 1-.2 1 .1 1 0 1 .2 1 0 1 .2 1-.3 1 0 1 .6 1-.2 1 .4 1 0 1-.3 1-.2 1 .3 1-.2 1 .5 1-1 1 .4 1-.5 1 .4 1-.3 1 0 1 .5 1 .2 1-.6 1 .1 1-.2 1-.2 1-1 1-.4 1-.4 1 .2 1 2.2 1 0 1 .1 1-.4 1 .4 1-.2 1 .8 1-.9 1 .1 1 .1 1-.4 1 .5 1-.2 1 .3 1 .6 1-.9 1 0 1 .1 1 .6 1-.8 1 .3 1-.6 1 1 1 .2 1-.6 1-.4 1-.2 1 1.1 1-.6 1-.4 1 .6 1-.2 1 .3 1 .1 1-.8 1 .5 1-.4 1-.1 1 .4 1 .2 1 0 1-.4 1-.8 1 1.3 1-.1 1 .1 1-.8 1 .3 1 .2 1 .2 1-.1 1 .1 1-.1 1 .1 1-.2 1-.4 1 1 1-.5 1 .5 1 .1 1-.8 1 .5 1-1.1 1 .6 1 .7 1 1.3 1 .2 1 .4 1 0 1-2.8 1 .6 1-.1 1-.4 1 .3 1 .2 1-.3 1 .3 1-.5 1 1.1 1-.7 1 .2 1-.2 1 0 1-2.2 1-.2 1 .1 1 2.4 1-.4 1 .1 1-.1 1 .2 1-.1 1-.3 1 .3 1 .3 1-.3 1 .3 1 0 1-1.9 1-.2 1 .1 1 1.8 1-.1 1 .1 1-.5 1 .9 1-.3 1-.3 1 .4 1 .2 1-.1 1 .3 1-1.1 1 .8 1-.5 1-.1 1 .4 1 .4 1-.3 1 0 1-.8 1 .5 1 .4 1-.4 1-.2 1 .1 1 .3 1 .2 1-.4 1 .1 1-.1 1 0 1 .3 1-.3 1 .7 1-.8 1 .3 1 .2 1-.5 1 .3 1 0 1 .5 1-.4 1-.6 1 .8 1 .3 1-.9 1 .7 1 .2 1-.6 1 .5 1-.6 1 0 1 .5 1-.4 1 .1 1 .1 1-.2 1-3.3 1 .5 1 0 1 0 1 2 1 .4 1 .1 1 .2 1 .8 1-.3 1-.2 1-.2 1-.1 1 .6 1-.7 1 0 1-.5 1 .4 1 .4 1 0 1-.2 1 .6 1-.5 1-.4 1 .3 1 .2 1 0 1 .2 1-.5 1-.1 1 .2 1 .1 1 0 1 .4 1-.9 1 .3 1 .1 1 .1 1-2.2 1 .4 1 2.2 1-.5 1-.5 1 .6 1-.4 1 .8 1-.4 1 .1 1 .1 1-.8 1 .6 1-.5 1 .4 1 .1 1 .5 1-.8 1 .1 1 .2 1 .3 1-.5 1 0 1 .3 1-.2 1 0 1 .1 1 .2 1-.1 1 0 1 .2 1-.1 1-.5 1 0 1 .2 1 .2 1-.1 1-.2 1 .2 1-.5 1 .5 1-.1 1 .1 1-.4 1 .3 1 .6 1-1 1 .5 1 0 1 0 1-.2 1 0 1 .1 1 .3 1 .1 1 .2 1 0 1-.4 1-.6 1 1 1-.7 1-.1 1 .4 1 .4 1-.6 1-.1 1-.3 1 .4 1-.2 1 1.1 1-.5 1-.1 1 .2 1-.6 1-2.4 1-.4 1 3.3 1-.5 1-.5 1 .7 1-.1 1 0 1 0 1 .3 1-.3 1-.3 1 0 1 .3 1 .6 1-.1 1-.4 1 .5 1-.6 1-.2 1 .4 1 0 1-.2 1 0 1-.1 1 .2 1-1 1 1 1-.6 1 1 1-.7 1 .2 1-.4 1-.2 1-.1 1 .4 1-.6 1 0 1-.2 1-.8 1 .1 1-.7 1-.8 1-.2 1-.2 1-.7 1 1 1-.8 1 .3 1 .2 1 .5 1 .6 1-.6 1 .2 1 .1 1 0 1 .1 1-.5 1-.3 1-.2 1-.1 1-.2 1 .2 1 1 1-.1 1 1.3 1-.2 1-.2 1 .8 1 .4 1 .1 1 .6 1-.5 1 .5 1-.1 1 .2 1-.2 1-.2 1 .9 1-.8 1 .1 1-.2 1-.5 1 .3 1 .7 1-.3 1 0 1 .3 1-.3 1-.2 1 .2 1 .3 1-.6 1 .5 1 .1 1-.4 1 0 1 .1 1-.6 1 .4 1 0 1-.2 1-.5 1 .6 1 .2 1-.3 1 .1 1-.2 1-.2 1 .3 1-.2 1-.3 1-.2 1 .1 1-.1 1-.4 1-2.7 1-.8 1 0 1 3 1-.4 1-.2 1-.1 1-1.3 1-.3 1-.4 1-.3 1-.6 1-.7 1-1.7 1-1.3 1-4.2 1-2.4 1-.8 1-4.8 1-6.1 1-8.7 1-11.6 1-14.6 1-16.3 1-14.9 1-8 1 1 1 9.7 1 12 1 15.5 1 14.3 1 13.6 1 8.8 1 5.9 1 4.5 1 2.9 1 3 1 1.5 1 1.8 1 .1 1 2 1 .5 1 .4 1-.1 1 1 1 .3 1-.3 1 .7 1 .7 1 .2 1-2.4 1 .1 1 2.4 1 .5 1-.5 1 1 1 .1 1 0 1-.5 1 .4 1 .2 1 0 1-.3 1 .5 1 0 1 0 1-.1 1 .1 1-.2 1 .1 1-.7 1 .2 1 .8 1 .6 1-.3 1-1.2 1 1 1 .3 1 .1 1 .1 1 .2 1-1.2 1 .7 1 .2 1-.2 1 .5 1-.4 1 .2 1-.7 1-.4 1 .7 1 .2 1 .3 1-.8 1 .4 1 .3 1-.3 1-.3 1 .2 1 .6 1-.4 1-.2 1 .1 1-.1 1-.5 1-1.9 1 .7 1-.7 1 2.5 1 .2 1-.4 1-.1 1 .5 1 .4 1-.7 1 .2 1 .3 1-.4 1 .5 1-.6 1-.5 1 .9 1 .3 1-.3 1 .2 1-.4 1-.1 1-.5 1 .4 1 .4 1-.8 1 .9 1-.7 1 .3 1 .7 1-1 1 .1 1 .2 1 .1 1 .1 1 .1 1-.4 1 .4 1-.4 1 .1 1 .2 1 .1 1 .4 1-.4 1-.2 1 0 1 0 1 .4 1 .1 1 .2 1-.4 1 .3 1-.7 1-1.8 1 .2 1 .1 1-.6 1 1.8 1 .1 1 .6 1-.4 1 .3 1 0 1-.1 1-.2 1-.4 1 .5 1 .3 1-.6 1 .7 1-.5 1 .4 1 .1 1-.6 1 .5 1-.3 1 .3 1-.3 1-.2 1 .4 1-.3 1 .5 1-.3 1-.7 1 .6 1-.3 1 .8 1-.4 1 .4 1-.3 1-.5 1 .2 1 .1 1-.4 1 .2 1 .1 1-.1 1 0 1 .3 1 .1 1-.3 1-.1 1 .2 1 2.9 1 .4 1-.6 1-2.7 1-.1 1 0 1 0 1 .2 1-.6 1 .2 1 .5 1-.6 1 .4 1-.4 1 .3 1-.5 1 .5 1-.4 1 .4 1-.5 1 .1 1 .1 1-.2 1-.5 1 .9 1-.2 1-.1 1-.1 1-3.5 1 .3 1 0 1 3.3 1-.2 1-.6 1 .1 1 .3 1 .5 1-.3 1-.6 1 0 1-.3 1-.4 1-.7 1 1.1 1-.2 1 .2 1-.9 1-.1 1-.4 1-.6 1-.5 1-.1 1-.3 1-1 1-.2 1-1.2 1-1.3 1-1.5 1-2.3 1-1.7 1-3 1-4.2 1-5.2 1-7.8 1-8.9 1-12.5 1-14.3 1-15.2 1-10.8 1-4 1 2.3 1 8.8 1 12.7 1 12.8 1 12.6 1 11.1 1 9 1 6.3 1 5.4 1 3 1 2.7 1 2.3 1 1.4 1 1.2 1 1.2 1 .6 1 .9 1 .7 1 .4 1 .3 1 .1 1 .5 1 .4 1 1 1 0 1-.3 1 .5 1 0 1-.7 1-2 1 .7 1 .7 1 1.8 1-.2 1 .8 1-.2 1 .1 1-.7 1 1.2 1-.3 1-.1 1 0 1-.1 1-.1 1-.3 1 .3 1 1.2 1-1 1 .5 1 0 1-.4 1 .4 1-.2 1 .6 1-.7 1 .4 1-.2 1-.1 1-.2 1 .7 1-.6 1 .4 1-.5 1 .8 1-.2 1-.5 1 .4 1-.5 1 .6 1-.1 1 .3 1-.5 1 .1 1-.2 1 .2 1 .2 1 0 1-.6 1 1 1-.1 1-.6 1 0 1-.3 1 .4 1 .3 1-.1 1-2 1 0 1 1.4 1 .8 1-.8 1 .4 1 .1 1 .5 1-1.3 1 1.4 1-.9 1-.1 1 .3 1 .2 1-.5 1-.2 1 .2 1-.2 1-.4 1 .6 1-.4 1 .5 1-.1 1-.4 1-.1 1 .1 1 .5 1-1.1 1 .1 1 .1 1-.4 1-.3 1 0 1-.1 1-.7 1-.8 1-.8 1-.7 1-.9 1-2.1 1-2 1-3 1-4.3 1-4.6 1-5.1 1-4.2 1-2.5 1 .4 1 1.6 1 3.5 1 4.8 1 3.6 1 4.7 1 3.7 1 1.7 1 2.7 1 1.3 1 1.2 1 .6 1 .7 1 .7 1 .2 1 .6 1-.2 1 .4 1 .2 1-.4 1 .4 1 .1 1 0 1 .4 1-.2 1-.5 1 .5 1-.1 1-.4 1-.6 1-1.7 1-1 1-2.6 1-1.2 1 0 1 1 1 1.7 1 .9 1 .8 1 1.7 1 .6 1 0 1 .5 1 .2 1-.5 1 .9 1-.1 1-.3 1 0 1-.1 1-.6 1 .2 1 .5 1-.7 1 .9 1-1.4 1 .1 1 .3 1-.4 1-.6 1-.1 1-.7 1-.3 1 0 1-.8 1 0 1-3.1 1 .1 1 2.4 1-.6 1-.3 1-.6 1-.1 1 .1 1-1 1-.3 1-.2 1-.5 1-.6 1 .3 1-.6 1-.4 1-.4 1 .3 1 .4 1-.4 1 0 1 .1 1-.4 1 0 1 .7 1 .2 1-.6 1 .3 1 .4 1 .4 1 .3 1 .6 1 .7 1-.4 1 1.1 1-.7 1 .7 1 .1 1 .7 1 .2 1 .4 1 .8 1 0 1 .3 1 .3 1 .3 1 .1 1 .5 1 .3 1 .9 1-.1 1-.2 1 2.5 1 .1 1 .2 1-2.6 1 .7 1 .7 1-.2 1 .4 1 0 1 .3 1-.3 1 .4 1 .1 1-.3 1 .2 1-.3 1 .7 1-.3 1 .3 1-.3 1-.1 1 .2 1 .3 1-.2 1 .5 1-.3 1 0 1 .1 1-.6 1 .1 1 .9 1-1 1 .5 1-.5 1 .1 1 .7 1-.3 1 .3 1 .3 1-.6 1 .3 1-.3 1 .3 1 .3 1-.5 1-.1 1-2.1 1 .1 1-.5 1 2.5 1 .5 1-.1 1-.3 1-.1 1 .1 1 0 1 .2 1-.1 1 0 1-.2 1 .3 1-.1 1-.1 1-.3 1 .8 1-.6 1-.2 1 .4 1 .3 1 0 1-.2 1-2.7 1 .3 1 2.5 1 0 1-.4 1-.2 1 .3 1 .1 1-.2 1 .2 1-.3 1 .2 1 .1 1 .1 1 .6 1-.5 1-.4 1 .5 1-.5 1 .8 1-.4 1 0 1 .1 1-.4 1 .2 1-.1 1 .1 1-.3 1 .6 1-.1 1-.1 1-.3 1 0 1 .6 1-.1 1-.3 1-.1 1-.1 1 .1 1-.2 1 .8 1-.8 1 .4 1 .1 1-.1 1 0 1-.2 1 .6 1-.7 1 .1 1 .5 1-.6 1 .4 1 .4 1-1.2 1 1 1 .4 1-1 1 .4 1 0 1-.3 1-.2 1 0 1 .2 1-.1 1 .3 1-.3 1 .1 1 .8 1-1.4 1 .8 1-.3 1 .1 1 0 1 .6 1-.1 1-.5 1 .4 1 .2 1 0 1 0 1-.9 1 .1 1 1 1-.3 1-.6 1 0 1 .3 1-.2 1 .4 1 .2 1-.7 1 0 1 .5 1-.3 1 .1 1 .1 1-.1 1 0 1-.1 1 0 1 .1 1 .2 1 .3 1-.9 1 .6 1-.1 1-.2 1 .2 1-.2 1-.2 1 .4 1 .6 1-.7 1-.1 1 2.3 1 1 1-1.2 1-1.9 1 .2 1-.5 1 0 1 .1 1-.2 1-.2 1 0 1 .5 1 .2 1-.4 1 .7 1-.1 1-.1 1-.6 1 .1 1 .4 1 .1 1 0 1-.1 1-.5 1 .1 1-.1 1-1.8 1-.5 1 .1 1 2.8 1-.1 1 .1 1 0 1 .1 1 1.8 1-.2 1 0 1 .2 1-2.2 1 .1 1-.6 1 .4 1-.3 1 .2 1 .6 1-.5 1 .5 1-.3 1-.3 1 .2 1 .4 1-.2 1-.5 1 .4 1-.4 1 .7 1-.1 1-.3 1-.5 1 .3 1 .1 1 .2 1-.4 1-.3 1 .1 1 .7 1 .3 1-.3 1 .2 1-.6 1 0 1 .4 1 .2 1-.4 1-.1 1-.1 1 .4 1-.2 1 .2 1 2.4 1 0 1 .1 1-.5 1-1.6 1-.5 1 0 1-.5 1 .3 1 .5 1 .2 1-.6 1-.2 1 .5 1-.3 1 .1 1-.1 1 .4 1 0 1-.3 1 .2 1-.2 1 .3 1 .5 1-1 1 .8 1-1.1 1 .7 1 .1 1-.1 1 .1 1-1 1 .7 1 .1 1-.5 1 0 1-.2 1 .8 1 0 1-.2 1-.2 1 .1 1-.6 1 .9 1-.3 1-.6 1 .3 1 .8 1-.5 1-.3 1 .6 1-1.1 1 .4 1 .3 1 .2 1-.8 1 .4 1 0 1 0 1 .1 1 .5 1-.5 1-.7 1 .4 1-.2 1 .1 1 2.7 1 .5 1-.4 1-.5 1-3.6 1 .5 1-.2 1-.1 1-.8 1 .1 1-.2 1-.6 1-.5 1-.9 1-.8 1-.7 1-1.6 1-2.1 1-3.7 1-3.7 1-8.3 1-8.5 1-10.2 1-10.4 1-6.4 1-1.8 1 3.4 1 4.4 1 5.1 1 5.4 1 7.7 1 5.6 1 7.1 1 5.5 1 5.8 1 3.9 1 1.9 1 1.1 1 .6 1 1.4 1 .7 1 .4 1 .6 1 .4 1 0 1 .5 1-.6 1 .7 1 .6 1-.4 1 .1 1 .3 1-.4 1 0 1-.2 1 .2 1 .1 1 .5 1-.1 1 .4 1-.3 1-.2 1-.2 1 .1 1 .9 1-.6 1 .2 1 .2 1 .5 1-1 1 .2 1 .1 1-.7 1 .7 1 0 1-.2 1 .2 1-.1 1 0 1 0 1-2.5 1 0 1 .8 1 2.4 1-.5 1-.1 1 .2 1 .1 1-.3 1-.2 1 .7 1-.4 1 0 1 .2 1 .1 1-.1 1-.2 1 .5 1-.6 1-.4 1 .1 1 .4 1 .1 1-.4 1 3 1-.1 1-.3 1-.3 1-2.4 1-.1 1-.5 1-.5 1-2.2 1-.6 1-.8 1-.3 1 1 1-1.3 1-2.1 1-2.6 1-2.1 1-1.9 1-1.9 1 .5 1 1.9 1 .3 1 1.5 1 1.2 1 1.4 1 1.9 1 1.5 1 2.1 1 1.4 1 .7 1 .4 1 .2 1 .8 1 .2 1-.9 1 .8 1 .3 1-.3 1 .2 1-.5 1 .8 1-.2 1 .1 1-.1 1-.4 1 .1 1 .6 1 .3 1-.8 1 .6 1 .1 1-.4 1 .2 1-.7 1 .3 1 .6 1-.1 1 .2 1-.1 1-.6 1 .6 1-.4 1 .2 1-.2 1 .2 1-.2 1 .1 1 .3 1-.4 1 0 1 0 1 2.8 1 .4 1 0 1-3 1 .1 1 .3 1-.4 1 .3 1-.3 1 0 1 .5 1-1.2 1 .6 1 0 1-.5 1 .3 1 .3 1 .2 1-.1 1-.1 1 .4 1 0 1-2.4 1-.2 1 2.5 1-1.1 1 .8 1 .2 1-.1 1 .1 1-.3 1 .1 1 .5 1-1 1-.1 1 .5 1 .3 1-.4 1 .7 1-.8 1 .3 1-.1 1 .4 1-1.1 1 1 1-.1 1 0 1-.7 1 .7 1-.7 1 .3 1 0 1-.1 1 0 1-.2 1-.2 1 0 1 .2 1-.7 1-.5 1-.8 1-1.2 1-1.1 1-.4 1-2.3 1-.5 1-1.7 1 .4 1 .6 1 .5 1 1.2 1-.4 1 1.3 1 .7 1 .9 1 .9 1 .9 1-.2 1 .1 1 .4 1-.1 1-.4 1 .2 1-.3 1-.3 1-.3 1 .1 1-.4 1 .2 1 .4 1-.4 1-.3 1-.1 1-.6 1 .1 1 .1 1 .3 1-.3 1-.3 1 .1 1 .7 1-.9 1 .7 1-.2 1 2.3 1-.5 1 .4 1 .5 1-2.2 1 .4 1 .1 1-.4 1 .6 1 .7 1-.7 1 .2 1 .9 1 .6 1-.1 1-.7 1 1.1 1-.2 1 .5 1-.5 1-.2 1 .3 1 .7 1 .1 1-.3 1 .7 1-.2 1 .5 1-.9 1 0 1-.1 1 .6 1 .1 1-.3 1-1.5 1-.3 1 .3 1 1.5 1 .6 1 0 1 .1 1 .2 1-.2 1-.3 1 .6 1 2 1 .6 1-.3 1-.1 1-2.2 1 .2 1-.6 1 .1 1 .3 1-.8 1 .6 1 0 1-.4 1-.1 1 .7 1-.6 1 .2 1-.2 1-.4 1 .5 1-.1 1 .3 1-.6 1 .1 1-.1 1-2.7 1 .1 1-.5 1 3.1 1-.8 1 .4 1-.2 1 .1 1-.1 1-.8 1-1.1 1-.7 1-1.3 1-.5 1-.8 1-2.3 1-1.8 1-1.6 1 .1 1-1.1 1 .1 1 1 1 1 1-1 1 .8 1 3.1 1 1.8 1 1.2 1 .6 1 1.3 1 .6 1 .2 1 1 1-.1 1 .4 1 .7 1 0 1-.1 1 .4 1 .1 1-.7 1 .4 1 .2 1-.5 1 .3 1 .6 1-.3 1 .2 1-.2 1 .1 1-.5 1-.1 1 .6 1-.3 1-.3 1 .3 1 .1 1-.3 1 .1 1 .9 1-.4 1 0 1-.2 1 .6 1-.3 1-.3 1 0 1-.5 1 .1 1 0 1 .1 1 .7 1 0 1-.5 1-.2 1 .1 1 .8 1-.4 1 .3 1-.8 1 .2 1 .2 1 .4 1-.6 1-.3 1 .3 1 .2 1 0 1 .3 1 .2 1-.5 1 .4 1-.5 1 .6 1-.2 1 0 1-.1 1-.8 1 .4 1-.5 1 .8 1-.6 1 0 1 .4 1 .5 1-.8 1-.5 1 .5 1-.3 1-2.2 1-.3 1 .4 1 1.9 1 .5 1-1.2 1 1.1 1-.8 1-1 1-.5 1-.1 1-1.4 1-.9 1 .3 1-1.5 1-1 1-3.9 1-1.7 1 .2 1-.3 1 1.7 1-.2 1 1 1 .9 1 .7 1 1.4 1 .6 1 1.4 1 1.1 1 .8 1 1.1 1 .4 1 .4 1 .6 1-.3 1 2.3 1 .8 1-2.9 1 0 1-.3 1-.2 1 .1 1-.5 1 .2 1-.8 1-.4 1-1.2 1-1.3 1-1.2 1-1.3 1-1.1 1-1.7 1 .4 1-.5 1 .9 1 .5 1 .2 1 .9 1 .8 1 .9 1 1.4 1 1.1 1 .9 1 .2 1 1.4 1 .1 1 .8 1-.1 1 .5 1 .2 1-.5 1-.3 1 1.2 1-.2 1 .1 1-.2 1-.4 1 .4 1 0 1 .3 1 2.2 1 .4 1 .1 1-.4 1-2 1-.9 1 .6 1 0 1 0 1 0 1 .5 1 .2 1-1.1 1 .8 1-.4 1 .3 1 .2 1-.5 1 .5 1 .1 1-.1 1-.7 1 .3 1 .2 1-.2 1-3 1 .4 1 2.9 1-.7 1 .7 1 .2 1 0 1-.8 1 .5 1-.2 1 .1 1 .1 1-.7 1 0 1 2.9 1 .4 1-2.8 1-.3 1 .3 1-.1 1-.3 1 1.3 1-1.3 1 .3 1 .3 1-.3 1 .1 1 .4 1-.3 1-.5 1 .5 1-.3 1 .1 1 .3 1-.6 1 .2 1-.1 1 .4 1 .3 1-.1 1-.2 1-.2 1 .3 1 .3 1-.3 1 .1 1-.5 1 .1 1 .4 1 .2 1-.3 1 .1 1-.3 1 .7 1-.7 1-.4 1 .1 1 .3 1 .2 1 .2 1-.1 1-.4 1-.2 1 .8 1-.4 1 .1 1-.1 1 0 1-.1 1-.2 1 .2 1 .2 1 .1 1 .6 1-1.1 1 .9 1-.4 1-.2 1-.3 1 .2 1 .1 1-.1 1 .9 1-.6 1 0 1 .2 1-.1 1-.2 1-.3 1 0 1-.3 1 3.1 1 .3 1-.3 1-2.3 1-.7 1 .7 1-.7 1 .2 1 .1 1 0 1-.1 1-.2 1 .5 1-.1 1 .3 1-.6 1 0 1 .3 1-.3 1 .6 1-.4 1 .1 1 .1 1-.3 1 .4 1-.4 1 .3 1-.6 1 .3 1-.3 1 .1 1 .3 1 .4 1-1.1 1 .2 1-.4 1 0 1-.1 1-.4 1-.9 1-.2 1-1.2 1-1.2 1-1.6 1-1.2 1-.7 1-.1 1-1.1 1 .8 1 1.1 1 .5 1 .5 1 .6 1 .4 1 .4 1 .6 1 .5 1 1.4 1 .3 1 .7 1 .6 1-.5 1 .8 1-.3 1 .9 1 .5 1-.4 1-.1 1-.5 1 .5 1 .1 1 .8 1-.8 1 .2 1 0 1-.4 1 .4 1 0 1-.2 1 .4 1-.1 1-.2 1 .4 1-.2 1 .2 1-.4 1 1 1-.9 1-.6 1 .4 1 .7 1-.1 1 .2 1-.7 1 1.2 1-.6 1-.7 1 .3 1 .1 1-.1 1 .4 1-.3 1 0 1 .8 1-1 1 .2 1-.4 1 .3 1-.2 1 .3 1 .7 1-.9 1-.4 1 .3 1 .4 1-.1 1 .7 1-.9 1-.1 1 .2 1 0 1 .4 1 .5 1-1.3 1 1 1-.2 1-.7 1 .7 1 .1 1-.3 1-.1 1 .3 1 .2 1-.6 1 .2 1 .2 1-.3 1 0 1 .6 1-.2 1-.3 1 0 1-.1 1 .3 1 .2 1-.3 1-.8 1 .1 1 .6 1 .4 1-.8 1 .3 1-.4 1 .5 1 0 1 .3 1-.1 1 .1 1-.6 1-.1 1 .3 1 .2 1 .2 1-.7 1 .8 1-.5 1-2.8 1-.1 1 .4 1-.4 1 3.3 1-.3 1-.1 1 .3 1-.2 1-.5 1 .7 1 .3 1-.2 1 2.6 1 0 1 0 1-3 1 .2 1-.2 1 .4 1 0 1 .5 1-1.2 1 .2 1 .4 1-.4 1 .2 1 .4" fill="none" stroke="#f44044" stroke-width="3.7" stroke-linejoin="round"/>
<path d="M157,1379.2l1 0 1 .1 1-.1 1 .8 1-1.8 1 .9 1-.1 1 .6 1-.9 1 .8 1-.5 1 .1 1 .2 1-.8 1 .4 1 1 1-1.5 1 1 1-.2 1-.2 1-.3 1 .6 1-.2 1-.5 1 .7 1-.3 1 .2 1 0 1 .3 1 0 1-.4 1 .6 1-.8 1 0 1 .3 1 0 1-.2 1 .4 1-.2 1 .1 1-.1 1-.3 1 .2 1 0 1-.1 1 3.3 1-.5 1-.4 1-1.8 1 0 1-.3 1 .5 1-1 1 .7 1-.3 1-.1 1 .4 1 0 1-.2 1 .2 1-.6 1 .9 1-.6 1 .2 1-.4 1-.1 1 .1 1 .6 1-.5 1 .1 1-.3 1-.1 1 .3 1 .6 1-.5 1 0 1-.4 1 .8 1-.5 1 .2 1-.1 1-.1 1 .3 1-.3 1 .1 1 .1 1-.2 1 .5 1 .2 1-.3 1-.4 1 .4 1 .2 1 .3 1-.7 1 .2 1-.1 1-.6 1-.3 1 .7 1 0 1 1.6 1 .4 1 0 1-.4 1-1.4 1-.4 1 .7 1 .3 1-.3 1-.5 1 .2 1 .4 1-.7 1-.3 1 .3 1 .3 1 .4 1 0 1-1.1 1 .3 1 .3 1 .2 1-.5 1-.2 1 .1 1 0 1 .2 1 0 1 .2 1-.3 1 0 1 .6 1-.2 1 .4 1 0 1-.3 1-.2 1 .3 1-.2 1 .5 1-1 1 .4 1-.5 1 .4 1-.3 1 0 1 .5 1 .2 1-.6 1 .1 1-.2 1-.2 1-1 1-.4 1-.4 1 .2 1 2.2 1 0 1 .1 1-.4 1 .4 1-.2 1 .8 1-.9 1 .1 1 .1 1-.4 1 .5 1-.2 1 .3 1 .6 1-.9 1 0 1 .1 1 .6 1-.8 1 .3 1-.6 1 1 1 .2 1-.6 1-.4 1-.2 1 1.1 1-.6 1-.4 1 .6 1-.2 1 .3 1 .1 1-.8 1 .5 1-.4 1-.1 1 .4 1 .2 1 0 1-.4 1-.8 1 1.3 1-.1 1 .1 1-.8 1 .3 1 .2 1 .2 1-.1 1 .1 1-.1 1 .1 1-.2 1-.4 1 1 1-.5 1 .5 1 .1 1-.8 1 .5 1-1.1 1 .6 1 .7 1 1.3 1 .2 1 .4 1 0 1-2.8 1 .6 1-.1 1-.4 1 .3 1 .2 1-.3 1 .3 1-.5 1 1.1 1-.7 1 .2 1-.2 1 0 1-2.2 1-.2 1 .1 1 2.4 1-.4 1 .1 1-.1 1 .2 1-.1 1-.3 1 .3 1 .3 1-.3 1 .3 1 0 1-1.9 1-.2 1 .1 1 1.8 1-.1 1 .1 1-.5 1 .9 1-.3 1-.3 1 .4 1 .2 1-.1 1 .3 1-1.1 1 .8 1-.5 1-.1 1 .4 1 .4 1-.3 1 0 1-.8 1 .5 1 .4 1-.4 1-.2 1 .1 1 .3 1 .2 1-.4 1 .1 1-.1 1 0 1 .3 1-.3 1 .7 1-.8 1 .3 1 .2 1-.5 1 .3 1 0 1 .5 1-.4 1-.6 1 .8 1 .3 1-.9 1 .7 1 .2 1-.6 1 .5 1-.6 1 0 1 .5 1-.4 1 .1 1 .1 1-.2 1-3.3 1 .5 1 0 1 0 1 2 1 .4 1 .1 1 .2 1 .8 1-.3 1-.2 1-.2 1-.1 1 .6 1-.7 1 0 1-.5 1 .4 1 .4 1 0 1-.2 1 .6 1-.5 1-.4 1 .3 1 .2 1 0 1 .2 1-.5 1-.1 1 .2 1 .1 1 0 1 .4 1-.9 1 .3 1 .1 1 .1 1-2.2 1 .4 1 2.2 1-.5 1-.5 1 .6 1-.4 1 .8 1-.4 1 .1 1 .1 1-.8 1 .6 1-.5 1 .4 1 .1 1 .5 1-.8 1 .1 1 .2 1 .3 1-.5 1 0 1 .3 1-.2 1 0 1 .1 1 .2 1-.1 1 0 1 .2 1-.1 1-.5 1 0 1 .2 1 .2 1-.1 1-.2 1 .2 1-.5 1 .5 1-.1 1 .1 1-.4 1 .3 1 .6 1-1 1 .5 1 0 1 0 1-.2 1 0 1 .1 1 .3 1 .1 1 .2 1 0 1-.4 1-.6 1 1 1-.7 1-.1 1 .4 1 .4 1-.6 1-.1 1-.3 1 .4 1-.2 1 1.1 1-.5 1-.1 1 .2 1-.6 1-2.4 1-.4 1 3.3 1-.5 1-.5 1 .7 1-.1 1 0 1 0 1 .3 1-.3 1-.3 1 0 1 .3 1 .6 1-.1 1-.4 1 .5 1-.6 1-.2 1 .4 1 0 1-.2 1 0 1-.1 1 .2 1-1 1 1 1-.6 1 1 1-.7 1 .2 1-.4 1-.2 1-.1 1 .4 1-.6 1 0 1-.2 1-.8 1 .1 1-.7 1-.8 1-.2 1-.2 1-.7 1 1 1-.8 1 .3 1 .2 1 .5 1 .6 1-.6 1 .2 1 .1 1 0 1 .1 1-.5 1-.3 1-.2 1-.1 1-.2 1 .2 1 1 1-.1 1 1.3 1-.2 1-.2 1 .8 1 .4 1 .1 1 .6 1-.5 1 .5 1-.1 1 .2 1-.2 1-.2 1 .9 1-.8 1 .1 1-.2 1-.5 1 .3 1 .7 1-.3 1 0 1 .3 1-.3 1-.2 1 .2 1 .3 1-.6 1 .5 1 .1 1-.4 1 0 1 .1 1-.6 1 .4 1 0 1-.2 1-.5 1 .6 1 .2 1-.3 1 .1 1-.2 1-.2 1 .3 1-.2 1-.3 1-.2 1 .1 1-.1 1-.4 1-2.7 1-.8 1 0 1 3 1-.4 1-.2 1-.1 1-1.3 1-.3 1-.4 1-.3 1-.6 1-.7 1-1.7 1-1.3 1-4.2 1-2.4 1-.8 1-4.8 1-6.1 1-8.7 1-11.6 1-14.6 1-16.3 1-14.9 1-8 1 1 1 9.7 1 12 1 15.5 1 14.3 1 13.6 1 8.8 1 5.9 1 4.5 1 2.9 1 3 1 1.5 1 1.8 1 .1 1 2 1 .5 1 .4 1-.1 1 1 1 .3 1-.3 1 .7 1 .7 1 .2 1-2.4 1 .1 1 2.4 1 .5 1-.5 1 1 1 .1 1 0 1-.5 1 .4 1 .2 1 0 1-.3 1 .5 1 0 1 0 1-.1 1 .1 1-.2 1 .1 1-.7 1 .2 1 .8 1 .6 1-.3 1-1.2 1 1 1 .3 1 .1 1 .1 1 .2 1-1.2 1 .7 1 .2 1-.2 1 .5 1-.4 1 .2 1-.7 1-.4 1 .7 1 .2 1 .3 1-.8 1 .4 1 .3 1-.3 1-.3 1 .2 1 .6 1-.4 1-.2 1 .1 1-.1 1-.5 1-1.9 1 .7 1-.7 1 2.5 1 .2 1-.4 1-.1 1 .5 1 .4 1-.7 1 .2 1 .3 1-.4 1 .5 1-.6 1-.5 1 .9 1 .3 1-.3 1 .2 1-.4 1-.1 1-.5 1 .4 1 .4 1-.8 1 .9 1-.7 1 .3 1 .7 1-1 1 .1 1 .2 1 .1 1 .1 1 .1 1-.4 1 .4 1-.4 1 .1 1 .2 1 .1 1 .4 1-.4 1-.2 1 0 1 0 1 .4 1 .1 1 .2 1-.4 1 .3 1-.7 1-1.8 1 .2 1 .1 1-.6 1 1.8 1 .1 1 .6 1-.4 1 .3 1 0 1-.1 1-.2 1-.4 1 .5 1 .3 1-.6 1 .7 1-.5 1 .4 1 .1 1-.6 1 .5 1-.3 1 .3 1-.3 1-.2 1 .4 1-.3 1 .5 1-.3 1-.7 1 .6 1-.3 1 .8 1-.4 1 .4 1-.3 1-.5 1 .2 1 .1 1-.4 1 .2 1 .1 1-.1 1 0 1 .3 1 .1 1-.3 1-.1 1 .2 1 2.9 1 .4 1-.6 1-2.7 1-.1 1 0 1 0 1 .2 1-.6 1 .2 1 .5 1-.6 1 .4 1-.4 1 .3 1-.5 1 .5 1-.4 1 .4 1-.5 1 .1 1 .1 1-.2 1-.5 1 .9 1-.2 1-.1 1-.1 1-3.5 1 .3 1 0 1 3.3 1-.2 1-.6 1 .1 1 .3 1 .5 1-.3 1-.6 1 0 1-.3 1-.4 1-.7 1 1.1 1-.2 1 .2 1-.9 1-.1 1-.4 1-.6 1-.5 1-.1 1-.3 1-1 1-.2 1-1.2 1-1.3 1-1.5 1-2.3 1-1.7 1-3 1-4.2 1-5.2 1-7.8 1-8.9 1-12.5 1-14.3 1-15.2 1-10.8 1-4 1 2.3 1 8.8 1 12.7 1 12.8 1 12.6 1 11.1 1 9 1 6.3 1 5.4 1 3 1 2.7 1 2.3 1 1.4 1 1.2 1 1.2 1 .6 1 .9 1 .7 1 .4 1 .3 1 .1 1 .5 1 .4 1 1 1 0 1-.3 1 .5 1 0 1-.7 1-2 1 .7 1 .7 1 1.8 1-.2 1 .8 1-.2 1 .1 1-.7 1 1.2 1-.3 1-.1 1 0 1-.1 1-.1 1-.3 1 .3 1 1.2 1-1 1 .5 1 0 1-.4 1 .4 1-.2 1 .6 1-.7 1 .4 1-.2 1-.1 1-.2 1 .7 1-.6 1 .4 1-.5 1 .8 1-.2 1-.5 1 .4 1-.5 1 .6 1-.1 1 .3 1-.5 1 .1 1-.2 1 .2 1 .2 1 0 1-.6 1 1 1-.1 1-.6 1 0 1-.3 1 .4 1 .3 1-.1 1-2 1 0 1 1.4 1 .8 1-.8 1 .4 1 .1 1 .5 1-1.3 1 1.4 1-.9 1-.1 1 .3 1 .2 1-.5 1-.2 1 .2 1-.2 1-.4 1 .6 1-.4 1 .5 1-.1 1-.4 1-.1 1 .1 1 .5 1-1.1 1 .1 1 .1 1-.4 1-.3 1 0 1-.1 1-.7 1-.8 1-.8 1-.7 1-.9 1-2.1 1-2 1-3 1-4.3 1-4.6 1-5.1 1-4.2 1-2.5 1 .4 1 1.6 1 3.5 1 4.8 1 3.6 1 4.7 1 3.7 1 1.7 1 2.7 1 1.3 1 1.2 1 .6 1 .7 1 .7 1 .2 1 .6 1-.2 1 .4 1 .2 1-.4 1 .4 1 .1 1 0 1 .4 1-.2 1-.5 1 .5 1-.1 1-.4 1-.6 1-1.7 1-1 1-2.6 1-1.2 1 0 1 1 1 1.7 1 .9 1 .8 1 1.7 1 .6 1 0 1 .5 1 .2 1-.5 1 .9 1-.1 1-.3 1 0 1-.1 1-.6 1 .2 1 .5 1-.7 1 .9 1-1.4 1 .1 1 .3 1-.4 1-.6 1-.1 1-.7 1-.3 1 0 1-.8 1 0 1-3.1 1 .1 1 2.4 1-.6 1-.3 1-.6 1-.1 1 .1 1-1 1-.3 1-.2 1-.5 1-.6 1 .3 1-.6 1-.4 1-.4 1 .3 1 .4 1-.4 1 0 1 .1 1-.4 1 0 1 .7 1 .2 1-.6 1 .3 1 .4 1 .4 1 .3 1 .6 1 .7 1-.4 1 1.1 1-.7 1 .7 1 .1 1 .7 1 .2 1 .4 1 .8 1 0 1 .3 1 .3 1 .3 1 .1 1 .5 1 .3 1 .9 1-.1 1-.2 1 2.5 1 .1 1 .2 1-2.6 1 .7 1 .7 1-.2 1 .4 1 0 1 .3 1-.3 1 .4 1 .1 1-.3 1 .2 1-.3 1 .7 1-.3 1 .3 1-.3 1-.1 1 .2 1 .3 1-.2 1 .5 1-.3 1 0 1 .1 1-.6 1 .1 1 .9 1-1 1 .5 1-.5 1 .1 1 .7 1-.3 1 .3 1 .3 1-.6 1 .3 1-.3 1 .3 1 .3 1-.5 1-.1 1-2.1 1 .1 1-.5 1 2.5 1 .5 1-.1 1-.3 1-.1 1 .1 1 0 1 .2 1-.1 1 0 1-.2 1 .3 1-.1 1-.1 1-.3 1 .8 1-.6 1-.2 1 .4 1 .3 1 0 1-.2 1-2.7 1 .3 1 2.5 1 0 1-.4 1-.2 1 .3 1 .1 1-.2 1 .2 1-.3 1 .2 1 .1 1 .1 1 .6 1-.5 1-.4 1 .5 1-.5 1 .8 1-.4 1 0 1 .1 1-.4 1 .2 1-.1 1 .1 1-.3 1 .6 1-.1 1-.1 1-.3 1 0 1 .6 1-.1 1-.3 1-.1 1-.1 1 .1 1-.2 1 .8 1-.8 1 .4 1 .1 1-.1 1 0 1-.2 1 .6 1-.7 1 .1 1 .5 1-.6 1 .4 1 .4 1-1.2 1 1 1 .4 1-1 1 .4 1 0 1-.3 1-.2 1 0 1 .2 1-.1 1 .3 1-.3 1 .1 1 .8 1-1.4 1 .8 1-.3 1 .1 1 0 1 .6 1-.1 1-.5 1 .4 1 .2 1 0 1 0 1-.9 1 .1 1 1 1-.3 1-.6 1 0 1 .3 1-.2 1 .4 1 .2 1-.7 1 0 1 .5 1-.3 1 .1 1 .1 1-.1 1 0 1-.1 1 0 1 .1 1 .2 1 .3 1-.9 1 .6 1-.1 1-.2 1 .2 1-.2 1-.2 1 .4 1 .6 1-.7 1-.1 1 2.3 1 1 1-1.2 1-1.9 1 .2 1-.5 1 0 1 .1 1-.2 1-.2 1 0 1 .5 1 .2 1-.4 1 .7 1-.1 1-.1 1-.6 1 .1 1 .4 1 .1 1 0 1-.1 1-.5 1 .1 1-.1 1-1.8 1-.5 1 .1 1 2.8 1-.1 1 .1 1 0 1 .1 1 1.8 1-.2 1 0 1 .2 1-2.2 1 .1 1-.6 1 .4 1-.3 1 .2 1 .6 1-.5 1 .5 1-.3 1-.3 1 .2 1 .4 1-.2 1-.5 1 .4 1-.4 1 .7 1-.1 1-.3 1-.5 1 .3 1 .1 1 .2 1-.4 1-.3 1 .1 1 .7 1 .3 1-.3 1 .2 1-.6 1 0 1 .4 1 .2 1-.4 1-.1 1-.1 1 .4 1-.2 1 .2 1 2.4 1 0 1 .1 1-.5 1-1.6 1-.5 1 0 1-.5 1 .3 1 .5 1 .2 1-.6 1-.2 1 .5 1-.3 1 .1 1-.1 1 .4 1 0 1-.3 1 .2 1-.2 1 .3 1 .5 1-1 1 .8 1-1.1 1 .7 1 .1 1-.1 1 .1 1-1 1 .7 1 .1 1-.5 1 0 1-.2 1 .8 1 0 1-.2 1-.2 1 .1 1-.6 1 .9 1-.3 1-.6 1 .3 1 .8 1-.5 1-.3 1 .6 1-1.1 1 .4 1 .3 1 .2 1-.8 1 .4 1 0 1 0 1 .1 1 .5 1-.5 1-.7 1 .4 1-.2 1 .1 1 2.7 1 .5 1-.4 1-.5 1-3.6 1 .5 1-.2 1-.1 1-.8 1 .1 1-.2 1-.6 1-.5 1-.9 1-.8 1-.7 1-1.6 1-2.1 1-3.7 1-3.7 1-8.3 1-8.5 1-10.2 1-10.4 1-6.4 1-1.8 1 3.4 1 4.4 1 5.1 1 5.4 1 7.7 1 5.6 1 7.1 1 5.5 1 5.8 1 3.9 1 1.9 1 1.1 1 .6 1 1.4 1 .7 1 .4 1 .6 1 .4 1 0 1 .5 1-.6 1 .7 1 .6 1-.4 1 .1 1 .3 1-.4 1 0 1-.2 1 .2 1 .1 1 .5 1-.1 1 .4 1-.3 1-.2 1-.2 1 .1 1 .9 1-.6 1 .2 1 .2 1 .5 1-1 1 .2 1 .1 1-.7 1 .7 1 0 1-.2 1 .2 1-.1 1 0 1 0 1-2.5 1 0 1 .8 1 2.4 1-.5 1-.1 1 .2 1 .1 1-.3 1-.2 1 .7 1-.4 1 0 1 .2 1 .1 1-.1 1-.2 1 .5 1-.6 1-.4 1 .1 1 .4 1 .1 1-.4 1 3 1-.1 1-.3 1-.3 1-2.4 1-.1 1-.5 1-.5 1-2.2 1-.6 1-.8 1-.3 1 1 1-1.3 1-2.1 1-2.6 1-2.1 1-1.9 1-1.9 1 .5 1 1.9 1 .3 1 1.5 1 1.2 1 1.4 1 1.9 1 1.5 1 2.1 1 1.4 1 .7 1 .4 1 .2 1 .8 1 .2 1-.9 1 .8 1 .3 1-.3 1 .2 1-.5 1 .8 1-.2 1 .1 1-.1 1-.4 1 .1 1 .6 1 .3 1-.8 1 .6 1 .1 1-.4 1 .2 1-.7 1 .3 1 .6 1-.1 1 .2 1-.1 1-.6 1 .6 1-.4 1 .2 1-.2 1 .2 1-.2 1 .1 1 .3 1-.4 1 0 1 0 1 2.8 1 .4 1 0 1-3 1 .1 1 .3 1-.4 1 .3 1-.3 1 0 1 .5 1-1.2 1 .6 1 0 1-.5 1 .3 1 .3 1 .2 1-.1 1-.1 1 .4 1 0 1-2.4 1-.2 1 2.5 1-1.1 1 .8 1 .2 1-.1 1 .1 1-.3 1 .1 1 .5 1-1 1-.1 1 .5 1 .3 1-.4 1 .7 1-.8 1 .3 1-.1 1 .4 1-1.1 1 1 1-.1 1 0 1-.7 1 .7 1-.7 1 .3 1 0 1-.1 1 0 1-.2 1-.2 1 0 1 .2 1-.7 1-.5 1-.8 1-1.2 1-1.1 1-.4 1-2.3 1-.5 1-1.7 1 .4 1 .6 1 .5 1 1.2 1-.4 1 1.3 1 .7 1 .9 1 .9 1 .9 1-.2 1 .1 1 .4 1-.1 1-.4 1 .2 1-.3 1-.3 1-.3 1 .1 1-.4 1 .2 1 .4 1-.4 1-.3 1-.1 1-.6 1 .1 1 .1 1 .3 1-.3 1-.3 1 .1 1 .7 1-.9 1 .7 1-.2 1 2.3 1-.5 1 .4 1 .5 1-2.2 1 .4 1 .1 1-.4 1 .6 1 .7 1-.7 1 .2 1 .9 1 .6 1-.1 1-.7 1 1.1 1-.2 1 .5 1-.5 1-.2 1 .3 1 .7 1 .1 1-.3 1 .7 1-.2 1 .5 1-.9 1 0 1-.1 1 .6 1 .1 1-.3 1-1.5 1-.3 1 .3 1 1.5 1 .6 1 0 1 .1 1 .2 1-.2 1-.3 1 .6 1 2 1 .6 1-.3 1-.1 1-2.2 1 .2 1-.6 1 .1 1 .3 1-.8 1 .6 1 0 1-.4 1-.1 1 .7 1-.6 1 .2 1-.2 1-.4 1 .5 1-.1 1 .3 1-.6 1 .1 1-.1 1-2.7 1 .1 1-.5 1 3.1 1-.8 1 .4 1-.2 1 .1 1-.1 1-.8 1-1.1 1-.7 1-1.3 1-.5 1-.8 1-2.3 1-1.8 1-1.6 1 .1 1-1.1 1 .1 1 1 1 1 1-1 1 .8 1 3.1 1 1.8 1 1.2 1 .6 1 1.3 1 .6 1 .2 1 1 1-.1 1 .4 1 .7 1 0 1-.1 1 .4 1 .1 1-.7 1 .4 1 .2 1-.5 1 .3 1 .6 1-.3 1 .2 1-.2 1 .1 1-.5 1-.1 1 .6 1-.3 1-.3 1 .3 1 .1 1-.3 1 .1 1 .9 1-.4 1 0 1-.2 1 .6 1-.3 1-.3 1 0 1-.5 1 .1 1 0 1 .1 1 .7 1 0 1-.5 1-.2 1 .1 1 .8 1-.4 1 .3 1-.8 1 .2 1 .2 1 .4 1-.6 1-.3 1 .3 1 .2 1 0 1 .3 1 .2 1-.5 1 .4 1-.5 1 .6 1-.2 1 0 1-.1 1-.8 1 .4 1-.5 1 .8 1-.6 1 0 1 .4 1 .5 1-.8 1-.5 1 .5 1-.3 1-2.2 1-.3 1 .4 1 1.9 1 .5 1-1.2 1 1.1 1-.8 1-1 1-.5 1-.1 1-1.4 1-.9 1 .3 1-1.5 1-1 1-3.9 1-1.7 1 .2 1-.3 1 1.7 1-.2 1 1 1 .9 1 .7 1 1.4 1 .6 1 1.4 1 1.1 1 .8 1 1.1 1 .4 1 .4 1 .6 1-.3 1 2.3 1 .8 1-2.9 1 0 1-.3 1-.2 1 .1 1-.5 1 .2 1-.8 1-.4 1-1.2 1-1.3 1-1.2 1-1.3 1-1.1 1-1.7 1 .4 1-.5 1 .9 1 .5 1 .2 1 .9 1 .8 1 .9 1 1.4 1 1.1 1 .9 1 .2 1 1.4 1 .1 1 .8 1-.1 1 .5 1 .2 1-.5 1-.3 1 1.2 1-.2 1 .1 1-.2 1-.4 1 .4 1 0 1 .3 1 2.2 1 .4 1 .1 1-.4 1-2 1-.9 1 .6 1 0 1 0 1 0 1 .5 1 .2 1-1.1 1 .8 1-.4 1 .3 1 .2 1-.5 1 .5 1 .1 1-.1 1-.7 1 .3 1 .2 1-.2 1-3 1 .4 1 2.9 1-.7 1 .7 1 .2 1 0 1-.8 1 .5 1-.2 1 .1 1 .1 1-.7 1 0 1 2.9 1 .4 1-2.8 1-.3 1 .3 1-.1 1-.3 1 1.3 1-1.3 1 .3 1 .3 1-.3 1 .1 1 .4 1-.3 1-.5 1 .5 1-.3 1 .1 1 .3 1-.6 1 .2 1-.1 1 .4 1 .3 1-.1 1-.2 1-.2 1 .3 1 .3 1-.3 1 .1 1-.5 1 .1 1 .4 1 .2 1-.3 1 .1 1-.3 1 .7 1-.7 1-.4 1 .1 1 .3 1 .2 1 .2 1-.1 1-.4 1-.2 1 .8 1-.4 1 .1 1-.1 1 0 1-.1 1-.2 1 .2 1 .2 1 .1 1 .6 1-1.1 1 .9 1-.4 1-.2 1-.3 1 .2 1 .1 1-.1 1 .9 1-.6 1 0 1 .2 1-.1 1-.2 1-.3 1 0 1-.3 1 3.1 1 .3 1-.3 1-2.3 1-.7 1 .7 1-.7 1 .2 1 .1 1 0 1-.1 1-.2 1 .5 1-.1 1 .3 1-.6 1 0 1 .3 1-.3 1 .6 1-.4 1 .1 1 .1 1-.3 1 .4 1-.4 1 .3 1-.6 1 .3 1-.3 1 .1 1 .3 1 .4 1-1.1 1 .2 1-.4 1 0 1-.1 1-.4 1-.9 1-.2 1-1.2 1-1.2 1-1.6 1-1.2 1-.7 1-.1 1-1.1 1 .8 1 1.1 1 .5 1 .5 1 .6 1 .4 1 .4 1 .6 1 .5 1 1.4 1 .3 1 .7 1 .6 1-.5 1 .8 1-.3 1 .9 1 .5 1-.4 1-.1 1-.5 1 .5 1 .1 1 .8 1-.8 1 .2 1 0 1-.4 1 .4 1 0 1-.2 1 .4 1-.1 1-.2 1 .4 1-.2 1 .2 1-.4 1 1 1-.9 1-.6 1 .4 1 .7 1-.1 1 .2 1-.7 1 1.2 1-.6 1-.7 1 .3 1 .1 1-.1 1 .4 1-.3 1 0 1 .8 1-1 1 .2 1-.4 1 .3 1-.2 1 .3 1 .7 1-.9 1-.4 1 .3 1 .4 1-.1 1 .7 1-.9 1-.1 1 .2 1 0 1 .4 1 .5 1-1.3 1 1 1-.2 1-.7 1 .7 1 .1 1-.3 1-.1 1 .3 1 .2 1-.6 1 .2 1 .2 1-.3 1 0 1 .6 1-.2 1-.3 1 0 1-.1 1 .3 1 .2 1-.3 1-.8 1 .1 1 .6 1 .4 1-.8 1 .3 1-.4 1 .5 1 0 1 .3 1-.1 1 .1 1-.6 1-.1 1 .3 1 .2 1 .2 1-.7 1 .8 1-.5 1-2.8 1-.1 1 .4 1-.4 1 3.3 1-.3 1-.1 1 .3 1-.2 1-.5 1 .7 1 .3 1-.2 1 2.6 1 0 1 0 1-3 1 .2 1-.2 1 .4 1 0 1 .5 1-1.2 1 .2 1 .4 1-.4 1 .2 1 .4" fill="none" stroke="#f44044" stroke-width="3.7" stroke-linejoin="round"/>
<path d="M721.0,1342.8 L721.0,1341.4 L722.0,1329.8 L723.0,1315.2 L724.0,1298.9 L725.0,1284.0 L726.0,1276.0 L727.0,1277.0 L728.0,1286.7 L729.0,1298.7 L730.0,1314.2 L731.0,1328.5 L732.0,1342.1 L732.0,1343.5 L726.5,1325.4 Z" fill="#f44044"/>
<path d="M973.0,1336.7 L973.0,1335.3 L974.0,1322.8 L975.0,1308.5 L976.0,1293.3 L977.0,1282.5 L978.0,1278.5 L979.0,1280.8 L980.0,1289.6 L981.0,1302.3 L982.0,1315.1 L983.0,1327.7 L984.0,1338.8 L984.0,1340.2 L978.5,1327.2 Z" fill="#f44044"/>
<path d="M1106.0,1366.5 L1106.0,1365.1 L1107.0,1360.8 L1108.0,1356.2 L1109.0,1351.1 L1110.0,1346.9 L1111.0,1344.4 L1112.0,1344.8 L1113.0,1346.4 L1114.0,1349.9 L1115.0,1354.7 L1116.0,1358.3 L1117.0,1363.0 L1118.0,1366.7 L1118.0,1368.1 L1112.0,1361.6 Z" fill="#f44044"/>
<path d="M1581.0,1354.7 L1581.0,1353.3 L1582.0,1344.8 L1583.0,1334.6 L1584.0,1324.2 L1585.0,1317.8 L1586.0,1316.0 L1587.0,1319.4 L1588.0,1323.8 L1589.0,1328.9 L1590.0,1334.3 L1591.0,1342.0 L1592.0,1347.6 L1593.0,1354.7 L1593.0,1356.1 L1587.0,1346.9 Z" fill="#f44044"/>
<path d="M157,1616.1l1 .5 1-.7 1 .7 1 0 1-.3 1 0 1-.3 1 .3 1 .7 1-.3 1-.3 1 0 1 .2 1-.5 1 .5 1-.3 1 .1 1 0 1-.5 1 .3 1 .4 1-.3 1 0 1 .3 1-.5 1-.1 1 .1 1 .3 1 .2 1-.5 1-.1 1 .9 1-.7 1 .1 1 .2 1 .3 1-.5 1-.3 1-.4 1 .6 1-.1 1-1.5 1 .1 1 0 1 1.7 1-.2 1 .2 1-.4 1-.3 1 .7 1 .3 1-.9 1 .8 1 0 1-.5 1-.1 1-.2 1 .5 1 .1 1 0 1 0 1-.5 1 .4 1-.3 1 .3 1-.2 1-.2 1 .6 1-.6 1 .7 1 .2 1-.4 1 .3 1-.3 1 .3 1-.3 1-.1 1 .5 1-.6 1 .5 1-.9 1 .5 1-.7 1 .9 1-.5 1 .1 1 .7 1-.4 1 0 1 .5 1-.6 1 .2 1 .3 1-.2 1-.3 1 .1 1 .1 1 .1 1 .2 1-.9 1 .7 1-.4 1 .3 1-.1 1-2.4 1-.2 1 1 1 1.8 1-.2 1-.2 1 .5 1 1.6 1 .4 1-.7 1-1.2 1-.4 1-.5 1 1 1-.5 1-.2 1 .6 1-.3 1-.1 1 .1 1-.1 1-.4 1 .3 1-.5 1 .4 1 .2 1-.2 1-.1 1-.1 1 .9 1-.9 1 1.1 1-1.4 1 .9 1 0 1 0 1-.4 1 .7 1-.5 1 0 1-.2 1 0 1 .6 1-.5 1 .8 1 1.5 1 .6 1-.4 1-2.2 1-.1 1-2.9 1 .1 1 2.5 1 .1 1 .1 1-.2 1-.4 1 .4 1 .4 1-.3 1-.1 1 .3 1-.1 1 .6 1-.6 1 .6 1-.8 1 .1 1-.2 1 .3 1 .1 1-.5 1 .6 1 0 1-.1 1 0 1 .1 1 .7 1-.7 1-.9 1 .9 1-.3 1 .6 1 .3 1-.8 1 0 1 0 1 .4 1-.6 1-.2 1 .4 1 .1 1-.1 1-.2 1-.3 1 .4 1 .6 1-.5 1 .4 1-.2 1-.4 1-.4 1 .6 1 .3 1-.1 1-.2 1 .5 1-.5 1-.4 1 .7 1-.5 1 .1 1 0 1 0 1-.4 1 .8 1 .1 1-.2 1-.6 1 .2 1 .2 1-.1 1-3.1 1 .7 1 2.5 1 .1 1 .1 1-.5 1 0 1 .6 1-.5 1 .1 1-.6 1 .5 1 .5 1-.8 1 .3 1 .8 1-.7 1 .6 1-.4 1-.3 1 .5 1-.3 1-.1 1 .2 1-.5 1 .7 1-.2 1 0 1 .4 1 .2 1-1 1 0 1 .3 1 0 1 .1 1-.7 1 .9 1-.5 1 .6 1-.7 1 .7 1 .1 1-.2 1-.3 1 0 1 .1 1-.3 1 .2 1 .3 1-.7 1 .9 1-.1 1-.7 1 .9 1-1 1 .6 1-.4 1 .5 1 .1 1 0 1-.2 1-.7 1 .6 1 0 1 .6 1-.9 1 .9 1-.4 1-.1 1-.1 1 0 1-.3 1 .3 1 .1 1 .1 1-.1 1 .2 1-.6 1 .2 1 0 1-.3 1 .6 1 .3 1-.8 1 .1 1 .3 1-.2 1 .4 1-.8 1 .5 1 .3 1 .2 1-.4 1-2.4 1 .1 1 1.8 1 .9 1 .3 1-.4 1-.7 1 .3 1-.3 1 .5 1 .2 1-1 1 .5 1 .7 1-1 1 0 1 .8 1-.9 1 .7 1-.3 1-.2 1 0 1 .9 1-1 1 0 1 .5 1 2.2 1 .3 1-.6 1-2.4 1 .7 1-.1 1-.5 1 .3 1-.4 1 .8 1-.2 1-.4 1 .3 1-.4 1 .6 1-.7 1 3.1 1 .2 1-.8 1-2.1 1-.4 1-.2 1 .4 1 .1 1 .1 1-.4 1 .6 1-.3 1 .4 1 .1 1-.4 1 .1 1 0 1 .4 1-.3 1-.2 1-.5 1 .4 1 .2 1 .1 1-.9 1 .9 1-.7 1 .5 1 .1 1-.6 1 .2 1 0 1 .6 1-1 1 .1 1 .2 1-.2 1-.3 1 .8 1 .1 1-.2 1 0 1-.5 1 .5 1 .7 1-1.2 1 1.1 1-.4 1-.1 1 .1 1-.2 1 0 1-.1 1 .7 1-.3 1-.2 1-.4 1 .3 1 0 1 .5 1-.2 1-.6 1 .3 1 .6 1-.2 1-.3 1 0 1 .6 1-.8 1 .4 1-.5 1 .1 1-.1 1 .8 1-.3 1-.5 1 .5 1 .1 1 .4 1-1.3 1 .5 1 .1 1 .5 1 0 1-.4 1-.1 1-.7 1 0 1 .2 1 .6 1-.1 1-.1 1-.1 1 .4 1-.6 1 .8 1-.6 1-.1 1-.2 1 .1 1-.7 1-2.1 1-.4 1 0 1 1.8 1-.9 1 .3 1-.4 1-1.2 1-1 1-.1 1-.3 1 .4 1-.4 1 .8 1 .5 1 .1 1 .7 1-.4 1 .2 1 .3 1-.9 1 0 1-.4 1-3 1 0 1-.3 1 3.5 1-.2 1 .7 1 .4 1 .5 1 .5 1 .2 1 .4 1 0 1 .6 1-.5 1 .5 1 .6 1 .2 1-.4 1-.1 1 .6 1 0 1-.3 1 .4 1 .3 1-.5 1-.5 1 .7 1 0 1 .4 1-.5 1 .1 1-.5 1 .2 1-.4 1 .3 1-.3 1 .1 1 .5 1-.5 1 .3 1-.1 1 .2 1-.6 1 .6 1-.5 1 .2 1-.7 1 .1 1 .2 1 0 1 .3 1-.3 1-.1 1-.7 1 .2 1-.8 1 .3 1-.2 1 .1 1-.8 1 .2 1 .1 1-.6 1-.1 1-.7 1-.3 1 0 1-1.6 1 0 1-.9 1-.8 1-1.3 1-1.6 1-1.2 1-2.1 1-3.4 1-3.8 1-5.3 1-7.9 1-11.7 1-18.4 1-25.6 1-35.2 1-40.3 1-34.1 1-11.9 1 12.1 1 32.4 1 37.2 1 34.6 1 28 1 16.4 1 14.4 1 8.1 1 6.2 1 4.1 1 2.7 1 2.8 1 2 1 1.6 1 .8 1 1.3 1 .4 1 .5 1 1.3 1 0 1 .5 1 .7 1-.2 1 1.3 1-.1 1 0 1-.4 1 .9 1-.5 1 .6 1 .3 1-.2 1-2.3 1-.3 1 3.1 1 .2 1-.4 1 .3 1 .2 1 .4 1-.2 1 .2 1 .1 1-.3 1-.1 1-.3 1 .7 1-.4 1 .9 1-.4 1-.2 1 0 1 .6 1-.6 1 .2 1 .2 1-3.4 1 .7 1 2.4 1-.1 1 .7 1-.4 1 0 1 .4 1-.3 1-.2 1 .1 1-.3 1 .4 1 0 1 .6 1-.6 1 .1 1-.1 1 0 1-.2 1 .7 1-.2 1 0 1-.3 1-.2 1 .1 1 .7 1-.7 1 .5 1-.1 1 .5 1-.4 1-.5 1 .2 1 .1 1-.6 1 1.1 1-.3 1 .3 1 0 1-.5 1 0 1-.3 1 .9 1-.5 1-.1 1 2.5 1 .3 1-2.6 1-.1 1 .5 1-1 1 .8 1 0 1-.8 1 1.1 1-.4 1 0 1-.3 1-.2 1 .1 1 .5 1-1 1 1.3 1-.9 1 .5 1-.2 1 0 1 .1 1-.3 1 .8 1-.5 1-.3 1 .3 1-.1 1 .5 1-.8 1 .3 1-.3 1 .5 1-.5 1 .3 1 .8 1-.3 1-1.4 1 1.1 1-.8 1 .4 1 .6 1-.8 1 .2 1-.1 1 .8 1-.8 1-.1 1 .2 1 .2 1 .2 1 0 1-.4 1 .4 1-.4 1 .1 1-.1 1 .3 1-.4 1 .8 1-1.3 1 1.1 1-.4 1 .3 1-.4 1-.1 1-.3 1 .4 1 .2 1-.2 1-.6 1 1.1 1 .5 1-1.1 1 .3 1-.2 1 .5 1-.6 1 .2 1 0 1-.1 1-1.5 1-1.1 1 1 1-.6 1 1.9 1 .9 1-.6 1 .8 1-.4 1-.6 1 .4 1-.5 1 .3 1 .4 1-.4 1-2.2 1-.1 1-.2 1 2.3 1-.2 1 .1 1-1.2 1 .6 1 2.1 1 .7 1-2.6 1-.1 1-.5 1 .3 1 .2 1-.3 1-.4 1-.3 1 .6 1-.7 1 .4 1-.3 1-.5 1 0 1-.5 1 .3 1-.4 1-.4 1-.7 1 0 1-.6 1 0 1-1.1 1 .3 1-.7 1-1.9 1-.4 1-1 1-1.6 1-2 1-2.5 1-3.1 1-4.5 1-5.8 1-8.4 1-11.9 1-15.8 1-23.5 1-32.2 1-34 1-27.5 1-10.9 1 6.1 1 18 1 26.3 1 31.8 1 27.4 1 20.4 1 16.6 1 11.1 1 7.5 1 6.4 1 4.5 1 1.6 1 2.7 1 2.1 1 1.3 1 1.3 1 .5 1 1.3 1 1.3 1 .3 1 .1 1 0 1 .1 1 1.2 1-.7 1 1 1 .2 1 .6 1-.2 1 .3 1-.2 1 .3 1 .2 1-.2 1 .2 1 .4 1 .2 1 .2 1 0 1 .4 1-.4 1 .2 1 .5 1-.4 1 .3 1-.2 1-.5 1 .4 1 .2 1-.7 1 1.2 1 .3 1-.4 1-3.4 1 0 1 .1 1 3.4 1 0 1-.6 1 .2 1 .7 1-.8 1 .3 1 .4 1-.6 1 .1 1 0 1 .4 1 0 1-.6 1 .1 1 .1 1 .1 1 0 1 .2 1 .1 1 .4 1-.5 1-.2 1 .2 1 0 1-.4 1-.1 1 .3 1-.1 1-.7 1 .7 1 .4 1-.2 1-.5 1 .4 1 .2 1-.5 1 .7 1 0 1-.4 1-.5 1 .2 1-.2 1 .3 1 .4 1 .2 1-.8 1 .5 1-.3 1 .6 1-1.3 1 .8 1-.5 1-.1 1 0 1-.3 1 .5 1-.8 1-.1 1-.3 1 0 1 0 1 .2 1-1.5 1 .8 1-1.4 1-.8 1-.7 1-1.3 1-1.5 1-2.5 1-4.3 1-4.4 1-7.8 1-8.6 1-9.7 1-7.1 1-3 1 1.6 1 4.9 1 6.6 1 8 1 8.4 1 7.1 1 4.6 1 3.3 1 2 1 2.1 1 2 1 .2 1 .8 1 .8 1 0 1 .5 1 .5 1 .3 1-.6 1 .3 1 1 1-.2 1-.1 1 .1 1 .1 1-.1 1 0 1 .2 1 .1 1-.3 1-.8 1-1.3 1-1.8 1-2.4 1-1.6 1 .4 1 .5 1 .7 1 1.6 1 1.1 1 2.1 1 .5 1 .7 1 .4 1 0 1 .7 1-.5 1 .3 1-.2 1-.4 1 .2 1-.1 1 .2 1-.9 1 .4 1 0 1 .2 1-.7 1-.8 1-.3 1 .4 1 0 1-.8 1-.1 1-.1 1-.8 1 .2 1 0 1-.6 1 0 1-.8 1 .3 1-1.1 1-.1 1 .3 1-.7 1-.4 1-.6 1-.3 1-.5 1 .5 1 .2 1-.9 1-.6 1 .1 1 0 1 .7 1-.8 1-.2 1 .1 1-.1 1 .3 1 .1 1-.7 1 1.2 1 .5 1-.2 1 .2 1 2.9 1 .6 1 .8 1-2.4 1-.2 1 .5 1 1 1-.8 1 .5 1 0 1 .6 1 1.2 1 .1 1-.5 1 .4 1 1 1-.3 1-.1 1 .3 1 .8 1-.3 1 .9 1-.3 1 .1 1 .2 1 .5 1-.3 1 1 1-1 1 .5 1-.4 1 .3 1 .4 1 0 1 .3 1-.2 1-.1 1 .5 1-.4 1 .4 1 .1 1-.8 1 .6 1 .4 1 .2 1-.2 1-.3 1 .2 1 0 1-.1 1-.7 1 .2 1 .4 1-.1 1 .2 1 .1 1-.2 1 2.7 1 .3 1-.7 1-1.9 1-.4 1-.2 1 .6 1 0 1-.3 1 .8 1-.8 1 .2 1 .1 1-.2 1 .4 1-.1 1 .2 1-.3 1 0 1 .5 1-.3 1-.2 1 .1 1-.4 1 .3 1 .5 1-.4 1-.1 1 .6 1-1 1 .7 1-.2 1-.2 1 .6 1-1 1 .7 1 .1 1-.4 1 2.9 1-.4 1-.2 1 .6 1-2.9 1 .5 1 0 1-.3 1 0 1 .5 1-.6 1 .4 1-1.9 1-.8 1 .3 1 1.9 1-2 1-.3 1 2.8 1-.6 1 0 1 0 1 .1 1 .2 1-.4 1-.1 1 .6 1-.3 1-.1 1 .7 1-.4 1-.2 1 .4 1-.1 1 .1 1-.2 1-.5 1 .9 1-.1 1-.4 1-.3 1 .6 1 .3 1-.2 1-.7 1 0 1 .5 1-.3 1 .1 1-.6 1-2.1 1 0 1-.4 1 1.6 1-1.5 1-3 1-4.7 1-1.9 1 1.6 1 1.9 1 1.2 1 .1 1 2.4 1 1.7 1 1.8 1 .8 1 1 1-.5 1 .6 1 0 1-.4 1-.4 1 .9 1 .1 1-1.1 1 1.2 1-.5 1 .1 1 0 1 .3 1-.4 1 .2 1-.3 1 .3 1 0 1 .2 1-.1 1-.6 1 .3 1 .1 1 .5 1-.6 1 .9 1-.9 1 .2 1-.1 1 .1 1-.3 1 .2 1-.1 1 .1 1-.2 1 .6 1 .1 1-.3 1 .4 1-.4 1 .1 1 .4 1 .4 1-.6 1-.1 1 0 1-.1 1-.1 1 .2 1-.4 1 .2 1 .4 1-.7 1 .3 1-.1 1 .4 1-.1 1 0 1-.3 1-.4 1 .3 1-.1 1 0 1 .5 1-.4 1 .3 1-.5 1 .1 1 .7 1-.8 1 .1 1-2.2 1-.2 1 3 1 0 1 .2 1-.6 1-.3 1 .7 1 0 1 .3 1-.7 1-.5 1 .6 1 .5 1-.2 1-.5 1 .2 1-.4 1 .3 1 .7 1-.3 1-.7 1 .1 1-.5 1 .5 1 .7 1-.5 1 .7 1-.1 1-.1 1-.6 1 .4 1-.1 1-.7 1 .8 1-.5 1 .2 1 .4 1-.2 1-.2 1 .2 1 .3 1-.2 1 .2 1-.2 1 2.8 1-.9 1-2.2 1 .4 1-.5 1-.4 1 .6 1 0 1 0 1 .6 1-.1 1-.6 1 .6 1-.1 1-.3 1-.3 1 .2 1 .1 1-2 1-.4 1 .8 1 .9 1 .5 1 .3 1 .1 1-.5 1 .3 1-.8 1 .6 1 .2 1 0 1-.3 1 0 1 .2 1-.6 1 .7 1 0 1-.4 1 .1 1 0 1 .3 1-.5 1 .5 1-.6 1 .1 1-.2 1 .1 1 .5 1 0 1-.3 1 .5 1-.6 1 .4 1 .2 1-.6 1 .2 1-.3 1 .5 1-.3 1-.2 1-.4 1 .4 1-.3 1 .4 1-2.4 1-.2 1-.1 1 2.1 1 .2 1-.2 1-.4 1 .3 1-.5 1-.2 1 .6 1-.2 1-.5 1-.2 1-.4 1 .6 1-1.1 1-.5 1-.4 1-.7 1-.5 1-1.8 1-.6 1-1.2 1-2.7 1-2.5 1-5.3 1-7.6 1-10.4 1-15.9 1-18.9 1-18.6 1-6.8 1 5.4 1 10.3 1 7.3 1 5.7 1 8.1 1 12.9 1 12.2 1 9.8 1 7.1 1 4.8 1 3.4 1 1.6 1 1.7 1 1.6 1 .5 1 .8 1 .3 1 .5 1 .7 1-.1 1 .8 1-.2 1 .7 1-.5 1 .6 1 0 1 .6 1 .1 1-.4 1 .3 1 .1 1 .5 1-.6 1-.2 1-.2 1 1.2 1-.5 1 .3 1-.2 1-.2 1-.1 1 .2 1-.1 1-.5 1 .6 1-.1 1 .5 1-.7 1 .2 1 .2 1 .4 1-.2 1 .2 1 0 1-.3 1 0 1-.1 1 0 1 .2 1 .1 1-.2 1 .5 1-.3 1-.4 1 .2 1 .1 1 .4 1-.3 1-.6 1 .7 1 .5 1-.4 1-.6 1 .3 1-.5 1 .2 1 .2 1 .2 1 .4 1 0 1-.9 1-.1 1 .6 1-.4 1-.2 1-.4 1-.4 1 0 1-.4 1-.6 1-1.4 1-1.1 1-1.7 1-2.5 1-5 1-2.4 1-2.8 1-.9 1 2 1 .1 1 1.9 1 1.2 1 2.2 1 1.4 1 2.5 1 2.3 1 2.2 1 .7 1 .9 1 .3 1 .8 1 .6 1 .9 1-.9 1 .7 1 0 1 0 1-.3 1 .2 1 .6 1-.1 1-.4 1 .7 1-.6 1 .5 1-.1 1 .7 1-.5 1-.1 1 .1 1-.2 1 0 1 .1 1 .2 1-.1 1-.2 1 .6 1-.7 1-.1 1 .2 1 .1 1-.3 1 .3 1 .6 1-1.2 1 .4 1 .2 1 .2 1-.2 1-.2 1-.2 1 3 1-.1 1-2.6 1 0 1-.3 1 .6 1 .3 1-.6 1 0 1 .3 1-.1 1-.1 1 0 1-.2 1 .1 1-.1 1 .7 1-.1 1 .3 1-.8 1-.1 1 .1 1-.2 1 .6 1-.5 1 .2 1 .2 1-.1 1 .2 1-.3 1-.3 1 .4 1 .2 1-.5 1-.1 1 .5 1-.6 1 .3 1 0 1-.2 1 .2 1 0 1 .2 1-.3 1 0 1-.2 1 .1 1-.4 1 .5 1-1.1 1 .1 1 .7 1-.3 1-.2 1 .3 1-.4 1-.4 1-2 1-.2 1-1.4 1-1.5 1-2.6 1-1.5 1-1.3 1 .1 1 .2 1 .4 1 .8 1 1.3 1 .5 1 1.6 1 1.3 1 .6 1 1.3 1 .2 1 .7 1 .8 1 .6 1-1 1 .6 1-.7 1 .3 1-.2 1-.3 1-.2 1 .1 1 .4 1-.4 1 .5 1-.4 1-.3 1 .2 1 0 1-.3 1 .2 1 .7 1 .1 1 2 1 .7 1 .1 1-2.4 1-.4 1 .3 1 .2 1 0 1-.4 1-.1 1 1.2 1-.9 1 1.3 1-.6 1-.1 1 .1 1 .6 1 .4 1-.6 1 .1 1 .5 1 .1 1 .3 1 0 1-.5 1 .8 1-.7 1 .7 1-.1 1-.4 1 0 1 .4 1 .2 1-.5 1 .4 1-.1 1 .4 1-.5 1 .3 1-.3 1-.3 1 .1 1-.4 1 .6 1 .6 1-.5 1 0 1-.3 1 0 1 .4 1-.1 1-.6 1 .4 1 .3 1-.1 1-.4 1 .7 1-.6 1-.2 1-.2 1 .6 1 2.2 1-.1 1-2.6 1 .2 1-.4 1 0 1 .1 1 .9 1-.5 1-.5 1 .4 1-.6 1 .1 1 .3 1 0 1-.4 1 0 1-.4 1 0 1-.2 1-.3 1-.7 1-.1 1-.3 1 2.7 1-1.7 1-1.3 1-5.2 1-2.4 1-4.4 1-5.1 1-4 1-2.4 1 .3 1 3 1 2.2 1 1.3 1 .6 1 1.6 1 3.1 1 2.8 1 2.5 1 2.3 1 2.1 1 .5 1 1.4 1 .8 1-.1 1 .7 1 .5 1-.3 1 .2 1 2.5 1-.4 1 .7 1-.1 1-2.2 1-.1 1 .4 1-.3 1 .3 1-.2 1 .2 1 0 1 .3 1 .1 1 .2 1-.7 1 .3 1 .1 1-.2 1-.4 1 .2 1 .8 1-.4 1 .2 1-.7 1-.1 1 .3 1 .7 1-.6 1 .4 1-.7 1 .3 1 .6 1-.6 1 .2 1-.1 1 .8 1-.6 1 .1 1 0 1-.3 1 .6 1-.6 1 .5 1 .1 1-.4 1-.3 1 .1 1 .4 1-.2 1 0 1-.2 1-.1 1 .5 1-.5 1 .6 1-.7 1 .2 1 .3 1-.7 1 1.4 1-.6 1-.6 1-.1 1 .5 1-.4 1 .9 1-.8 1 .3 1 .5 1-1 1 .7 1-.9 1 .7 1-.6 1-.6 1 .5 1-.7 1 .7 1-.3 1-1 1 .7 1-.4 1-1.1 1-.9 1-1.6 1-.9 1-3.2 1-2.7 1-2.3 1-2.1 1-.3 1 .2 1 1.8 1 1 1 .8 1 1.1 1 1 1 1 1 1.5 1 2.2 1 1.1 1 1.1 1 .6 1 1.1 1-.1 1 .9 1-1 1 1.1 1-.5 1 .1 1 0 1 .1 1-.4 1-.5 1-.3 1-.4 1-.5 1-1.6 1-1.3 1-1.9 1-1.3 1-2.4 1-2.6 1-2.1 1 .3 1 .1 1 1.4 1 1.2 1 1 1 1.3 1-1 1 .3 1 .9 1 4.1 1 1.7 1 1.3 1 1.4 1 1.1 1-.5 1 .8 1 .3 1 .2 1 .3 1-.3 1-1.4 1-.1 1-.1 1 2.3 1 .3 1-.6 1 .5 1 .2 1-.4 1 .3 1-.3 1 .4 1-.3 1 .4 1-.3 1 .6 1-.2 1-.7 1 .4 1 .4 1 0 1 .6 1-.8 1 0 1 .1 1 .5 1-.5 1-.3 1 .3 1-.5 1 .6 1-.4 1-.1 1 .2 1-.3 1 .5 1 .8 1-.7 1-.4 1 .9 1-.6 1 .1 1 0 1 0 1 .3 1-.2 1-.3 1 .6 1-.3 1 .1 1 0 1-.3 1-.3 1 .4 1 .4 1-1.1 1 .5 1-.5 1 0 1 .4 1 .3 1-.2 1 .1 1 .3 1-.6 1-.1 1 .2 1 .2 1-.1 1 .3 1-.3 1 .6 1-.1 1-1 1 .8 1-.4 1-.2 1 .6 1-.3 1 .4 1-.2 1 .4 1-.1 1-.2 1-.3 1-.4 1 .2 1 .1 1-.3 1 .9 1 .1 1-.3 1 .4 1-.6 1 .1 1 .2 1-.5 1 .6 1-.3 1-.3 1 .2 1-.1 1-.3 1 .7 1-.2 1-.2 1 .1 1 .4 1-.1 1-.4 1 .3 1 0 1 .1 1 0 1 .5 1-.5 1-.4 1 .3 1-.3 1 .4 1-.4 1 .1 1-.1 1 .6 1 .1 1-.5 1-.2 1-.1 1-.2 1 .7 1-.1 1-.6 1 .5 1-.2 1 0 1-.2 1 .6 1 .1 1-.7 1 .5 1 .1 1-.6 1 .3 1 0 1-.2 1 .8 1-.7 1-.1 1 .3 1-.9 1 .6 1 .1 1 .2 1 .2 1-1 1 .4 1 0 1-.4 1-.1 1-.4 1-.1 1-.4 1-.4 1-.3 1-1 1-1 1-1.3 1-.9 1-1.8 1-1.7 1 0 1-.8 1 .7 1 0 1 1 1 .9 1 .2 1 .2 1 1.3 1 .2 1 1.7 1 .3 1 1 1 .8 1 1.1 1-.2 1 .5 1 .5 1 .4 1-.7 1 .3 1 .1 1-.2 1 .9 1-.3 1 .4 1 1.4 1 .3 1-.1 1-1.9 1 0 1-3.2 1 .8 1 .1 1 1.9 1 .8 1-.2 1-.5 1 .4 1 .6 1-.7 1-.2 1 .6 1 .2 1-.8 1 .8 1-.4 1 0 1-.1 1 .2 1 .3 1-.2 1-.6 1 .8 1-.7 1-.2 1 1 1-.8 1 0 1 .1 1 .5 1-.7 1 1.1 1-.6 1-.2 1-.5 1 .4 1 .4 1-.3 1 .9 1-.6 1 0 1 .3 1 2.7 1 .3 1-3.4 1-.1 1 .4 1-.2 1-.2 1 .5 1-.7 1 0 1 .1 1 .1 1 2.8 1 .4 1-.4 1-.1 1-2.8 1 .3 1 .1 1 .3 1-.9 1 .1 1 .5 1-.2 1-2.5 1 .2 1 .1 1 2.7 1-.3 1 0 1-.4 1 .5 1-.6 1 .4 1 .2 1-.4 1 .2 1 .3 1-.4 1 0 1-.1 1 .5 1-.6 1-.8 1 .8 1 .5 1 .2 1-.4 1 .2 1-.1 1-.6 1 .6 1-.7 1 .6 1-.5 1 .5 1-1.1 1 .8 1 .6 1-.7 1 .6 1-.3 1 .1 1-.5 1 1.1 1-.5 1 .3 1-.2 1 .1 1-.3 1 .2 1 .2 1-.5" fill="none" stroke="#000000" stroke-width="3.8" stroke-linejoin="round"/>
<path d="M157,1617.5l1 .5 1-.7 1 .7 1 0 1-.3 1 0 1-.3 1 .3 1 .7 1-.3 1-.3 1 0 1 .2 1-.5 1 .5 1-.3 1 .1 1 0 1-.5 1 .3 1 .4 1-.3 1 0 1 .3 1-.5 1-.1 1 .1 1 .3 1 .2 1-.5 1-.1 1 .9 1-.7 1 .1 1 .2 1 .3 1-.5 1-.3 1-.4 1 .6 1-.1 1-1.5 1 .1 1 0 1 1.7 1-.2 1 .2 1-.4 1-.3 1 .7 1 .3 1-.9 1 .8 1 0 1-.5 1-.1 1-.2 1 .5 1 .1 1 0 1 0 1-.5 1 .4 1-.3 1 .3 1-.2 1-.2 1 .6 1-.6 1 .7 1 .2 1-.4 1 .3 1-.3 1 .3 1-.3 1-.1 1 .5 1-.6 1 .5 1-.9 1 .5 1-.7 1 .9 1-.5 1 .1 1 .7 1-.4 1 0 1 .5 1-.6 1 .2 1 .3 1-.2 1-.3 1 .1 1 .1 1 .1 1 .2 1-.9 1 .7 1-.4 1 .3 1-.1 1-2.4 1-.2 1 1 1 1.8 1-.2 1-.2 1 .5 1 1.6 1 .4 1-.7 1-1.2 1-.4 1-.5 1 1 1-.5 1-.2 1 .6 1-.3 1-.1 1 .1 1-.1 1-.4 1 .3 1-.5 1 .4 1 .2 1-.2 1-.1 1-.1 1 .9 1-.9 1 1.1 1-1.4 1 .9 1 0 1 0 1-.4 1 .7 1-.5 1 0 1-.2 1 0 1 .6 1-.5 1 .8 1 1.5 1 .6 1-.4 1-2.2 1-.1 1-2.9 1 .1 1 2.5 1 .1 1 .1 1-.2 1-.4 1 .4 1 .4 1-.3 1-.1 1 .3 1-.1 1 .6 1-.6 1 .6 1-.8 1 .1 1-.2 1 .3 1 .1 1-.5 1 .6 1 0 1-.1 1 0 1 .1 1 .7 1-.7 1-.9 1 .9 1-.3 1 .6 1 .3 1-.8 1 0 1 0 1 .4 1-.6 1-.2 1 .4 1 .1 1-.1 1-.2 1-.3 1 .4 1 .6 1-.5 1 .4 1-.2 1-.4 1-.4 1 .6 1 .3 1-.1 1-.2 1 .5 1-.5 1-.4 1 .7 1-.5 1 .1 1 0 1 0 1-.4 1 .8 1 .1 1-.2 1-.6 1 .2 1 .2 1-.1 1-3.1 1 .7 1 2.5 1 .1 1 .1 1-.5 1 0 1 .6 1-.5 1 .1 1-.6 1 .5 1 .5 1-.8 1 .3 1 .8 1-.7 1 .6 1-.4 1-.3 1 .5 1-.3 1-.1 1 .2 1-.5 1 .7 1-.2 1 0 1 .4 1 .2 1-1 1 0 1 .3 1 0 1 .1 1-.7 1 .9 1-.5 1 .6 1-.7 1 .7 1 .1 1-.2 1-.3 1 0 1 .1 1-.3 1 .2 1 .3 1-.7 1 .9 1-.1 1-.7 1 .9 1-1 1 .6 1-.4 1 .5 1 .1 1 0 1-.2 1-.7 1 .6 1 0 1 .6 1-.9 1 .9 1-.4 1-.1 1-.1 1 0 1-.3 1 .3 1 .1 1 .1 1-.1 1 .2 1-.6 1 .2 1 0 1-.3 1 .6 1 .3 1-.8 1 .1 1 .3 1-.2 1 .4 1-.8 1 .5 1 .3 1 .2 1-.4 1-2.4 1 .1 1 1.8 1 .9 1 .3 1-.4 1-.7 1 .3 1-.3 1 .5 1 .2 1-1 1 .5 1 .7 1-1 1 0 1 .8 1-.9 1 .7 1-.3 1-.2 1 0 1 .9 1-1 1 0 1 .5 1 2.2 1 .3 1-.6 1-2.4 1 .7 1-.1 1-.5 1 .3 1-.4 1 .8 1-.2 1-.4 1 .3 1-.4 1 .6 1-.7 1 3.1 1 .2 1-.8 1-2.1 1-.4 1-.2 1 .4 1 .1 1 .1 1-.4 1 .6 1-.3 1 .4 1 .1 1-.4 1 .1 1 0 1 .4 1-.3 1-.2 1-.5 1 .4 1 .2 1 .1 1-.9 1 .9 1-.7 1 .5 1 .1 1-.6 1 .2 1 0 1 .6 1-1 1 .1 1 .2 1-.2 1-.3 1 .8 1 .1 1-.2 1 0 1-.5 1 .5 1 .7 1-1.2 1 1.1 1-.4 1-.1 1 .1 1-.2 1 0 1-.1 1 .7 1-.3 1-.2 1-.4 1 .3 1 0 1 .5 1-.2 1-.6 1 .3 1 .6 1-.2 1-.3 1 0 1 .6 1-.8 1 .4 1-.5 1 .1 1-.1 1 .8 1-.3 1-.5 1 .5 1 .1 1 .4 1-1.3 1 .5 1 .1 1 .5 1 0 1-.4 1-.1 1-.7 1 0 1 .2 1 .6 1-.1 1-.1 1-.1 1 .4 1-.6 1 .8 1-.6 1-.1 1-.2 1 .1 1-.7 1-2.1 1-.4 1 0 1 1.8 1-.9 1 .3 1-.4 1-1.2 1-1 1-.1 1-.3 1 .4 1-.4 1 .8 1 .5 1 .1 1 .7 1-.4 1 .2 1 .3 1-.9 1 0 1-.4 1-3 1 0 1-.3 1 3.5 1-.2 1 .7 1 .4 1 .5 1 .5 1 .2 1 .4 1 0 1 .6 1-.5 1 .5 1 .6 1 .2 1-.4 1-.1 1 .6 1 0 1-.3 1 .4 1 .3 1-.5 1-.5 1 .7 1 0 1 .4 1-.5 1 .1 1-.5 1 .2 1-.4 1 .3 1-.3 1 .1 1 .5 1-.5 1 .3 1-.1 1 .2 1-.6 1 .6 1-.5 1 .2 1-.7 1 .1 1 .2 1 0 1 .3 1-.3 1-.1 1-.7 1 .2 1-.8 1 .3 1-.2 1 .1 1-.8 1 .2 1 .1 1-.6 1-.1 1-.7 1-.3 1 0 1-1.6 1 0 1-.9 1-.8 1-1.3 1-1.6 1-1.2 1-2.1 1-3.4 1-3.8 1-5.3 1-7.9 1-11.7 1-18.4 1-25.6 1-35.2 1-40.3 1-34.1 1-11.9 1 12.1 1 32.4 1 37.2 1 34.6 1 28 1 16.4 1 14.4 1 8.1 1 6.2 1 4.1 1 2.7 1 2.8 1 2 1 1.6 1 .8 1 1.3 1 .4 1 .5 1 1.3 1 0 1 .5 1 .7 1-.2 1 1.3 1-.1 1 0 1-.4 1 .9 1-.5 1 .6 1 .3 1-.2 1-2.3 1-.3 1 3.1 1 .2 1-.4 1 .3 1 .2 1 .4 1-.2 1 .2 1 .1 1-.3 1-.1 1-.3 1 .7 1-.4 1 .9 1-.4 1-.2 1 0 1 .6 1-.6 1 .2 1 .2 1-3.4 1 .7 1 2.4 1-.1 1 .7 1-.4 1 0 1 .4 1-.3 1-.2 1 .1 1-.3 1 .4 1 0 1 .6 1-.6 1 .1 1-.1 1 0 1-.2 1 .7 1-.2 1 0 1-.3 1-.2 1 .1 1 .7 1-.7 1 .5 1-.1 1 .5 1-.4 1-.5 1 .2 1 .1 1-.6 1 1.1 1-.3 1 .3 1 0 1-.5 1 0 1-.3 1 .9 1-.5 1-.1 1 2.5 1 .3 1-2.6 1-.1 1 .5 1-1 1 .8 1 0 1-.8 1 1.1 1-.4 1 0 1-.3 1-.2 1 .1 1 .5 1-1 1 1.3 1-.9 1 .5 1-.2 1 0 1 .1 1-.3 1 .8 1-.5 1-.3 1 .3 1-.1 1 .5 1-.8 1 .3 1-.3 1 .5 1-.5 1 .3 1 .8 1-.3 1-1.4 1 1.1 1-.8 1 .4 1 .6 1-.8 1 .2 1-.1 1 .8 1-.8 1-.1 1 .2 1 .2 1 .2 1 0 1-.4 1 .4 1-.4 1 .1 1-.1 1 .3 1-.4 1 .8 1-1.3 1 1.1 1-.4 1 .3 1-.4 1-.1 1-.3 1 .4 1 .2 1-.2 1-.6 1 1.1 1 .5 1-1.1 1 .3 1-.2 1 .5 1-.6 1 .2 1 0 1-.1 1-1.5 1-1.1 1 1 1-.6 1 1.9 1 .9 1-.6 1 .8 1-.4 1-.6 1 .4 1-.5 1 .3 1 .4 1-.4 1-2.2 1-.1 1-.2 1 2.3 1-.2 1 .1 1-1.2 1 .6 1 2.1 1 .7 1-2.6 1-.1 1-.5 1 .3 1 .2 1-.3 1-.4 1-.3 1 .6 1-.7 1 .4 1-.3 1-.5 1 0 1-.5 1 .3 1-.4 1-.4 1-.7 1 0 1-.6 1 0 1-1.1 1 .3 1-.7 1-1.9 1-.4 1-1 1-1.6 1-2 1-2.5 1-3.1 1-4.5 1-5.8 1-8.4 1-11.9 1-15.8 1-23.5 1-32.2 1-34 1-27.5 1-10.9 1 6.1 1 18 1 26.3 1 31.8 1 27.4 1 20.4 1 16.6 1 11.1 1 7.5 1 6.4 1 4.5 1 1.6 1 2.7 1 2.1 1 1.3 1 1.3 1 .5 1 1.3 1 1.3 1 .3 1 .1 1 0 1 .1 1 1.2 1-.7 1 1 1 .2 1 .6 1-.2 1 .3 1-.2 1 .3 1 .2 1-.2 1 .2 1 .4 1 .2 1 .2 1 0 1 .4 1-.4 1 .2 1 .5 1-.4 1 .3 1-.2 1-.5 1 .4 1 .2 1-.7 1 1.2 1 .3 1-.4 1-3.4 1 0 1 .1 1 3.4 1 0 1-.6 1 .2 1 .7 1-.8 1 .3 1 .4 1-.6 1 .1 1 0 1 .4 1 0 1-.6 1 .1 1 .1 1 .1 1 0 1 .2 1 .1 1 .4 1-.5 1-.2 1 .2 1 0 1-.4 1-.1 1 .3 1-.1 1-.7 1 .7 1 .4 1-.2 1-.5 1 .4 1 .2 1-.5 1 .7 1 0 1-.4 1-.5 1 .2 1-.2 1 .3 1 .4 1 .2 1-.8 1 .5 1-.3 1 .6 1-1.3 1 .8 1-.5 1-.1 1 0 1-.3 1 .5 1-.8 1-.1 1-.3 1 0 1 0 1 .2 1-1.5 1 .8 1-1.4 1-.8 1-.7 1-1.3 1-1.5 1-2.5 1-4.3 1-4.4 1-7.8 1-8.6 1-9.7 1-7.1 1-3 1 1.6 1 4.9 1 6.6 1 8 1 8.4 1 7.1 1 4.6 1 3.3 1 2 1 2.1 1 2 1 .2 1 .8 1 .8 1 0 1 .5 1 .5 1 .3 1-.6 1 .3 1 1 1-.2 1-.1 1 .1 1 .1 1-.1 1 0 1 .2 1 .1 1-.3 1-.8 1-1.3 1-1.8 1-2.4 1-1.6 1 .4 1 .5 1 .7 1 1.6 1 1.1 1 2.1 1 .5 1 .7 1 .4 1 0 1 .7 1-.5 1 .3 1-.2 1-.4 1 .2 1-.1 1 .2 1-.9 1 .4 1 0 1 .2 1-.7 1-.8 1-.3 1 .4 1 0 1-.8 1-.1 1-.1 1-.8 1 .2 1 0 1-.6 1 0 1-.8 1 .3 1-1.1 1-.1 1 .3 1-.7 1-.4 1-.6 1-.3 1-.5 1 .5 1 .2 1-.9 1-.6 1 .1 1 0 1 .7 1-.8 1-.2 1 .1 1-.1 1 .3 1 .1 1-.7 1 1.2 1 .5 1-.2 1 .2 1 2.9 1 .6 1 .8 1-2.4 1-.2 1 .5 1 1 1-.8 1 .5 1 0 1 .6 1 1.2 1 .1 1-.5 1 .4 1 1 1-.3 1-.1 1 .3 1 .8 1-.3 1 .9 1-.3 1 .1 1 .2 1 .5 1-.3 1 1 1-1 1 .5 1-.4 1 .3 1 .4 1 0 1 .3 1-.2 1-.1 1 .5 1-.4 1 .4 1 .1 1-.8 1 .6 1 .4 1 .2 1-.2 1-.3 1 .2 1 0 1-.1 1-.7 1 .2 1 .4 1-.1 1 .2 1 .1 1-.2 1 2.7 1 .3 1-.7 1-1.9 1-.4 1-.2 1 .6 1 0 1-.3 1 .8 1-.8 1 .2 1 .1 1-.2 1 .4 1-.1 1 .2 1-.3 1 0 1 .5 1-.3 1-.2 1 .1 1-.4 1 .3 1 .5 1-.4 1-.1 1 .6 1-1 1 .7 1-.2 1-.2 1 .6 1-1 1 .7 1 .1 1-.4 1 2.9 1-.4 1-.2 1 .6 1-2.9 1 .5 1 0 1-.3 1 0 1 .5 1-.6 1 .4 1-1.9 1-.8 1 .3 1 1.9 1-2 1-.3 1 2.8 1-.6 1 0 1 0 1 .1 1 .2 1-.4 1-.1 1 .6 1-.3 1-.1 1 .7 1-.4 1-.2 1 .4 1-.1 1 .1 1-.2 1-.5 1 .9 1-.1 1-.4 1-.3 1 .6 1 .3 1-.2 1-.7 1 0 1 .5 1-.3 1 .1 1-.6 1-2.1 1 0 1-.4 1 1.6 1-1.5 1-3 1-4.7 1-1.9 1 1.6 1 1.9 1 1.2 1 .1 1 2.4 1 1.7 1 1.8 1 .8 1 1 1-.5 1 .6 1 0 1-.4 1-.4 1 .9 1 .1 1-1.1 1 1.2 1-.5 1 .1 1 0 1 .3 1-.4 1 .2 1-.3 1 .3 1 0 1 .2 1-.1 1-.6 1 .3 1 .1 1 .5 1-.6 1 .9 1-.9 1 .2 1-.1 1 .1 1-.3 1 .2 1-.1 1 .1 1-.2 1 .6 1 .1 1-.3 1 .4 1-.4 1 .1 1 .4 1 .4 1-.6 1-.1 1 0 1-.1 1-.1 1 .2 1-.4 1 .2 1 .4 1-.7 1 .3 1-.1 1 .4 1-.1 1 0 1-.3 1-.4 1 .3 1-.1 1 0 1 .5 1-.4 1 .3 1-.5 1 .1 1 .7 1-.8 1 .1 1-2.2 1-.2 1 3 1 0 1 .2 1-.6 1-.3 1 .7 1 0 1 .3 1-.7 1-.5 1 .6 1 .5 1-.2 1-.5 1 .2 1-.4 1 .3 1 .7 1-.3 1-.7 1 .1 1-.5 1 .5 1 .7 1-.5 1 .7 1-.1 1-.1 1-.6 1 .4 1-.1 1-.7 1 .8 1-.5 1 .2 1 .4 1-.2 1-.2 1 .2 1 .3 1-.2 1 .2 1-.2 1 2.8 1-.9 1-2.2 1 .4 1-.5 1-.4 1 .6 1 0 1 0 1 .6 1-.1 1-.6 1 .6 1-.1 1-.3 1-.3 1 .2 1 .1 1-2 1-.4 1 .8 1 .9 1 .5 1 .3 1 .1 1-.5 1 .3 1-.8 1 .6 1 .2 1 0 1-.3 1 0 1 .2 1-.6 1 .7 1 0 1-.4 1 .1 1 0 1 .3 1-.5 1 .5 1-.6 1 .1 1-.2 1 .1 1 .5 1 0 1-.3 1 .5 1-.6 1 .4 1 .2 1-.6 1 .2 1-.3 1 .5 1-.3 1-.2 1-.4 1 .4 1-.3 1 .4 1-2.4 1-.2 1-.1 1 2.1 1 .2 1-.2 1-.4 1 .3 1-.5 1-.2 1 .6 1-.2 1-.5 1-.2 1-.4 1 .6 1-1.1 1-.5 1-.4 1-.7 1-.5 1-1.8 1-.6 1-1.2 1-2.7 1-2.5 1-5.3 1-7.6 1-10.4 1-15.9 1-18.9 1-18.6 1-6.8 1 5.4 1 10.3 1 7.3 1 5.7 1 8.1 1 12.9 1 12.2 1 9.8 1 7.1 1 4.8 1 3.4 1 1.6 1 1.7 1 1.6 1 .5 1 .8 1 .3 1 .5 1 .7 1-.1 1 .8 1-.2 1 .7 1-.5 1 .6 1 0 1 .6 1 .1 1-.4 1 .3 1 .1 1 .5 1-.6 1-.2 1-.2 1 1.2 1-.5 1 .3 1-.2 1-.2 1-.1 1 .2 1-.1 1-.5 1 .6 1-.1 1 .5 1-.7 1 .2 1 .2 1 .4 1-.2 1 .2 1 0 1-.3 1 0 1-.1 1 0 1 .2 1 .1 1-.2 1 .5 1-.3 1-.4 1 .2 1 .1 1 .4 1-.3 1-.6 1 .7 1 .5 1-.4 1-.6 1 .3 1-.5 1 .2 1 .2 1 .2 1 .4 1 0 1-.9 1-.1 1 .6 1-.4 1-.2 1-.4 1-.4 1 0 1-.4 1-.6 1-1.4 1-1.1 1-1.7 1-2.5 1-5 1-2.4 1-2.8 1-.9 1 2 1 .1 1 1.9 1 1.2 1 2.2 1 1.4 1 2.5 1 2.3 1 2.2 1 .7 1 .9 1 .3 1 .8 1 .6 1 .9 1-.9 1 .7 1 0 1 0 1-.3 1 .2 1 .6 1-.1 1-.4 1 .7 1-.6 1 .5 1-.1 1 .7 1-.5 1-.1 1 .1 1-.2 1 0 1 .1 1 .2 1-.1 1-.2 1 .6 1-.7 1-.1 1 .2 1 .1 1-.3 1 .3 1 .6 1-1.2 1 .4 1 .2 1 .2 1-.2 1-.2 1-.2 1 3 1-.1 1-2.6 1 0 1-.3 1 .6 1 .3 1-.6 1 0 1 .3 1-.1 1-.1 1 0 1-.2 1 .1 1-.1 1 .7 1-.1 1 .3 1-.8 1-.1 1 .1 1-.2 1 .6 1-.5 1 .2 1 .2 1-.1 1 .2 1-.3 1-.3 1 .4 1 .2 1-.5 1-.1 1 .5 1-.6 1 .3 1 0 1-.2 1 .2 1 0 1 .2 1-.3 1 0 1-.2 1 .1 1-.4 1 .5 1-1.1 1 .1 1 .7 1-.3 1-.2 1 .3 1-.4 1-.4 1-2 1-.2 1-1.4 1-1.5 1-2.6 1-1.5 1-1.3 1 .1 1 .2 1 .4 1 .8 1 1.3 1 .5 1 1.6 1 1.3 1 .6 1 1.3 1 .2 1 .7 1 .8 1 .6 1-1 1 .6 1-.7 1 .3 1-.2 1-.3 1-.2 1 .1 1 .4 1-.4 1 .5 1-.4 1-.3 1 .2 1 0 1-.3 1 .2 1 .7 1 .1 1 2 1 .7 1 .1 1-2.4 1-.4 1 .3 1 .2 1 0 1-.4 1-.1 1 1.2 1-.9 1 1.3 1-.6 1-.1 1 .1 1 .6 1 .4 1-.6 1 .1 1 .5 1 .1 1 .3 1 0 1-.5 1 .8 1-.7 1 .7 1-.1 1-.4 1 0 1 .4 1 .2 1-.5 1 .4 1-.1 1 .4 1-.5 1 .3 1-.3 1-.3 1 .1 1-.4 1 .6 1 .6 1-.5 1 0 1-.3 1 0 1 .4 1-.1 1-.6 1 .4 1 .3 1-.1 1-.4 1 .7 1-.6 1-.2 1-.2 1 .6 1 2.2 1-.1 1-2.6 1 .2 1-.4 1 0 1 .1 1 .9 1-.5 1-.5 1 .4 1-.6 1 .1 1 .3 1 0 1-.4 1 0 1-.4 1 0 1-.2 1-.3 1-.7 1-.1 1-.3 1 2.7 1-1.7 1-1.3 1-5.2 1-2.4 1-4.4 1-5.1 1-4 1-2.4 1 .3 1 3 1 2.2 1 1.3 1 .6 1 1.6 1 3.1 1 2.8 1 2.5 1 2.3 1 2.1 1 .5 1 1.4 1 .8 1-.1 1 .7 1 .5 1-.3 1 .2 1 2.5 1-.4 1 .7 1-.1 1-2.2 1-.1 1 .4 1-.3 1 .3 1-.2 1 .2 1 0 1 .3 1 .1 1 .2 1-.7 1 .3 1 .1 1-.2 1-.4 1 .2 1 .8 1-.4 1 .2 1-.7 1-.1 1 .3 1 .7 1-.6 1 .4 1-.7 1 .3 1 .6 1-.6 1 .2 1-.1 1 .8 1-.6 1 .1 1 0 1-.3 1 .6 1-.6 1 .5 1 .1 1-.4 1-.3 1 .1 1 .4 1-.2 1 0 1-.2 1-.1 1 .5 1-.5 1 .6 1-.7 1 .2 1 .3 1-.7 1 1.4 1-.6 1-.6 1-.1 1 .5 1-.4 1 .9 1-.8 1 .3 1 .5 1-1 1 .7 1-.9 1 .7 1-.6 1-.6 1 .5 1-.7 1 .7 1-.3 1-1 1 .7 1-.4 1-1.1 1-.9 1-1.6 1-.9 1-3.2 1-2.7 1-2.3 1-2.1 1-.3 1 .2 1 1.8 1 1 1 .8 1 1.1 1 1 1 1 1 1.5 1 2.2 1 1.1 1 1.1 1 .6 1 1.1 1-.1 1 .9 1-1 1 1.1 1-.5 1 .1 1 0 1 .1 1-.4 1-.5 1-.3 1-.4 1-.5 1-1.6 1-1.3 1-1.9 1-1.3 1-2.4 1-2.6 1-2.1 1 .3 1 .1 1 1.4 1 1.2 1 1 1 1.3 1-1 1 .3 1 .9 1 4.1 1 1.7 1 1.3 1 1.4 1 1.1 1-.5 1 .8 1 .3 1 .2 1 .3 1-.3 1-1.4 1-.1 1-.1 1 2.3 1 .3 1-.6 1 .5 1 .2 1-.4 1 .3 1-.3 1 .4 1-.3 1 .4 1-.3 1 .6 1-.2 1-.7 1 .4 1 .4 1 0 1 .6 1-.8 1 0 1 .1 1 .5 1-.5 1-.3 1 .3 1-.5 1 .6 1-.4 1-.1 1 .2 1-.3 1 .5 1 .8 1-.7 1-.4 1 .9 1-.6 1 .1 1 0 1 0 1 .3 1-.2 1-.3 1 .6 1-.3 1 .1 1 0 1-.3 1-.3 1 .4 1 .4 1-1.1 1 .5 1-.5 1 0 1 .4 1 .3 1-.2 1 .1 1 .3 1-.6 1-.1 1 .2 1 .2 1-.1 1 .3 1-.3 1 .6 1-.1 1-1 1 .8 1-.4 1-.2 1 .6 1-.3 1 .4 1-.2 1 .4 1-.1 1-.2 1-.3 1-.4 1 .2 1 .1 1-.3 1 .9 1 .1 1-.3 1 .4 1-.6 1 .1 1 .2 1-.5 1 .6 1-.3 1-.3 1 .2 1-.1 1-.3 1 .7 1-.2 1-.2 1 .1 1 .4 1-.1 1-.4 1 .3 1 0 1 .1 1 0 1 .5 1-.5 1-.4 1 .3 1-.3 1 .4 1-.4 1 .1 1-.1 1 .6 1 .1 1-.5 1-.2 1-.1 1-.2 1 .7 1-.1 1-.6 1 .5 1-.2 1 0 1-.2 1 .6 1 .1 1-.7 1 .5 1 .1 1-.6 1 .3 1 0 1-.2 1 .8 1-.7 1-.1 1 .3 1-.9 1 .6 1 .1 1 .2 1 .2 1-1 1 .4 1 0 1-.4 1-.1 1-.4 1-.1 1-.4 1-.4 1-.3 1-1 1-1 1-1.3 1-.9 1-1.8 1-1.7 1 0 1-.8 1 .7 1 0 1 1 1 .9 1 .2 1 .2 1 1.3 1 .2 1 1.7 1 .3 1 1 1 .8 1 1.1 1-.2 1 .5 1 .5 1 .4 1-.7 1 .3 1 .1 1-.2 1 .9 1-.3 1 .4 1 1.4 1 .3 1-.1 1-1.9 1 0 1-3.2 1 .8 1 .1 1 1.9 1 .8 1-.2 1-.5 1 .4 1 .6 1-.7 1-.2 1 .6 1 .2 1-.8 1 .8 1-.4 1 0 1-.1 1 .2 1 .3 1-.2 1-.6 1 .8 1-.7 1-.2 1 1 1-.8 1 0 1 .1 1 .5 1-.7 1 1.1 1-.6 1-.2 1-.5 1 .4 1 .4 1-.3 1 .9 1-.6 1 0 1 .3 1 2.7 1 .3 1-3.4 1-.1 1 .4 1-.2 1-.2 1 .5 1-.7 1 0 1 .1 1 .1 1 2.8 1 .4 1-.4 1-.1 1-2.8 1 .3 1 .1 1 .3 1-.9 1 .1 1 .5 1-.2 1-2.5 1 .2 1 .1 1 2.7 1-.3 1 0 1-.4 1 .5 1-.6 1 .4 1 .2 1-.4 1 .2 1 .3 1-.4 1 0 1-.1 1 .5 1-.6 1-.8 1 .8 1 .5 1 .2 1-.4 1 .2 1-.1 1-.6 1 .6 1-.7 1 .6 1-.5 1 .5 1-1.1 1 .8 1 .6 1-.7 1 .6 1-.3 1 .1 1-.5 1 1.1 1-.5 1 .3 1-.2 1 .1 1-.3 1 .2 1 .2 1-.5" fill="none" stroke="#000000" stroke-width="3.8" stroke-linejoin="round"/>
<path d="M724.0,1527.7 L724.0,1526.3 L725.0,1491.1 L726.0,1450.8 L727.0,1416.7 L728.0,1404.8 L729.0,1416.9 L730.0,1449.3 L731.0,1486.5 L732.0,1521.1 L732.0,1522.5 L728.0,1507.1 Z" fill="#000000"/>
<path d="M975.0,1529.2 L975.0,1527.8 L976.0,1495.6 L977.0,1461.6 L978.0,1434.1 L979.0,1423.2 L980.0,1429.3 L981.0,1447.3 L982.0,1473.6 L983.0,1505.4 L984.0,1532.8 L984.0,1534.2 L979.5,1517.2 Z" fill="#000000"/>
<path d="M1108.0,1598.5 L1108.0,1597.1 L1109.0,1589.3 L1110.0,1580.7 L1111.0,1571.0 L1112.0,1563.9 L1113.0,1560.9 L1114.0,1562.5 L1115.0,1567.4 L1116.0,1574.0 L1117.0,1582.0 L1118.0,1590.4 L1119.0,1597.5 L1119.0,1598.9 L1113.5,1588.5 Z" fill="#000000"/>
<path d="M1582.0,1581.2 L1582.0,1579.8 L1583.0,1563.9 L1584.0,1545.0 L1585.0,1526.4 L1586.0,1519.6 L1587.0,1525.0 L1588.0,1535.3 L1589.0,1542.6 L1590.0,1548.3 L1591.0,1556.4 L1592.0,1569.3 L1593.0,1581.5 L1593.0,1582.9 L1587.5,1567.0 Z" fill="#000000"/>
</g>
<g id="dashes" fill="none">
<polyline points="635.8,438.0 636.1,1613.0" stroke="#b4acac" stroke-width="2.6" stroke-dasharray="10.6 11.3"/>
<polyline points="633.0,438.0 633.4,1613.0" stroke="#2c3232" stroke-width="3" stroke-dasharray="10.6 11.3"/>
<polyline points="865.0,425.0 865.0,682.0" stroke="#000" stroke-width="3.0" stroke-dasharray="10.6 11.3"/>
<polyline points="939.0,421.0 939.0,672.0" stroke="#000" stroke-width="3.0" stroke-dasharray="10.6 11.3"/>
<polyline points="1010.0,363.0 1010.0,486.0" stroke="#000" stroke-width="3.0" stroke-dasharray="10.6 11.3"/>
<polyline points="1205.2,428.0 1206.0,1608.0" stroke="#b4acac" stroke-width="2.6" stroke-dasharray="10.6 11.3"/>
<polyline points="1202.5,428.0 1203.2,1608.0" stroke="#2c3232" stroke-width="3" stroke-dasharray="10.6 11.3"/>
<polyline points="1370.0,440.0 1369.0,712.0" stroke="#000" stroke-width="3.0" stroke-dasharray="10.6 11.3"/>
<polyline points="1678.4,437.0 1678.4,713.0" stroke="#000" stroke-width="3.0" stroke-dasharray="10.6 11.3"/>
<polyline points="1855.8,437.0 1855.8,716.0" stroke="#000" stroke-width="3.0" stroke-dasharray="10.6 11.3"/>
<polyline points="2037.7,437.0 2038.5,722.0" stroke="#000" stroke-width="3.0" stroke-dasharray="10.6 11.3"/>
<polyline points="2085.0,437.0 2085.0,720.0" stroke="#000" stroke-width="3.0" stroke-dasharray="10.6 11.3"/>
<polyline points="2167.0,440.0 2167.0,737.0" stroke="#000" stroke-width="3.0" stroke-dasharray="10.6 11.3"/>
<polyline points="2334.0,440.0 2334.0,737.0" stroke="#000" stroke-width="3.0" stroke-dasharray="10.6 11.3"/>
<polyline points="726.0,937.0 728.0,1410.0" stroke="#000" stroke-width="3.0" stroke-dasharray="10.6 11.3"/>
<polyline points="979.4,919.0 979.4,1423.0" stroke="#000" stroke-width="3.0" stroke-dasharray="10.6 11.3"/>
<polyline points="1115.7,976.0 1115.7,1048.0 1113.4,1052.0 1113.4,1559.0" stroke="#000" stroke-width="3.0" stroke-dasharray="10.6 11.3"/>
<polyline points="1585.5,955.0 1587.6,1520.0" stroke="#000" stroke-width="3.0" stroke-dasharray="10.6 11.3"/>
<polyline points="1684.0,985.0 1684.0,1598.0" stroke="#000" stroke-width="3.0" stroke-dasharray="10.6 11.3"/>
<polyline points="1806.6,990.0 1806.6,1064.0 1804.5,1068.0 1802.6,1606.0" stroke="#000" stroke-width="3.0" stroke-dasharray="10.6 11.3"/>
<polyline points="1929.4,983.0 1929.0,1591.0" stroke="#000" stroke-width="3.0" stroke-dasharray="10.6 11.3"/>
<polyline points="2039.5,985.0 2039.8,1601.0" stroke="#000" stroke-width="3.0" stroke-dasharray="10.6 11.3"/>
<polyline points="2073.6,985.0 2073.6,1601.0" stroke="#000" stroke-width="3.0" stroke-dasharray="10.6 11.3"/>
<polyline points="2267.0,990.0 2264.6,1607.0" stroke="#000" stroke-width="3.0" stroke-dasharray="10.6 11.3"/>
</g>
<g id="curve-top">
<path d="M157,1239.3l1-.1 1-.3 1 .2 1-.4 1 .7 1-.3 1 0 1-.2 1 .6 1-1 1 .3 1 .3 1 0 1 .1 1-.3 1-.5 1 .1 1 0 1 .2 1 .5 1-.6 1 .4 1 .5 1-.5 1-.2 1 .1 1-.2 1-.3 1 .6 1-.4 1 .3 1-.2 1 .2 1 .2 1-.1 1 .4 1-.4 1-.3 1 .5 1-.4 1 .3 1-.2 1 .3 1 .1 1-.4 1-.2 1 .4 1-.1 1 .1 1-.2 1 .4 1-.4 1-.3 1 .8 1-.7 1 0 1 .4 1-.2 1-.3 1 .3 1 .7 1-.7 1 .1 1 .1 1 0 1-.6 1 .8 1-.5 1 .2 1-.1 1-.2 1-.1 1-.1 1 .2 1-.1 1 .3 1 .4 1 0 1-.2 1 .3 1-.1 1 0 1-.8 1 .5 1-.4 1 .3 1 0 1-.4 1 .4 1 0 1 .5 1-2.9 1-.9 1 .1 1 3.4 1-.1 1-.1 1 .2 1-.7 1 .7 1-.5 1-.1 1 .6 1-.6 1-.4 1 1.4 1-.5 1-.3 1 .2 1 0 1 .6 1-.3 1-.6 1 .1 1-.2 1 .5 1 .4 1-.4 1 .2 1-.6 1 .1 1-.4 1 .6 1-.1 1 0 1 .4 1-.5 1 0 1-.1 1 .5 1-.3 1 0 1 .1 1 .2 1-.4 1 0 1 0 1-.1 1 .2 1 0 1 .1 1 .1 1 .1 1-.1 1-.3 1 .7 1-.1 1-.3 1-.2 1 .2 1 .4 1-.4 1-.3 1 .6 1-.6 1 .3 1-.1 1 .3 1-.2 1 0 1 .2 1-.5 1 1 1-1.4 1 1.1 1 .1 1 1.8 1-.4 1-1.8 1 .3 1-.3 1 .1 1-.1 1 .4 1 .4 1-1.1 1 .7 1-.7 1 .7 1-.3 1-.3 1 .6 1-.1 1 0 1 .2 1 0 1-.1 1 0 1 0 1-.6 1 .4 1-.4 1 .6 1 .1 1 .1 1 .6 1-1 1-.2 1-.2 1 .3 1 .4 1-.6 1 .4 1 .3 1-.1 1 0 1 .4 1 .1 1-.4 1 .3 1-.1 1-1 1 .7 1-.4 1 .8 1-.7 1 .2 1 .3 1 .1 1 .2 1-1 1 1 1-.2 1-.4 1-.1 1 .3 1-.1 1 .4 1-.4 1 .3 1 0 1 .1 1-.6 1 .8 1-.2 1-.4 1 .6 1-.1 1-.2 1 .2 1 .3 1-.4 1 .1 1-.5 1 .5 1-.1 1 .8 1-1.2 1 .5 1-.2 1 .1 1 .4 1-.1 1-.4 1 .1 1 .1 1 .6 1-.1 1-.3 1-.8 1 .5 1 .3 1-.2 1 .1 1-.3 1 1 1 .1 1-.6 1 .1 1 .1 1-.1 1-.3 1-.1 1 .3 1-.4 1 .6 1 0 1-.3 1 .6 1-.3 1-.4 1 .7 1-.3 1 .2 1-.4 1-.1 1 .7 1-.2 1-.3 1-.4 1 .9 1 0 1-.2 1 .3 1-.7 1 .1 1-.4 1 .5 1 .2 1-.2 1 .3 1-.9 1 .9 1-.5 1-.1 1 .2 1 .1 1 .1 1 .3 1-.4 1 .7 1-.1 1-.4 1 .6 1-1 1 .4 1 .1 1 .3 1 .4 1-1.4 1 .2 1 .3 1 .3 1 .6 1-.5 1 0 1-.4 1 .1 1 .2 1 0 1-.2 1 .2 1 .4 1-.3 1-.3 1 .2 1 .1 1-.1 1 .5 1-.7 1-.3 1 .3 1-.1 1 0 1 1 1 2.2 1-.7 1 .2 1-2.3 1 .5 1-.3 1 .9 1-.6 1-.2 1 .1 1 .3 1-.8 1 .5 1-.4 1-2.9 1 .5 1 .3 1-.1 1 2.6 1-.4 1 .7 1 0 1-.9 1 .2 1 .6 1-.6 1 .2 1-.1 1-.2 1 0 1 .3 1 .1 1 .1 1 0 1-.5 1 1 1-.2 1 0 1-2.4 1-.7 1 1.2 1 2.5 1-1.1 1 .6 1-.2 1 .1 1 .3 1-.1 1 .1 1-.1 1-.3 1-.4 1 .1 1 .5 1-.1 1-3.1 1 .7 1 2.5 1-1.1 1 1.2 1-2.4 1-.2 1 .5 1 .3 1 1.2 1 1.1 1-.3 1 0 1-.7 1 .4 1-.6 1 .9 1 0 1-.3 1 .7 1-.6 1 .5 1-.7 1-.1 1-.4 1 .7 1-.1 1 .2 1-.1 1 .2 1-.4 1 .3 1 .1 1-.2 1 .1 1-.4 1 .2 1 .5 1 .2 1-.2 1-.7 1 .5 1-.1 1-.2 1 .7 1-.2 1-.3 1-.3 1 .3 1 .3 1-.2 1 .1 1-.4 1 .1 1 .7 1-.4 1-.4 1 1.1 1-.8 1 0 1-.1 1 .1 1 .5 1-.3 1 .5 1-.4 1 .4 1-.7 1 .2 1 .2 1-.1 1 0 1 .1 1-.4 1 .5 1-2.7 1 .1 1 .2 1 2.1 1 0 1 .7 1-1 1 .4 1 .7 1-.6 1 0 1 .3 1-.2 1 .3 1-.3 1-.1 1 .5 1-.6 1 0 1 .2 1 .6 1-.6 1 .1 1-.5 1 .8 1-.2 1 .1 1 0 1-.1 1 0 1 0 1-.4 1 0 1 .1 1 .5 1-.2 1-.1 1-.7 1 .5 1 .5 1-.2 1-.4 1 0 1 .8 1-.5 1 0 1-.4 1 0 1 .5 1 0 1 .4 1-.2 1-.4 1-.1 1 .4 1 .6 1-.2 1-.6 1 .1 1-.1 1 .1 1-.5 1 0 1 .7 1-.9 1 .4 1-.3 1 .1 1 .8 1-1.2 1 .8 1-1.3 1 1 1 .3 1-1 1 .3 1 .1 1-.3 1 .1 1-.8 1 .6 1-.1 1-.5 1-1.3 1 .3 1-.4 1-.2 1-1 1-.9 1-1.4 1-1.1 1-2.3 1-2.7 1-3.7 1-6.3 1-10.5 1-18.1 1-36.9 1-54.2 1-60 1-14 1 27.4 1 39.2 1 48.8 1 38.8 1 23.5 1 13.3 1 7.3 1 4.8 1 3 1 2.4 1 1.7 1 1.1 1 .8 1 .6 1 .9 1 .5 1 .2 1 .2 1 1 1-.6 1 .6 1 0 1 .1 1 .4 1 0 1 .2 1-.2 1 .4 1 .6 1-.5 1 .1 1 .3 1-.9 1 .4 1 .3 1 .2 1 .1 1 .4 1-.1 1-.4 1 .2 1-.1 1 .4 1-.2 1 .1 1-.1 1 .2 1 .2 1-.1 1 .9 1-.6 1-.7 1-.3 1 .4 1 .2 1 0 1 .3 1-.3 1 .2 1 2.2 1 .1 1 .2 1-.1 1-2.4 1 .2 1-.4 1 .2 1-.1 1-.5 1 .5 1-.5 1 0 1 .6 1-.1 1-.1 1 .3 1-.4 1-.3 1 .5 1-.7 1 .7 1-.1 1 .4 1-.5 1 .1 1 2.4 1 .4 1-.8 1-1.9 1-.3 1 0 1 .2 1-.2 1 0 1 .1 1-.1 1 0 1 .5 1-.8 1-.3 1 1 1-.4 1 .6 1 .2 1-.1 1-.3 1-.5 1 .9 1-.5 1 .5 1-.5 1 .1 1-.4 1 .2 1 .5 1-.4 1 .6 1-3 1 .5 1 0 1 2 1-.2 1-.1 1-.2 1 .1 1 .6 1-.2 1-.4 1 0 1-.3 1 .6 1 .2 1-.4 1-.3 1 .2 1 .6 1-.2 1-.3 1-.1 1 .2 1 0 1 .2 1-.2 1 .2 1-.7 1 .5 1 0 1 .2 1 0 1 2.9 1-.3 1 .5 1-3.3 1-.3 1 .4 1 .1 1-.4 1 .4 1 .3 1-.4 1-.7 1 1 1-.6 1 .5 1 0 1-.2 1 .3 1 0 1 .2 1-.2 1-.7 1 .1 1 .3 1-.5 1 .7 1-.1 1-.2 1 0 1 .5 1-.2 1-.1 1-.4 1 0 1 0 1 .8 1 .5 1 .5 1 .2 1-.3 1 .3 1-2.3 1 2.7 1 .5 1-.5 1-2.9 1 .6 1 .1 1-.3 1 .8 1-1 1 .2 1 .3 1 0 1-.2 1-.2 1-.6 1 1.1 1-.4 1-.2 1 .6 1-.6 1-.1 1-.2 1 .5 1-.5 1-.1 1 .1 1 2 1-.7 1 1 1-1.7 1-.8 1 .1 1-.2 1 .5 1-.1 1-.3 1-.8 1 .1 1 .2 1-.7 1-.6 1 .3 1-.6 1 .8 1-1.7 1-.3 1-.7 1 .2 1-1.4 1-1.1 1-2.1 1-2.6 1-3 1-4.9 1-8.4 1-15.7 1-25.2 1-40.5 1-44.7 1-14.8 1 14.8 1 18.2 1 26.1 1 32.3 1 29.2 1 17.3 1 9.8 1 5.5 1 4.5 1 1.7 1 1.4 1 2.5 1 .1 1 .9 1 1.2 1 .6 1-.4 1 1.1 1 0 1 .3 1 .1 1-.9 1 .1 1-1.3 1-.2 1-1.1 1 0 1-.5 1 .2 1 1.7 1 .4 1 1.4 1 .6 1 .1 1 .8 1-.1 1 0 1 .2 1 .2 1 0 1-.8 1 .1 1 .6 1-.4 1 .8 1-.5 1 .3 1-.3 1 .7 1-.3 1-.3 1 .5 1 .4 1-1.4 1 1 1-2.9 1 .5 1 0 1-.1 1 2 1 .7 1 0 1-.6 1 .5 1-.5 1-.1 1 .5 1 .1 1 .2 1-.4 1 2.5 1-.5 1 .4 1-2 1-.1 1 2.1 1 .7 1-3 1 .2 1-.5 1 .3 1-.4 1 .3 1 .1 1-.2 1-.5 1 .6 1 .2 1-.2 1 .2 1 0 1-.2 1 .1 1 .1 1-.3 1 .5 1-.6 1 .3 1-.1 1-.7 1 .4 1-.2 1 .4 1 .1 1-.3 1 .2 1-.7 1 .6 1 .1 1 .1 1-.1 1-.7 1-.2 1 .5 1 .5 1-.8 1-.2 1 .1 1-.4 1 .2 1-.4 1-.3 1-.4 1-.3 1-.9 1-1 1-1.1 1-2.6 1-4.2 1-6.7 1-10.4 1-12.3 1-8.8 1 2.3 1 6 1 5.2 1 7 1 9.4 1 6.5 1 5.1 1 2.8 1 1.7 1 .8 1 1 1 0 1 .8 1-.2 1 .9 1-.2 1 .1 1 .4 1 .2 1 .1 1 .2 1 .1 1 .1 1 0 1-.4 1 .4 1-.7 1 .6 1-.6 1 .7 1-.3 1 .7 1-.7 1 0 1-.1 1-.6 1-1.4 1-.8 1-.6 1 .4 1 0 1 .7 1 1.1 1 .9 1 1 1-.6 1 .5 1 .4 1-.6 1 .7 1 .3 1-1 1 .1 1 .6 1-.3 1 0 1 .2 1-.3 1-.3 1 .6 1 0 1 0 1 0 1-.1 1-.1 1 .3 1-.1 1-.6 1 .9 1-.7 1 .3 1 .4 1-1 1 .9 1-.1 1 .3 1-.5 1-.2 1 .2 1-.7 1 1 1-.4 1 0 1-.4 1 .3 1 .2 1-.5 1 .7 1-.1 1 0 1-.5 1 .6 1-.2 1 .1 1-.4 1-.2 1-.1 1 3.3 1 .5 1-.8 1-2.8 1 .2 1 .1 1-.5 1 .8 1 .1 1-.4 1 .5 1-.7 1 .1 1 .1 1 .1 1 .1 1-.5 1 .3 1 .5 1-.8 1 .7 1-.5 1 .1 1 .2 1-.1 1 .1 1 .1 1-.5 1 .2 1-.1 1 0 1 .3 1 0 1-.2 1 .6 1 .3 1-3.3 1-.4 1 .4 1 2.4 1-.1 1 .5 1-.5 1 .4 1-.3 1 .2 1 0 1-.1 1-.1 1 .3 1-.2 1-.4 1 .7 1-.4 1 0 1-.1 1 .2 1-.1 1 .1 1 0 1 .3 1 .5 1-1.4 1 .3 1 .5 1-.4 1 0 1 .1 1 .2 1-.2 1 .3 1-.2 1-.5 1 0 1 .6 1-.5 1 .1 1 .8 1-1 1 .4 1 .4 1 .3 1-.2 1-.4 1-2.3 1-.6 1 .4 1 2.9 1-.3 1-.2 1-.2 1 .8 1-.5 1 .2 1-.1 1-.2 1 .3 1-.4 1-.2 1 .4 1-.1 1 .2 1-.4 1 .4 1-.1 1-.2 1 0 1-.2 1 1.3 1 2.2 1 0 1-.1 1-3 1-.2 1 0 1 .4 1-.2 1 .3 1 .2 1-.6 1 .1 1 0 1-.1 1-.2 1 1 1-.5 1 .2 1 0 1-.4 1-.3 1 .6 1-.9 1 .1 1 .4 1-.1 1 .1 1 0 1 .2 1-1 1 .6 1 .2 1 .5 1-.2 1-.7 1 .5 1 .1 1-.4 1 .6 1-.2 1 0 1-.1 1 .1 1 0 1 .1 1 .1 1-.2 1 .2 1 .1 1-.4 1-.1 1 .3 1 .3 1-.7 1 .2 1-.2 1 .5 1 0 1 0 1 .2 1-.5 1 .4 1-.3 1 .1 1-.1 1 .1 1-.6 1 .6 1 1.7 1-.1 1-1.8 1-.2 1 .1 1 .3 1 .1 1-.8 1 .5 1-.1 1 .4 1-.8 1 .5 1-.1 1 .1 1 .5 1-.3 1-.4 1 .1 1 .1 1-.2 1 0 1 .2 1-.1 1 .4 1-.8 1 .5 1 0 1-.4 1 .4 1 .3 1 .3 1-.4 1-.2 1 .1 1 .1 1-3.2 1 .2 1 2.4 1 .5 1 .2 1-.1 1-.1 1 .2 1 0 1-.2 1-.1 1 .2 1-.6 1 .6 1-.6 1-1.8 1-.2 1 1.8 1 .1 1 .3 1-.2 1 0 1 .7 1-.4 1 0 1-.2 1 1.7 1 .2 1-.5 1-.8 1-.4 1 .5 1-.8 1 .1 1 .1 1-.3 1 .7 1-.4 1 .3 1-.6 1 .5 1-.7 1 .7 1-.5 1 .8 1-.2 1-.5 1 .7 1 .3 1 2.2 1-.3 1 .4 1-.5 1-2.6 1 0 1 .3 1-.1 1 .2 1-.4 1 .1 1 0 1 0 1 .5 1-.2 1 0 1-.5 1 .1 1 .3 1 .1 1-.2 1-.7 1 .4 1 .8 1-.3 1 .3 1-1.1 1 1.2 1-.9 1 .4 1 .2 1-.1 1-.7 1 .6 1-.7 1 .7 1 .1 1-.3 1 .5 1-.6 1 .4 1-.1 1-.7 1 .7 1-.4 1 .5 1 0 1-.4 1-.1 1 0 1 .2 1 .2 1-.2 1-.3 1 .2 1 .5 1-.3 1-.3 1 .1 1-.3 1 .4 1-.1 1-.4 1 .9 1-.7 1-.3 1-.1 1 .6 1 .1 1-.7 1 .3 1-.1 1 .1 1 .3 1 0 1 .5 1-.8 1 .2 1-.1 1 .3 1-.4 1-.1 1-.1 1 .1 1 .2 1 0 1-.2 1-.6 1 .4 1-.1 1 .5 1-.4 1-.4 1 .3 1-.5 1-.2 1 0 1 .2 1-.5 1-.4 1-.5 1-.8 1-.3 1-1.1 1 .1 1-1.2 1-2 1-3.1 1-4.3 1-6.1 1-11 1-16.2 1-19.3 1-11.6 1 4.9 1 12.3 1 6.8 1 2.8 1 3.7 1 10.1 1 11.9 1 8 1 5.8 1 3.8 1 2.4 1 1.2 1 .9 1 .3 1 1.8 1-.3 1 1.1 1 .5 1 .3 1-.7 1 .6 1 0 1-.5 1 .5 1-.1 1 .5 1 0 1-.4 1 .5 1 .6 1-.4 1 .9 1-.8 1 0 1 .4 1-.6 1 .8 1-.1 1 .2 1-.1 1 0 1-.1 1-.5 1 .1 1 .5 1 .2 1-.7 1 .5 1 0 1-.2 1-.6 1 .3 1 0 1 .4 1 .2 1-.4 1 .2 1 0 1 .1 1-.1 1 .5 1-.7 1 .5 1-.8 1 .3 1 .3 1-.8 1 .4 1 .1 1-.5 1 1.1 1-.7 1 .2 1-.2 1 .5 1-.7 1 0 1 .5 1-.4 1 .4 1 .1 1-.4 1 .4 1 .1 1-.5 1-.2 1 .1 1-.3 1-.4 1-.5 1 .2 1-.6 1-1.5 1-1.1 1-1.9 1-3.2 1-3.4 1-2.5 1-1.4 1 .7 1 1.9 1 1.4 1 1.2 1 1 1 2.3 1 2.7 1 1.1 1 1.4 1 1.2 1 .6 1 .6 1 .1 1-.3 1 .4 1-.1 1-.1 1 .8 1 .1 1-.6 1 1 1-.9 1 .1 1 .1 1-.2 1 .1 1 .1 1 1.1 1-.8 1 .3 1-.3 1 .2 1 0 1-.3 1 .3 1-.2 1-.5 1-.1 1 .9 1-.2 1-.3 1-.6 1 .9 1-1.7 1-1 1 1.5 1 1.1 1 .3 1 .1 1-.2 1-.1 1 0 1-.1 1-.1 1-.2 1 .3 1 .1 1-.3 1 .1 1 .6 1-.4 1 .8 1-1 1-.1 1 .4 1-.2 1 .3 1-.1 1-.2 1 .3 1 .4 1-1.1 1 .7 1-.5 1 .4 1 .1 1-.2 1-.4 1 .9 1-.3 1-.9 1 1 1-.1 1-.4 1 .7 1-.5 1 .9 1-.9 1-.5 1 0 1 0 1 .6 1 .1 1-.2 1 .1 1-.5 1 .6 1-.4 1-.1 1 .4 1 .3 1-.9 1 .7 1-.3 1 .2 1 .3 1-.3 1 .1 1 2.2 1-.2 1-3.3 1-.2 1-1.4 1-1 1-1.2 1-1.7 1-.2 1 0 1 .5 1 1.2 1-.4 1 1.3 1 .3 1 1.1 1 .6 1 .9 1 .1 1 0 1 .7 1-.3 1-.1 1 .8 1 .6 1-1 1 2.6 1 0 1-.5 1 .8 1-3.1 1 .1 1 .7 1 .1 1-.5 1 0 1 .4 1 .5 1-2.5 1 .4 1-.7 1 2.4 1-.1 1-3 1 .3 1 0 1 .1 1 2.6 1 .1 1-.4 1 .2 1-.2 1 .6 1-.7 1 .6 1 0 1-.4 1-.6 1 .9 1 0 1-.1 1 .1 1-.1 1-.3 1 .7 1-.6 1-.2 1 .5 1-.5 1 .6 1-.5 1 .4 1-.4 1 0 1 .2 1-.1 1-.3 1 .5 1 .1 1-.1 1 .4 1-.9 1 .5 1 .1 1 0 1-.1 1 .2 1 2 1-.1 1-2 1-.3 1-.4 1 2.6 1 0 1 .1 1-.4 1-2.1 1 .3 1 .4 1-.2 1-.4 1-.5 1 1 1-.9 1 .7 1-.5 1 .3 1-.1 1 .3 1 .4 1-.2 1-.3 1-.5 1 0 1 .3 1 .3 1-.4 1 0 1-.3 1-.3 1 3.2 1-.5 1-.3 1 .6 1-3.2 1 .6 1-1.5 1 .4 1-.9 1-.7 1-1.9 1-2 1-3.3 1-2.7 1-2.1 1-.9 1 .7 1 1.1 1 1.8 1 .5 1 1 1 1.3 1 1.8 1 1.7 1 1.3 1 1.5 1 .5 1 1.2 1 .7 1-2.7 1 .3 1 .3 1 2.2 1 .5 1 .9 1-.6 1-.6 1 .1 1 .6 1 0 1-.2 1 0 1 .2 1-.7 1 .7 1 .4 1-.7 1-.1 1 .7 1-.4 1 .3 1-.6 1 .5 1 .1 1-.5 1 0 1 .3 1 .2 1-.5 1 1.9 1 .2 1 .4 1-2.5 1 .2 1 3.2 1 .4 1-.8 1-2.7 1-.2 1 .4 1-.2 1 .1 1 .2 1 .4 1-.8 1 .1 1-.2 1-.3 1 .7 1-.1 1 .2 1-.4 1-.1 1 .2 1 1.7 1 .5 1-.2 1-.2 1-1.9 1 0 1 0 1 .4 1-.8 1 .2 1-.4 1 .4 1 .7 1-.6 1 .2 1-.4 1-.3 1-.1 1 .5 1-.5 1 .8 1-.2 1 .3 1-.3 1-.1 1-.3 1 2.4 1 .2 1-2.3 1-1.1 1 .4 1 0 1-.6 1-.7 1-.8 1-1 1-2.2 1-2.3 1-2.7 1-2.8 1-1 1-1 1 1 1 1.4 1 1 1 1.1 1 .8 1 .8 1 1.5 1 1.7 1 1.7 1 1.5 1 .8 1 .6 1 .8 1 .2 1 .1 1 .2 1 .1 1-1 1 .9 1 .2 1 1.6 1 0 1-.1 1-2.1 1-.8 1-.3 1-.4 1-1.7 1-1.3 1-2.8 1-2.6 1-2.1 1-2.6 1-3.1 1 1.9 1 1 1 1.8 1 2.6 1 1.1 1 .5 1 1.1 1 2.1 1 1.2 1 1.2 1 1.6 1 .3 1 1.1 1 .4 1-.3 1 .5 1 .2 1 .4 1-.3 1 .8 1-.3 1-.1 1-.6 1-2 1-.1 1 .1 1-.1 1 3.1 1-.5 1 0 1 .7 1-.5 1 .2 1 .1 1-.3 1-.4 1 .1 1 .8 1-3.2 1 0 1 2.4 1 .2 1 0 1-.5 1 .7 1 .1 1 0 1 .3 1-.3 1-.6 1-2 1 .3 1-.4 1 2.4 1 .4 1 .3 1 0 1-.8 1 .4 1-.4 1 .6 1-.4 1 .3 1-.4 1 .6 1-.2 1 0 1-.1 1-.2 1 .1 1 .3 1-.1 1-.4 1 .2 1 .5 1-.4 1 .4 1-.5 1 .2 1-.4 1 .4 1-.6 1 .3 1 0 1-.3 1 .8 1-.5 1 .2 1 .3 1-.2 1-.3 1 .4 1-.1 1-.4 1 .7 1-.3 1-.2 1-.1 1 .1 1 .1 1-.2 1 .4 1-.7 1 .5 1 0 1-.1 1 .4 1-.6 1 .1 1 .1 1 .3 1-.3 1 .3 1 .1 1-.2 1-.1 1 0 1-.2 1 .7 1-.5 1 0 1-.6 1 .4 1 .4 1-.3 1 .5 1-.5 1 .5 1-.5 1-.4 1 .6 1-.4 1-.2 1 1.2 1-.2 1-.4 1 .3 1-.6 1-.3 1 0 1 .2 1-.1 1 .8 1-.2 1-.3 1-.5 1 .1 1 .5 1 0 1-.2 1 0 1-.4 1-.2 1 .6 1 .2 1-2.9 1-.2 1 1.2 1-.7 1 2.9 1-1.2 1 .8 1-.3 1 .1 1 .3 1 .3 1 .2 1-.4 1-.5 1 .2 1-.4 1 .3 1 0 1-.5 1 .9 1-.6 1 .4 1 .2 1-.6 1 0 1 .1 1 .2 1-.5 1-.5 1-.1 1-1.1 1 0 1-1.8 1-1.1 1-1.6 1-1.5 1-.8 1 .3 1 1 1 1 1 1 1 .1 1 .1 1 .3 1 .5 1 .8 1 1.1 1 .8 1 .1 1 1 1 0 1 .1 1 .3 1 .6 1-.6 1 .8 1-.1 1-.3 1 .1 1 .2 1-.3 1 0 1 .1 1 .1 1 0 1 .2 1-.5 1 .5 1 .4 1-.6 1 .4 1-.3 1-.2 1 .3 1 0 1-.3 1-1.7 1-.1 1 1.9 1-.2 1 .1 1-.1 1 .5 1 .2 1 .1 1-.2 1-.5 1 .1 1 .2 1 .1 1-.2 1 .2 1 .2 1-1 1 0 1 .8 1-.3 1-.5 1 .4 1-.2 1 .7 1-1 1 1 1-.1 1 .2 1-.4 1 .3 1-.6 1 .8 1-1.1 1 .6 1-.6 1 .4 1 .5 1 0 1 0 1 0 1-.1 1-.2 1 .1 1-.2 1-3.3 1 .2 1 .4 1 .2 1 2.7 1-.6 1 0 1 .9 1-.2 1 .3 1-.6 1-.2 1-.1 1 .7 1-.6 1 .3 1-.3 1 .7 1-.8 1 .3 1 0 1-.1 1 .3 1-.3 1 .2 1-.2 1-.1 1 .3 1-.3 1 .5 1-.2 1-.1 1-.4 1 2.9 1 0 1 .1 1-2.4 1-.1 1-.3 1 .2 1-.3 1 .3 1 .2 1-.2 1 .6 1-.3 1-.4 1 .6 1-.7 1 .5 1 .1 1-.1 1-.1 1 0 1 .4" fill="none" stroke="#1264e2" stroke-width="3.7" stroke-linejoin="round"/>
<path d="M157,1240.7l1-.1 1-.3 1 .2 1-.4 1 .7 1-.3 1 0 1-.2 1 .6 1-1 1 .3 1 .3 1 0 1 .1 1-.3 1-.5 1 .1 1 0 1 .2 1 .5 1-.6 1 .4 1 .5 1-.5 1-.2 1 .1 1-.2 1-.3 1 .6 1-.4 1 .3 1-.2 1 .2 1 .2 1-.1 1 .4 1-.4 1-.3 1 .5 1-.4 1 .3 1-.2 1 .3 1 .1 1-.4 1-.2 1 .4 1-.1 1 .1 1-.2 1 .4 1-.4 1-.3 1 .8 1-.7 1 0 1 .4 1-.2 1-.3 1 .3 1 .7 1-.7 1 .1 1 .1 1 0 1-.6 1 .8 1-.5 1 .2 1-.1 1-.2 1-.1 1-.1 1 .2 1-.1 1 .3 1 .4 1 0 1-.2 1 .3 1-.1 1 0 1-.8 1 .5 1-.4 1 .3 1 0 1-.4 1 .4 1 0 1 .5 1-2.9 1-.9 1 .1 1 3.4 1-.1 1-.1 1 .2 1-.7 1 .7 1-.5 1-.1 1 .6 1-.6 1-.4 1 1.4 1-.5 1-.3 1 .2 1 0 1 .6 1-.3 1-.6 1 .1 1-.2 1 .5 1 .4 1-.4 1 .2 1-.6 1 .1 1-.4 1 .6 1-.1 1 0 1 .4 1-.5 1 0 1-.1 1 .5 1-.3 1 0 1 .1 1 .2 1-.4 1 0 1 0 1-.1 1 .2 1 0 1 .1 1 .1 1 .1 1-.1 1-.3 1 .7 1-.1 1-.3 1-.2 1 .2 1 .4 1-.4 1-.3 1 .6 1-.6 1 .3 1-.1 1 .3 1-.2 1 0 1 .2 1-.5 1 1 1-1.4 1 1.1 1 .1 1 1.8 1-.4 1-1.8 1 .3 1-.3 1 .1 1-.1 1 .4 1 .4 1-1.1 1 .7 1-.7 1 .7 1-.3 1-.3 1 .6 1-.1 1 0 1 .2 1 0 1-.1 1 0 1 0 1-.6 1 .4 1-.4 1 .6 1 .1 1 .1 1 .6 1-1 1-.2 1-.2 1 .3 1 .4 1-.6 1 .4 1 .3 1-.1 1 0 1 .4 1 .1 1-.4 1 .3 1-.1 1-1 1 .7 1-.4 1 .8 1-.7 1 .2 1 .3 1 .1 1 .2 1-1 1 1 1-.2 1-.4 1-.1 1 .3 1-.1 1 .4 1-.4 1 .3 1 0 1 .1 1-.6 1 .8 1-.2 1-.4 1 .6 1-.1 1-.2 1 .2 1 .3 1-.4 1 .1 1-.5 1 .5 1-.1 1 .8 1-1.2 1 .5 1-.2 1 .1 1 .4 1-.1 1-.4 1 .1 1 .1 1 .6 1-.1 1-.3 1-.8 1 .5 1 .3 1-.2 1 .1 1-.3 1 1 1 .1 1-.6 1 .1 1 .1 1-.1 1-.3 1-.1 1 .3 1-.4 1 .6 1 0 1-.3 1 .6 1-.3 1-.4 1 .7 1-.3 1 .2 1-.4 1-.1 1 .7 1-.2 1-.3 1-.4 1 .9 1 0 1-.2 1 .3 1-.7 1 .1 1-.4 1 .5 1 .2 1-.2 1 .3 1-.9 1 .9 1-.5 1-.1 1 .2 1 .1 1 .1 1 .3 1-.4 1 .7 1-.1 1-.4 1 .6 1-1 1 .4 1 .1 1 .3 1 .4 1-1.4 1 .2 1 .3 1 .3 1 .6 1-.5 1 0 1-.4 1 .1 1 .2 1 0 1-.2 1 .2 1 .4 1-.3 1-.3 1 .2 1 .1 1-.1 1 .5 1-.7 1-.3 1 .3 1-.1 1 0 1 1 1 2.2 1-.7 1 .2 1-2.3 1 .5 1-.3 1 .9 1-.6 1-.2 1 .1 1 .3 1-.8 1 .5 1-.4 1-2.9 1 .5 1 .3 1-.1 1 2.6 1-.4 1 .7 1 0 1-.9 1 .2 1 .6 1-.6 1 .2 1-.1 1-.2 1 0 1 .3 1 .1 1 .1 1 0 1-.5 1 1 1-.2 1 0 1-2.4 1-.7 1 1.2 1 2.5 1-1.1 1 .6 1-.2 1 .1 1 .3 1-.1 1 .1 1-.1 1-.3 1-.4 1 .1 1 .5 1-.1 1-3.1 1 .7 1 2.5 1-1.1 1 1.2 1-2.4 1-.2 1 .5 1 .3 1 1.2 1 1.1 1-.3 1 0 1-.7 1 .4 1-.6 1 .9 1 0 1-.3 1 .7 1-.6 1 .5 1-.7 1-.1 1-.4 1 .7 1-.1 1 .2 1-.1 1 .2 1-.4 1 .3 1 .1 1-.2 1 .1 1-.4 1 .2 1 .5 1 .2 1-.2 1-.7 1 .5 1-.1 1-.2 1 .7 1-.2 1-.3 1-.3 1 .3 1 .3 1-.2 1 .1 1-.4 1 .1 1 .7 1-.4 1-.4 1 1.1 1-.8 1 0 1-.1 1 .1 1 .5 1-.3 1 .5 1-.4 1 .4 1-.7 1 .2 1 .2 1-.1 1 0 1 .1 1-.4 1 .5 1-2.7 1 .1 1 .2 1 2.1 1 0 1 .7 1-1 1 .4 1 .7 1-.6 1 0 1 .3 1-.2 1 .3 1-.3 1-.1 1 .5 1-.6 1 0 1 .2 1 .6 1-.6 1 .1 1-.5 1 .8 1-.2 1 .1 1 0 1-.1 1 0 1 0 1-.4 1 0 1 .1 1 .5 1-.2 1-.1 1-.7 1 .5 1 .5 1-.2 1-.4 1 0 1 .8 1-.5 1 0 1-.4 1 0 1 .5 1 0 1 .4 1-.2 1-.4 1-.1 1 .4 1 .6 1-.2 1-.6 1 .1 1-.1 1 .1 1-.5 1 0 1 .7 1-.9 1 .4 1-.3 1 .1 1 .8 1-1.2 1 .8 1-1.3 1 1 1 .3 1-1 1 .3 1 .1 1-.3 1 .1 1-.8 1 .6 1-.1 1-.5 1-1.3 1 .3 1-.4 1-.2 1-1 1-.9 1-1.4 1-1.1 1-2.3 1-2.7 1-3.7 1-6.3 1-10.5 1-18.1 1-36.9 1-54.2 1-60 1-14 1 27.4 1 39.2 1 48.8 1 38.8 1 23.5 1 13.3 1 7.3 1 4.8 1 3 1 2.4 1 1.7 1 1.1 1 .8 1 .6 1 .9 1 .5 1 .2 1 .2 1 1 1-.6 1 .6 1 0 1 .1 1 .4 1 0 1 .2 1-.2 1 .4 1 .6 1-.5 1 .1 1 .3 1-.9 1 .4 1 .3 1 .2 1 .1 1 .4 1-.1 1-.4 1 .2 1-.1 1 .4 1-.2 1 .1 1-.1 1 .2 1 .2 1-.1 1 .9 1-.6 1-.7 1-.3 1 .4 1 .2 1 0 1 .3 1-.3 1 .2 1 2.2 1 .1 1 .2 1-.1 1-2.4 1 .2 1-.4 1 .2 1-.1 1-.5 1 .5 1-.5 1 0 1 .6 1-.1 1-.1 1 .3 1-.4 1-.3 1 .5 1-.7 1 .7 1-.1 1 .4 1-.5 1 .1 1 2.4 1 .4 1-.8 1-1.9 1-.3 1 0 1 .2 1-.2 1 0 1 .1 1-.1 1 0 1 .5 1-.8 1-.3 1 1 1-.4 1 .6 1 .2 1-.1 1-.3 1-.5 1 .9 1-.5 1 .5 1-.5 1 .1 1-.4 1 .2 1 .5 1-.4 1 .6 1-3 1 .5 1 0 1 2 1-.2 1-.1 1-.2 1 .1 1 .6 1-.2 1-.4 1 0 1-.3 1 .6 1 .2 1-.4 1-.3 1 .2 1 .6 1-.2 1-.3 1-.1 1 .2 1 0 1 .2 1-.2 1 .2 1-.7 1 .5 1 0 1 .2 1 0 1 2.9 1-.3 1 .5 1-3.3 1-.3 1 .4 1 .1 1-.4 1 .4 1 .3 1-.4 1-.7 1 1 1-.6 1 .5 1 0 1-.2 1 .3 1 0 1 .2 1-.2 1-.7 1 .1 1 .3 1-.5 1 .7 1-.1 1-.2 1 0 1 .5 1-.2 1-.1 1-.4 1 0 1 0 1 .8 1 .5 1 .5 1 .2 1-.3 1 .3 1-2.3 1 2.7 1 .5 1-.5 1-2.9 1 .6 1 .1 1-.3 1 .8 1-1 1 .2 1 .3 1 0 1-.2 1-.2 1-.6 1 1.1 1-.4 1-.2 1 .6 1-.6 1-.1 1-.2 1 .5 1-.5 1-.1 1 .1 1 2 1-.7 1 1 1-1.7 1-.8 1 .1 1-.2 1 .5 1-.1 1-.3 1-.8 1 .1 1 .2 1-.7 1-.6 1 .3 1-.6 1 .8 1-1.7 1-.3 1-.7 1 .2 1-1.4 1-1.1 1-2.1 1-2.6 1-3 1-4.9 1-8.4 1-15.7 1-25.2 1-40.5 1-44.7 1-14.8 1 14.8 1 18.2 1 26.1 1 32.3 1 29.2 1 17.3 1 9.8 1 5.5 1 4.5 1 1.7 1 1.4 1 2.5 1 .1 1 .9 1 1.2 1 .6 1-.4 1 1.1 1 0 1 .3 1 .1 1-.9 1 .1 1-1.3 1-.2 1-1.1 1 0 1-.5 1 .2 1 1.7 1 .4 1 1.4 1 .6 1 .1 1 .8 1-.1 1 0 1 .2 1 .2 1 0 1-.8 1 .1 1 .6 1-.4 1 .8 1-.5 1 .3 1-.3 1 .7 1-.3 1-.3 1 .5 1 .4 1-1.4 1 1 1-2.9 1 .5 1 0 1-.1 1 2 1 .7 1 0 1-.6 1 .5 1-.5 1-.1 1 .5 1 .1 1 .2 1-.4 1 2.5 1-.5 1 .4 1-2 1-.1 1 2.1 1 .7 1-3 1 .2 1-.5 1 .3 1-.4 1 .3 1 .1 1-.2 1-.5 1 .6 1 .2 1-.2 1 .2 1 0 1-.2 1 .1 1 .1 1-.3 1 .5 1-.6 1 .3 1-.1 1-.7 1 .4 1-.2 1 .4 1 .1 1-.3 1 .2 1-.7 1 .6 1 .1 1 .1 1-.1 1-.7 1-.2 1 .5 1 .5 1-.8 1-.2 1 .1 1-.4 1 .2 1-.4 1-.3 1-.4 1-.3 1-.9 1-1 1-1.1 1-2.6 1-4.2 1-6.7 1-10.4 1-12.3 1-8.8 1 2.3 1 6 1 5.2 1 7 1 9.4 1 6.5 1 5.1 1 2.8 1 1.7 1 .8 1 1 1 0 1 .8 1-.2 1 .9 1-.2 1 .1 1 .4 1 .2 1 .1 1 .2 1 .1 1 .1 1 0 1-.4 1 .4 1-.7 1 .6 1-.6 1 .7 1-.3 1 .7 1-.7 1 0 1-.1 1-.6 1-1.4 1-.8 1-.6 1 .4 1 0 1 .7 1 1.1 1 .9 1 1 1-.6 1 .5 1 .4 1-.6 1 .7 1 .3 1-1 1 .1 1 .6 1-.3 1 0 1 .2 1-.3 1-.3 1 .6 1 0 1 0 1 0 1-.1 1-.1 1 .3 1-.1 1-.6 1 .9 1-.7 1 .3 1 .4 1-1 1 .9 1-.1 1 .3 1-.5 1-.2 1 .2 1-.7 1 1 1-.4 1 0 1-.4 1 .3 1 .2 1-.5 1 .7 1-.1 1 0 1-.5 1 .6 1-.2 1 .1 1-.4 1-.2 1-.1 1 3.3 1 .5 1-.8 1-2.8 1 .2 1 .1 1-.5 1 .8 1 .1 1-.4 1 .5 1-.7 1 .1 1 .1 1 .1 1 .1 1-.5 1 .3 1 .5 1-.8 1 .7 1-.5 1 .1 1 .2 1-.1 1 .1 1 .1 1-.5 1 .2 1-.1 1 0 1 .3 1 0 1-.2 1 .6 1 .3 1-3.3 1-.4 1 .4 1 2.4 1-.1 1 .5 1-.5 1 .4 1-.3 1 .2 1 0 1-.1 1-.1 1 .3 1-.2 1-.4 1 .7 1-.4 1 0 1-.1 1 .2 1-.1 1 .1 1 0 1 .3 1 .5 1-1.4 1 .3 1 .5 1-.4 1 0 1 .1 1 .2 1-.2 1 .3 1-.2 1-.5 1 0 1 .6 1-.5 1 .1 1 .8 1-1 1 .4 1 .4 1 .3 1-.2 1-.4 1-2.3 1-.6 1 .4 1 2.9 1-.3 1-.2 1-.2 1 .8 1-.5 1 .2 1-.1 1-.2 1 .3 1-.4 1-.2 1 .4 1-.1 1 .2 1-.4 1 .4 1-.1 1-.2 1 0 1-.2 1 1.3 1 2.2 1 0 1-.1 1-3 1-.2 1 0 1 .4 1-.2 1 .3 1 .2 1-.6 1 .1 1 0 1-.1 1-.2 1 1 1-.5 1 .2 1 0 1-.4 1-.3 1 .6 1-.9 1 .1 1 .4 1-.1 1 .1 1 0 1 .2 1-1 1 .6 1 .2 1 .5 1-.2 1-.7 1 .5 1 .1 1-.4 1 .6 1-.2 1 0 1-.1 1 .1 1 0 1 .1 1 .1 1-.2 1 .2 1 .1 1-.4 1-.1 1 .3 1 .3 1-.7 1 .2 1-.2 1 .5 1 0 1 0 1 .2 1-.5 1 .4 1-.3 1 .1 1-.1 1 .1 1-.6 1 .6 1 1.7 1-.1 1-1.8 1-.2 1 .1 1 .3 1 .1 1-.8 1 .5 1-.1 1 .4 1-.8 1 .5 1-.1 1 .1 1 .5 1-.3 1-.4 1 .1 1 .1 1-.2 1 0 1 .2 1-.1 1 .4 1-.8 1 .5 1 0 1-.4 1 .4 1 .3 1 .3 1-.4 1-.2 1 .1 1 .1 1-3.2 1 .2 1 2.4 1 .5 1 .2 1-.1 1-.1 1 .2 1 0 1-.2 1-.1 1 .2 1-.6 1 .6 1-.6 1-1.8 1-.2 1 1.8 1 .1 1 .3 1-.2 1 0 1 .7 1-.4 1 0 1-.2 1 1.7 1 .2 1-.5 1-.8 1-.4 1 .5 1-.8 1 .1 1 .1 1-.3 1 .7 1-.4 1 .3 1-.6 1 .5 1-.7 1 .7 1-.5 1 .8 1-.2 1-.5 1 .7 1 .3 1 2.2 1-.3 1 .4 1-.5 1-2.6 1 0 1 .3 1-.1 1 .2 1-.4 1 .1 1 0 1 0 1 .5 1-.2 1 0 1-.5 1 .1 1 .3 1 .1 1-.2 1-.7 1 .4 1 .8 1-.3 1 .3 1-1.1 1 1.2 1-.9 1 .4 1 .2 1-.1 1-.7 1 .6 1-.7 1 .7 1 .1 1-.3 1 .5 1-.6 1 .4 1-.1 1-.7 1 .7 1-.4 1 .5 1 0 1-.4 1-.1 1 0 1 .2 1 .2 1-.2 1-.3 1 .2 1 .5 1-.3 1-.3 1 .1 1-.3 1 .4 1-.1 1-.4 1 .9 1-.7 1-.3 1-.1 1 .6 1 .1 1-.7 1 .3 1-.1 1 .1 1 .3 1 0 1 .5 1-.8 1 .2 1-.1 1 .3 1-.4 1-.1 1-.1 1 .1 1 .2 1 0 1-.2 1-.6 1 .4 1-.1 1 .5 1-.4 1-.4 1 .3 1-.5 1-.2 1 0 1 .2 1-.5 1-.4 1-.5 1-.8 1-.3 1-1.1 1 .1 1-1.2 1-2 1-3.1 1-4.3 1-6.1 1-11 1-16.2 1-19.3 1-11.6 1 4.9 1 12.3 1 6.8 1 2.8 1 3.7 1 10.1 1 11.9 1 8 1 5.8 1 3.8 1 2.4 1 1.2 1 .9 1 .3 1 1.8 1-.3 1 1.1 1 .5 1 .3 1-.7 1 .6 1 0 1-.5 1 .5 1-.1 1 .5 1 0 1-.4 1 .5 1 .6 1-.4 1 .9 1-.8 1 0 1 .4 1-.6 1 .8 1-.1 1 .2 1-.1 1 0 1-.1 1-.5 1 .1 1 .5 1 .2 1-.7 1 .5 1 0 1-.2 1-.6 1 .3 1 0 1 .4 1 .2 1-.4 1 .2 1 0 1 .1 1-.1 1 .5 1-.7 1 .5 1-.8 1 .3 1 .3 1-.8 1 .4 1 .1 1-.5 1 1.1 1-.7 1 .2 1-.2 1 .5 1-.7 1 0 1 .5 1-.4 1 .4 1 .1 1-.4 1 .4 1 .1 1-.5 1-.2 1 .1 1-.3 1-.4 1-.5 1 .2 1-.6 1-1.5 1-1.1 1-1.9 1-3.2 1-3.4 1-2.5 1-1.4 1 .7 1 1.9 1 1.4 1 1.2 1 1 1 2.3 1 2.7 1 1.1 1 1.4 1 1.2 1 .6 1 .6 1 .1 1-.3 1 .4 1-.1 1-.1 1 .8 1 .1 1-.6 1 1 1-.9 1 .1 1 .1 1-.2 1 .1 1 .1 1 1.1 1-.8 1 .3 1-.3 1 .2 1 0 1-.3 1 .3 1-.2 1-.5 1-.1 1 .9 1-.2 1-.3 1-.6 1 .9 1-1.7 1-1 1 1.5 1 1.1 1 .3 1 .1 1-.2 1-.1 1 0 1-.1 1-.1 1-.2 1 .3 1 .1 1-.3 1 .1 1 .6 1-.4 1 .8 1-1 1-.1 1 .4 1-.2 1 .3 1-.1 1-.2 1 .3 1 .4 1-1.1 1 .7 1-.5 1 .4 1 .1 1-.2 1-.4 1 .9 1-.3 1-.9 1 1 1-.1 1-.4 1 .7 1-.5 1 .9 1-.9 1-.5 1 0 1 0 1 .6 1 .1 1-.2 1 .1 1-.5 1 .6 1-.4 1-.1 1 .4 1 .3 1-.9 1 .7 1-.3 1 .2 1 .3 1-.3 1 .1 1 2.2 1-.2 1-3.3 1-.2 1-1.4 1-1 1-1.2 1-1.7 1-.2 1 0 1 .5 1 1.2 1-.4 1 1.3 1 .3 1 1.1 1 .6 1 .9 1 .1 1 0 1 .7 1-.3 1-.1 1 .8 1 .6 1-1 1 2.6 1 0 1-.5 1 .8 1-3.1 1 .1 1 .7 1 .1 1-.5 1 0 1 .4 1 .5 1-2.5 1 .4 1-.7 1 2.4 1-.1 1-3 1 .3 1 0 1 .1 1 2.6 1 .1 1-.4 1 .2 1-.2 1 .6 1-.7 1 .6 1 0 1-.4 1-.6 1 .9 1 0 1-.1 1 .1 1-.1 1-.3 1 .7 1-.6 1-.2 1 .5 1-.5 1 .6 1-.5 1 .4 1-.4 1 0 1 .2 1-.1 1-.3 1 .5 1 .1 1-.1 1 .4 1-.9 1 .5 1 .1 1 0 1-.1 1 .2 1 2 1-.1 1-2 1-.3 1-.4 1 2.6 1 0 1 .1 1-.4 1-2.1 1 .3 1 .4 1-.2 1-.4 1-.5 1 1 1-.9 1 .7 1-.5 1 .3 1-.1 1 .3 1 .4 1-.2 1-.3 1-.5 1 0 1 .3 1 .3 1-.4 1 0 1-.3 1-.3 1 3.2 1-.5 1-.3 1 .6 1-3.2 1 .6 1-1.5 1 .4 1-.9 1-.7 1-1.9 1-2 1-3.3 1-2.7 1-2.1 1-.9 1 .7 1 1.1 1 1.8 1 .5 1 1 1 1.3 1 1.8 1 1.7 1 1.3 1 1.5 1 .5 1 1.2 1 .7 1-2.7 1 .3 1 .3 1 2.2 1 .5 1 .9 1-.6 1-.6 1 .1 1 .6 1 0 1-.2 1 0 1 .2 1-.7 1 .7 1 .4 1-.7 1-.1 1 .7 1-.4 1 .3 1-.6 1 .5 1 .1 1-.5 1 0 1 .3 1 .2 1-.5 1 1.9 1 .2 1 .4 1-2.5 1 .2 1 3.2 1 .4 1-.8 1-2.7 1-.2 1 .4 1-.2 1 .1 1 .2 1 .4 1-.8 1 .1 1-.2 1-.3 1 .7 1-.1 1 .2 1-.4 1-.1 1 .2 1 1.7 1 .5 1-.2 1-.2 1-1.9 1 0 1 0 1 .4 1-.8 1 .2 1-.4 1 .4 1 .7 1-.6 1 .2 1-.4 1-.3 1-.1 1 .5 1-.5 1 .8 1-.2 1 .3 1-.3 1-.1 1-.3 1 2.4 1 .2 1-2.3 1-1.1 1 .4 1 0 1-.6 1-.7 1-.8 1-1 1-2.2 1-2.3 1-2.7 1-2.8 1-1 1-1 1 1 1 1.4 1 1 1 1.1 1 .8 1 .8 1 1.5 1 1.7 1 1.7 1 1.5 1 .8 1 .6 1 .8 1 .2 1 .1 1 .2 1 .1 1-1 1 .9 1 .2 1 1.6 1 0 1-.1 1-2.1 1-.8 1-.3 1-.4 1-1.7 1-1.3 1-2.8 1-2.6 1-2.1 1-2.6 1-3.1 1 1.9 1 1 1 1.8 1 2.6 1 1.1 1 .5 1 1.1 1 2.1 1 1.2 1 1.2 1 1.6 1 .3 1 1.1 1 .4 1-.3 1 .5 1 .2 1 .4 1-.3 1 .8 1-.3 1-.1 1-.6 1-2 1-.1 1 .1 1-.1 1 3.1 1-.5 1 0 1 .7 1-.5 1 .2 1 .1 1-.3 1-.4 1 .1 1 .8 1-3.2 1 0 1 2.4 1 .2 1 0 1-.5 1 .7 1 .1 1 0 1 .3 1-.3 1-.6 1-2 1 .3 1-.4 1 2.4 1 .4 1 .3 1 0 1-.8 1 .4 1-.4 1 .6 1-.4 1 .3 1-.4 1 .6 1-.2 1 0 1-.1 1-.2 1 .1 1 .3 1-.1 1-.4 1 .2 1 .5 1-.4 1 .4 1-.5 1 .2 1-.4 1 .4 1-.6 1 .3 1 0 1-.3 1 .8 1-.5 1 .2 1 .3 1-.2 1-.3 1 .4 1-.1 1-.4 1 .7 1-.3 1-.2 1-.1 1 .1 1 .1 1-.2 1 .4 1-.7 1 .5 1 0 1-.1 1 .4 1-.6 1 .1 1 .1 1 .3 1-.3 1 .3 1 .1 1-.2 1-.1 1 0 1-.2 1 .7 1-.5 1 0 1-.6 1 .4 1 .4 1-.3 1 .5 1-.5 1 .5 1-.5 1-.4 1 .6 1-.4 1-.2 1 1.2 1-.2 1-.4 1 .3 1-.6 1-.3 1 0 1 .2 1-.1 1 .8 1-.2 1-.3 1-.5 1 .1 1 .5 1 0 1-.2 1 0 1-.4 1-.2 1 .6 1 .2 1-2.9 1-.2 1 1.2 1-.7 1 2.9 1-1.2 1 .8 1-.3 1 .1 1 .3 1 .3 1 .2 1-.4 1-.5 1 .2 1-.4 1 .3 1 0 1-.5 1 .9 1-.6 1 .4 1 .2 1-.6 1 0 1 .1 1 .2 1-.5 1-.5 1-.1 1-1.1 1 0 1-1.8 1-1.1 1-1.6 1-1.5 1-.8 1 .3 1 1 1 1 1 1 1 .1 1 .1 1 .3 1 .5 1 .8 1 1.1 1 .8 1 .1 1 1 1 0 1 .1 1 .3 1 .6 1-.6 1 .8 1-.1 1-.3 1 .1 1 .2 1-.3 1 0 1 .1 1 .1 1 0 1 .2 1-.5 1 .5 1 .4 1-.6 1 .4 1-.3 1-.2 1 .3 1 0 1-.3 1-1.7 1-.1 1 1.9 1-.2 1 .1 1-.1 1 .5 1 .2 1 .1 1-.2 1-.5 1 .1 1 .2 1 .1 1-.2 1 .2 1 .2 1-1 1 0 1 .8 1-.3 1-.5 1 .4 1-.2 1 .7 1-1 1 1 1-.1 1 .2 1-.4 1 .3 1-.6 1 .8 1-1.1 1 .6 1-.6 1 .4 1 .5 1 0 1 0 1 0 1-.1 1-.2 1 .1 1-.2 1-3.3 1 .2 1 .4 1 .2 1 2.7 1-.6 1 0 1 .9 1-.2 1 .3 1-.6 1-.2 1-.1 1 .7 1-.6 1 .3 1-.3 1 .7 1-.8 1 .3 1 0 1-.1 1 .3 1-.3 1 .2 1-.2 1-.1 1 .3 1-.3 1 .5 1-.2 1-.1 1-.4 1 2.9 1 0 1 .1 1-2.4 1-.1 1-.3 1 .2 1-.3 1 .3 1 .2 1-.2 1 .6 1-.3 1-.4 1 .6 1-.7 1 .5 1 .1 1-.1 1-.1 1 0 1 .4" fill="none" stroke="#1264e2" stroke-width="3.7" stroke-linejoin="round"/>
<path d="M731.0,1101.9 L731.0,1100.5 L732.0,1040.5 L733.0,1026.5 L734.0,1053.9 L735.0,1093.1 L736.0,1141.9 L736.0,1143.3 L733.5,1128.1 Z" fill="#1264e2"/>
<path d="M981.0,1176.1 L981.0,1174.7 L982.0,1134.2 L983.0,1089.5 L984.0,1074.7 L985.0,1089.5 L986.0,1107.7 L987.0,1133.8 L988.0,1166.1 L988.0,1167.5 L984.5,1153.1 Z" fill="#1264e2"/>
<path d="M1115.0,1215.8 L1115.0,1214.4 L1116.0,1202.1 L1117.0,1193.3 L1118.0,1195.6 L1119.0,1201.6 L1120.0,1206.8 L1121.0,1213.8 L1122.0,1223.2 L1122.0,1224.6 L1118.5,1215.3 Z" fill="#1264e2"/>
<path d="M1587.0,1212.9 L1587.0,1211.5 L1588.0,1195.3 L1589.0,1176.0 L1590.0,1164.4 L1591.0,1169.3 L1592.0,1181.6 L1593.0,1188.4 L1594.0,1191.2 L1595.0,1194.9 L1596.0,1205.0 L1596.0,1206.4 L1591.5,1201.3 Z" fill="#1264e2"/>
</g>
<g id="frame" stroke="#000" fill="none">
<rect x="157.0" y="54.0" width="2251.0" height="1657.0" stroke-width="6"/>
<line x1="157.0" y1="1711.0" x2="157.0" y2="1744.5" stroke-width="5.5"/>
<line x1="237.4" y1="1711.0" x2="237.4" y2="1728.5" stroke-width="5.5"/>
<line x1="317.8" y1="1711.0" x2="317.8" y2="1744.5" stroke-width="5.5"/>
<line x1="398.2" y1="1711.0" x2="398.2" y2="1728.5" stroke-width="5.5"/>
<line x1="478.6" y1="1711.0" x2="478.6" y2="1744.5" stroke-width="5.5"/>
<line x1="559.0" y1="1711.0" x2="559.0" y2="1728.5" stroke-width="5.5"/>
<line x1="639.4" y1="1711.0" x2="639.4" y2="1744.5" stroke-width="5.5"/>
<line x1="719.8" y1="1711.0" x2="719.8" y2="1728.5" stroke-width="5.5"/>
<line x1="800.1" y1="1711.0" x2="800.1" y2="1744.5" stroke-width="5.5"/>
<line x1="880.5" y1="1711.0" x2="880.5" y2="1728.5" stroke-width="5.5"/>
<line x1="960.9" y1="1711.0" x2="960.9" y2="1744.5" stroke-width="5.5"/>
<line x1="1041.3" y1="1711.0" x2="1041.3" y2="1728.5" stroke-width="5.5"/>
<line x1="1121.7" y1="1711.0" x2="1121.7" y2="1744.5" stroke-width="5.5"/>
<line x1="1202.1" y1="1711.0" x2="1202.1" y2="1728.5" stroke-width="5.5"/>
<line x1="1282.5" y1="1711.0" x2="1282.5" y2="1744.5" stroke-width="5.5"/>
<line x1="1362.9" y1="1711.0" x2="1362.9" y2="1728.5" stroke-width="5.5"/>
<line x1="1443.3" y1="1711.0" x2="1443.3" y2="1744.5" stroke-width="5.5"/>
<line x1="1523.7" y1="1711.0" x2="1523.7" y2="1728.5" stroke-width="5.5"/>
<line x1="1604.1" y1="1711.0" x2="1604.1" y2="1744.5" stroke-width="5.5"/>
<line x1="1684.5" y1="1711.0" x2="1684.5" y2="1728.5" stroke-width="5.5"/>
<line x1="1764.9" y1="1711.0" x2="1764.9" y2="1744.5" stroke-width="5.5"/>
<line x1="1845.2" y1="1711.0" x2="1845.2" y2="1728.5" stroke-width="5.5"/>
<line x1="1925.6" y1="1711.0" x2="1925.6" y2="1744.5" stroke-width="5.5"/>
<line x1="2006.0" y1="1711.0" x2="2006.0" y2="1728.5" stroke-width="5.5"/>
<line x1="2086.4" y1="1711.0" x2="2086.4" y2="1744.5" stroke-width="5.5"/>
<line x1="2166.8" y1="1711.0" x2="2166.8" y2="1728.5" stroke-width="5.5"/>
<line x1="2247.2" y1="1711.0" x2="2247.2" y2="1744.5" stroke-width="5.5"/>
<line x1="2327.6" y1="1711.0" x2="2327.6" y2="1728.5" stroke-width="5.5"/>
<line x1="2408.0" y1="1711.0" x2="2408.0" y2="1744.5" stroke-width="5.5"/>
</g>
<g id="ticklabels">
<text class="tick" x="156.0" y="1819">10</text>
<text class="tick" x="316.8" y="1819">15</text>
<text class="tick" x="477.6" y="1819">20</text>
<text class="tick" x="638.4" y="1819">25</text>
<text class="tick" x="799.1" y="1819">30</text>
<text class="tick" x="959.9" y="1819">35</text>
<text class="tick" x="1120.7" y="1819">40</text>
<text class="tick" x="1281.5" y="1819">45</text>
<text class="tick" x="1442.3" y="1819">50</text>
<text class="tick" x="1603.1" y="1819">55</text>
<text class="tick" x="1763.9" y="1819">60</text>
<text class="tick" x="1924.6" y="1819">65</text>
<text class="tick" x="2085.4" y="1819">70</text>
<text class="tick" x="2246.2" y="1819">75</text>
<text class="tick" x="2407.0" y="1819">80</text>
</g>
<text class="b" x="1328.5" y="1907" font-size="86" letter-spacing="0.25" text-anchor="middle">2 Theta (degree)</text>
<text class="b" transform="translate(96 877.8) rotate(-90)" font-size="85.9" text-anchor="middle">Intensify (a.u.)</text>
<g id="markers">
<path d="M862.00,325.00 L852.16,314.71 C851.75,314.19 851.75,313.45 851.75,312.40 L851.75,307.99 C851.75,305.47 853.18,304.00 855.44,304.00 L857.90,304.00 C859.54,304.00 860.98,305.57 862.00,309.04 C863.02,305.57 864.46,304.00 866.10,304.00 L868.56,304.00 C870.82,304.00 872.25,305.47 872.25,307.99 L872.25,312.40 C872.25,313.45 872.25,314.19 871.84,314.71Z" fill="#f78400"/>
<path d="M937.30,326.00 L927.46,315.71 C927.05,315.19 927.05,314.45 927.05,313.40 L927.05,308.99 C927.05,306.47 928.48,305.00 930.74,305.00 L933.20,305.00 C934.84,305.00 936.27,306.57 937.30,310.04 C938.32,306.57 939.76,305.00 941.40,305.00 L943.86,305.00 C946.12,305.00 947.55,306.47 947.55,308.99 L947.55,313.40 C947.55,314.45 947.55,315.19 947.14,315.71Z" fill="#f78400"/>
<path d="M1014.00,120.00 L1004.16,109.71 C1003.75,109.19 1003.75,108.45 1003.75,107.40 L1003.75,102.99 C1003.75,100.47 1005.18,99.00 1007.44,99.00 L1009.90,99.00 C1011.54,99.00 1012.98,100.58 1014.00,104.04 C1015.02,100.58 1016.46,99.00 1018.10,99.00 L1020.56,99.00 C1022.82,99.00 1024.25,100.47 1024.25,102.99 L1024.25,107.40 C1024.25,108.45 1024.25,109.19 1023.84,109.71Z" fill="#f78400"/>
<path d="M1372.50,372.50 L1362.66,362.21 C1362.25,361.69 1362.25,360.95 1362.25,359.90 L1362.25,355.49 C1362.25,352.97 1363.68,351.50 1365.94,351.50 L1368.40,351.50 C1370.04,351.50 1371.47,353.07 1372.50,356.54 C1373.53,353.07 1374.96,351.50 1376.60,351.50 L1379.06,351.50 C1381.32,351.50 1382.75,352.97 1382.75,355.49 L1382.75,359.90 C1382.75,360.95 1382.75,361.69 1382.34,362.21Z" fill="#f78400"/>
<path d="M1676.00,372.50 L1666.16,362.21 C1665.75,361.69 1665.75,360.95 1665.75,359.90 L1665.75,355.49 C1665.75,352.97 1667.18,351.50 1669.44,351.50 L1671.90,351.50 C1673.54,351.50 1674.97,353.07 1676.00,356.54 C1677.03,353.07 1678.46,351.50 1680.10,351.50 L1682.56,351.50 C1684.82,351.50 1686.25,352.97 1686.25,355.49 L1686.25,359.90 C1686.25,360.95 1686.25,361.69 1685.84,362.21Z" fill="#f78400"/>
<path d="M1859.00,378.00 L1849.16,367.71 C1848.75,367.19 1848.75,366.45 1848.75,365.40 L1848.75,360.99 C1848.75,358.47 1850.18,357.00 1852.44,357.00 L1854.90,357.00 C1856.54,357.00 1857.97,358.57 1859.00,362.04 C1860.03,358.57 1861.46,357.00 1863.10,357.00 L1865.56,357.00 C1867.82,357.00 1869.25,358.47 1869.25,360.99 L1869.25,365.40 C1869.25,366.45 1869.25,367.19 1868.84,367.71Z" fill="#f78400"/>
<path d="M2037.50,374.50 L2027.66,364.21 C2027.25,363.69 2027.25,362.95 2027.25,361.90 L2027.25,357.49 C2027.25,354.97 2028.68,353.50 2030.94,353.50 L2033.40,353.50 C2035.04,353.50 2036.47,355.07 2037.50,358.54 C2038.53,355.07 2039.96,353.50 2041.60,353.50 L2044.06,353.50 C2046.32,353.50 2047.75,354.97 2047.75,357.49 L2047.75,361.90 C2047.75,362.95 2047.75,363.69 2047.34,364.21Z" fill="#f78400"/>
<path d="M2082.00,398.50 L2072.16,388.21 C2071.75,387.69 2071.75,386.95 2071.75,385.90 L2071.75,381.49 C2071.75,378.97 2073.18,377.50 2075.44,377.50 L2077.90,377.50 C2079.54,377.50 2080.97,379.07 2082.00,382.54 C2083.03,379.07 2084.46,377.50 2086.10,377.50 L2088.56,377.50 C2090.82,377.50 2092.25,378.97 2092.25,381.49 L2092.25,385.90 C2092.25,386.95 2092.25,387.69 2091.84,388.21Z" fill="#f78400"/>
<path d="M2161.00,403.50 L2151.16,393.21 C2150.75,392.69 2150.75,391.95 2150.75,390.90 L2150.75,386.49 C2150.75,383.97 2152.18,382.50 2154.44,382.50 L2156.90,382.50 C2158.54,382.50 2159.97,384.07 2161.00,387.54 C2162.03,384.07 2163.46,382.50 2165.10,382.50 L2167.56,382.50 C2169.82,382.50 2171.25,383.97 2171.25,386.49 L2171.25,390.90 C2171.25,391.95 2171.25,392.69 2170.84,393.21Z" fill="#f78400"/>
<path d="M2332.50,398.50 L2322.66,388.21 C2322.25,387.69 2322.25,386.95 2322.25,385.90 L2322.25,381.49 C2322.25,378.97 2323.68,377.50 2325.94,377.50 L2328.40,377.50 C2330.04,377.50 2331.47,379.07 2332.50,382.54 C2333.53,379.07 2334.96,377.50 2336.60,377.50 L2339.06,377.50 C2341.32,377.50 2342.75,378.97 2342.75,381.49 L2342.75,385.90 C2342.75,386.95 2342.75,387.69 2342.34,388.21Z" fill="#f78400"/>
<path d="M1363.00,1564.00 L1353.16,1553.71 C1352.75,1553.18 1352.75,1552.45 1352.75,1551.40 L1352.75,1546.99 C1352.75,1544.47 1354.18,1543.00 1356.44,1543.00 L1358.90,1543.00 C1360.54,1543.00 1361.97,1544.58 1363.00,1548.04 C1364.03,1544.58 1365.46,1543.00 1367.10,1543.00 L1369.56,1543.00 C1371.82,1543.00 1373.25,1544.47 1373.25,1546.99 L1373.25,1551.40 C1373.25,1552.45 1373.25,1553.18 1372.84,1553.71Z" fill="#f78400"/>
<path d="M727.30,781.25 L735.80,792.50 L727.30,803.75 L718.80,792.50Z" fill="#f50000"/>
<path d="M976.50,779.25 L985.00,790.50 L976.50,801.75 L968.00,790.50Z" fill="#f50000"/>
<path d="M1110.50,890.75 L1119.00,902.00 L1110.50,913.25 L1102.00,902.00Z" fill="#f50000"/>
<path d="M1583.00,851.05 L1591.50,862.30 L1583.00,873.55 L1574.50,862.30Z" fill="#f50000"/>
<path d="M1685.00,926.45 L1693.50,937.70 L1685.00,948.95 L1676.50,937.70Z" fill="#f50000"/>
<path d="M1807.40,941.75 L1815.90,953.00 L1807.40,964.25 L1798.90,953.00Z" fill="#f50000"/>
<path d="M1926.70,926.45 L1935.20,937.70 L1926.70,948.95 L1918.20,937.70Z" fill="#f50000"/>
<path d="M2033.70,926.45 L2042.20,937.70 L2033.70,948.95 L2025.20,937.70Z" fill="#f50000"/>
<path d="M2076.00,923.75 L2084.50,935.00 L2076.00,946.25 L2067.50,935.00Z" fill="#f50000"/>
<path d="M2256.00,926.45 L2264.50,937.70 L2256.00,948.95 L2247.50,937.70Z" fill="#f50000"/>
<circle cx="1205.5" cy="385.0" r="6.9" fill="#0000ff"/>
</g>
<g id="legend">
<path d="M1729.60,127.00 L1713.28,110.83 C1712.60,110.00 1712.60,108.85 1712.60,107.20 L1712.60,100.27 C1712.60,96.31 1714.98,94.00 1718.72,94.00 L1722.80,94.00 C1725.52,94.00 1727.90,96.47 1729.60,101.92 C1731.30,96.47 1733.68,94.00 1736.40,94.00 L1740.48,94.00 C1744.22,94.00 1746.60,96.31 1746.60,100.27 L1746.60,107.20 C1746.60,108.85 1746.60,110.00 1745.92,110.83Z" fill="#f78400"/>
<text class="leg" x="1772" y="125.5">Mg</text>
<path d="M1945.80,91.20 L1961.05,109.70 L1945.80,128.20 L1930.55,109.70Z" fill="#f50000"/>
<text class="leg" x="1987" y="125.5">MgH<tspan font-size="37.5" dy="16" dx="1.5">2</tspan></text>
<circle cx="2218.4" cy="109.5" r="12.6" fill="#0000ff"/>
<text class="leg" x="2251.5" y="125.5">MgO</text>
</g>
<g id="labels">
<text class="lab" x="165.5" y="341.5">MgH<tspan font-size="29" dy="12">2</tspan><tspan dy="-12">+10wt% BC</tspan></text>
<text class="lab" x="166.5" y="409.5">(Dehydronation)</text>
<text class="lab" x="172.0" y="656.4">MgH<tspan font-size="29" dy="12">2</tspan><tspan dy="-12">+10wt% rGO</tspan></text>
<text class="lab" x="170.0" y="724.0">(Dehydronation)</text>
<text class="lab" x="168.5" y="901.9">MgH<tspan font-size="29" dy="12">2</tspan><tspan dy="-12">+10wt% rGO</tspan></text>
<text class="lab" x="166.5" y="971.0">(Ball-milling)</text>
<text class="lab" x="164.8" y="1149.0">MgH<tspan font-size="29" dy="12">2</tspan><tspan dy="-12">+10wt% BC</tspan></text>
<text class="lab" x="165.5" y="1218.0">(Ball-milling)</text>
<text class="lab" x="166.0" y="1291.0">MgH<tspan font-size="29" dy="12">2</tspan><tspan dy="-12">+10wt% BC</tspan></text>
<text class="lab" x="167.0" y="1360.0">(Rehydronation)</text>
<text class="lab" x="168.0" y="1523.0">MgH<tspan font-size="29" dy="12">2</tspan><tspan dy="-12">+10wt% BC</tspan></text>
<text class="lab" x="168.0" y="1591.5">(After 10 cycles)</text>
<rect x="553" y="511" width="188" height="79.5" fill="#ffffff"/>
<text class="b" x="558.5" y="563.2" font-size="53.8">Carbon</text>
</g>
</svg></body></html>
